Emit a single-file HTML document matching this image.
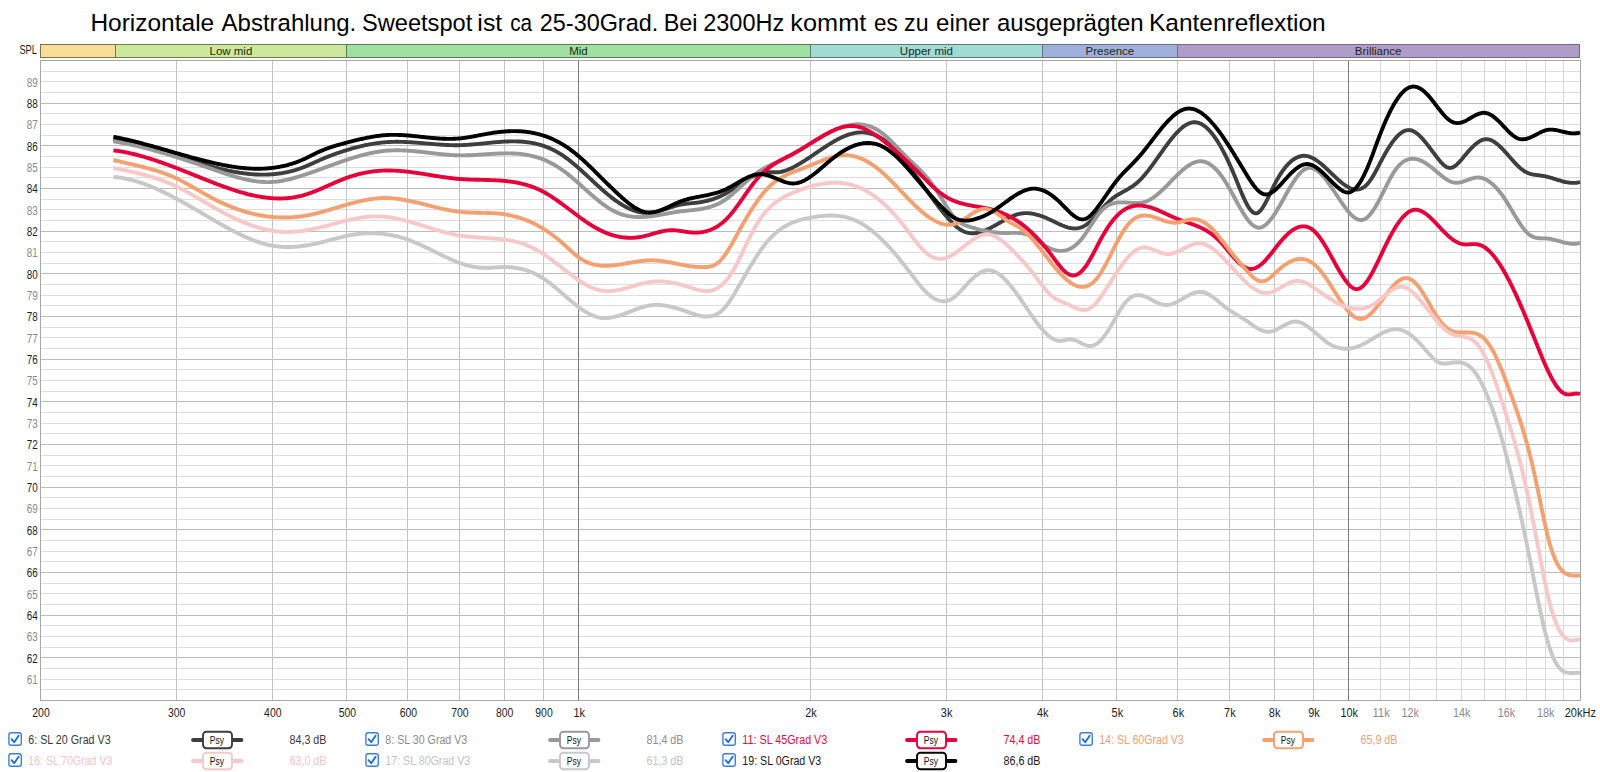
<!DOCTYPE html><html><head><meta charset="utf-8"><style>html,body{margin:0;padding:0;background:#fff;width:1600px;height:772px;overflow:hidden}svg{display:block}text{font-family:"Liberation Sans",sans-serif}</style></head><body>
<svg width="1600" height="772" viewBox="0 0 1600 772">
<rect x="0" y="0" width="1600" height="772" fill="#fff"/>
<text x="90.44" y="30.7" font-size="24.3" fill="#000" textLength="123.74" lengthAdjust="spacingAndGlyphs">Horizontale</text>
<text x="221.6" y="30.7" font-size="24.3" fill="#000" textLength="134.68" lengthAdjust="spacingAndGlyphs">Abstrahlung.</text>
<text x="361.94" y="30.7" font-size="24.3" fill="#000" textLength="110.29" lengthAdjust="spacingAndGlyphs">Sweetspot</text>
<text x="477.38" y="30.7" font-size="24.3" fill="#000" textLength="24.86" lengthAdjust="spacingAndGlyphs">ist</text>
<text x="510.17" y="30.7" font-size="24.3" fill="#000" textLength="21.85" lengthAdjust="spacingAndGlyphs">ca</text>
<text x="539.83" y="30.7" font-size="24.3" fill="#000" textLength="118.36" lengthAdjust="spacingAndGlyphs">25-30Grad.</text>
<text x="663.73" y="30.7" font-size="24.3" fill="#000" textLength="33.8" lengthAdjust="spacingAndGlyphs">Bei</text>
<text x="703.23" y="30.7" font-size="24.3" fill="#000" textLength="80.99" lengthAdjust="spacingAndGlyphs">2300Hz</text>
<text x="790.36" y="30.7" font-size="24.3" fill="#000" textLength="75.9" lengthAdjust="spacingAndGlyphs">kommt</text>
<text x="874.1" y="30.7" font-size="24.3" fill="#000" textLength="23.71" lengthAdjust="spacingAndGlyphs">es</text>
<text x="904.07" y="30.7" font-size="24.3" fill="#000" textLength="24.46" lengthAdjust="spacingAndGlyphs">zu</text>
<text x="936.04" y="30.7" font-size="24.3" fill="#000" textLength="53.41" lengthAdjust="spacingAndGlyphs">einer</text>
<text x="997.04" y="30.7" font-size="24.3" fill="#000" textLength="146.55" lengthAdjust="spacingAndGlyphs">ausgeprägten</text>
<text x="1149.05" y="30.7" font-size="24.3" fill="#000" textLength="176.6" lengthAdjust="spacingAndGlyphs">Kantenreflextion</text>
<text x="19.4" y="53.8" font-size="12.5" fill="#1a1a1a" textLength="17.6" lengthAdjust="spacingAndGlyphs">SPL</text>
<rect x="40" y="44" width="76" height="14" fill="#7f7050" shape-rendering="crispEdges"/>
<rect x="41" y="45" width="74" height="12" fill="#f8dc98" shape-rendering="crispEdges"/>
<rect x="115" y="44" width="232" height="14" fill="#6e7d58" shape-rendering="crispEdges"/>
<rect x="116" y="45" width="230" height="12" fill="#cde89a" shape-rendering="crispEdges"/>
<rect x="346" y="44" width="465" height="14" fill="#5a7a5a" shape-rendering="crispEdges"/>
<rect x="347" y="45" width="463" height="12" fill="#a0e0a0" shape-rendering="crispEdges"/>
<rect x="810" y="44" width="233" height="14" fill="#5e7a78" shape-rendering="crispEdges"/>
<rect x="811" y="45" width="231" height="12" fill="#a0dcd4" shape-rendering="crispEdges"/>
<rect x="1042" y="44" width="136" height="14" fill="#647088" shape-rendering="crispEdges"/>
<rect x="1043" y="45" width="134" height="12" fill="#a0b0dc" shape-rendering="crispEdges"/>
<rect x="1177" y="44" width="403" height="14" fill="#786a80" shape-rendering="crispEdges"/>
<rect x="1178" y="45" width="401" height="12" fill="#b09cc8" shape-rendering="crispEdges"/>
<text x="230.9" y="54.6" font-size="11.5" fill="#1c2a14" text-anchor="middle">Low mid</text>
<text x="578.4" y="54.6" font-size="11.5" fill="#1c2a14" text-anchor="middle">Mid</text>
<text x="926.4" y="54.6" font-size="11.5" fill="#1c2a14" text-anchor="middle">Upper mid</text>
<text x="1109.9" y="54.6" font-size="11.5" fill="#1c2a14" text-anchor="middle">Presence</text>
<text x="1378.2" y="54.6" font-size="11.5" fill="#1c2a14" text-anchor="middle">Brilliance</text>
<line x1="40" y1="689.5" x2="1580" y2="689.5" stroke="#dedede" stroke-width="1"/>
<line x1="40" y1="679.5" x2="1580" y2="679.5" stroke="#dedede" stroke-width="1"/>
<line x1="40" y1="668.5" x2="1580" y2="668.5" stroke="#dedede" stroke-width="1"/>
<line x1="40" y1="657.5" x2="1580" y2="657.5" stroke="#bdbdbd" stroke-width="1"/>
<line x1="40" y1="647.5" x2="1580" y2="647.5" stroke="#dedede" stroke-width="1"/>
<line x1="40" y1="636.5" x2="1580" y2="636.5" stroke="#dedede" stroke-width="1"/>
<line x1="40" y1="625.5" x2="1580" y2="625.5" stroke="#dedede" stroke-width="1"/>
<line x1="40" y1="615.5" x2="1580" y2="615.5" stroke="#bdbdbd" stroke-width="1"/>
<line x1="40" y1="604.5" x2="1580" y2="604.5" stroke="#dedede" stroke-width="1"/>
<line x1="40" y1="593.5" x2="1580" y2="593.5" stroke="#dedede" stroke-width="1"/>
<line x1="40" y1="583.5" x2="1580" y2="583.5" stroke="#dedede" stroke-width="1"/>
<line x1="40" y1="572.5" x2="1580" y2="572.5" stroke="#bdbdbd" stroke-width="1"/>
<line x1="40" y1="561.5" x2="1580" y2="561.5" stroke="#dedede" stroke-width="1"/>
<line x1="40" y1="551.5" x2="1580" y2="551.5" stroke="#dedede" stroke-width="1"/>
<line x1="40" y1="540.5" x2="1580" y2="540.5" stroke="#dedede" stroke-width="1"/>
<line x1="40" y1="529.5" x2="1580" y2="529.5" stroke="#bdbdbd" stroke-width="1"/>
<line x1="40" y1="519.5" x2="1580" y2="519.5" stroke="#dedede" stroke-width="1"/>
<line x1="40" y1="508.5" x2="1580" y2="508.5" stroke="#dedede" stroke-width="1"/>
<line x1="40" y1="497.5" x2="1580" y2="497.5" stroke="#dedede" stroke-width="1"/>
<line x1="40" y1="487.5" x2="1580" y2="487.5" stroke="#bdbdbd" stroke-width="1"/>
<line x1="40" y1="476.5" x2="1580" y2="476.5" stroke="#dedede" stroke-width="1"/>
<line x1="40" y1="465.5" x2="1580" y2="465.5" stroke="#dedede" stroke-width="1"/>
<line x1="40" y1="455.5" x2="1580" y2="455.5" stroke="#dedede" stroke-width="1"/>
<line x1="40" y1="444.5" x2="1580" y2="444.5" stroke="#bdbdbd" stroke-width="1"/>
<line x1="40" y1="433.5" x2="1580" y2="433.5" stroke="#dedede" stroke-width="1"/>
<line x1="40" y1="423.5" x2="1580" y2="423.5" stroke="#dedede" stroke-width="1"/>
<line x1="40" y1="412.5" x2="1580" y2="412.5" stroke="#dedede" stroke-width="1"/>
<line x1="40" y1="401.5" x2="1580" y2="401.5" stroke="#bdbdbd" stroke-width="1"/>
<line x1="40" y1="391.5" x2="1580" y2="391.5" stroke="#dedede" stroke-width="1"/>
<line x1="40" y1="380.5" x2="1580" y2="380.5" stroke="#dedede" stroke-width="1"/>
<line x1="40" y1="369.5" x2="1580" y2="369.5" stroke="#dedede" stroke-width="1"/>
<line x1="40" y1="359.5" x2="1580" y2="359.5" stroke="#bdbdbd" stroke-width="1"/>
<line x1="40" y1="348.5" x2="1580" y2="348.5" stroke="#dedede" stroke-width="1"/>
<line x1="40" y1="337.5" x2="1580" y2="337.5" stroke="#dedede" stroke-width="1"/>
<line x1="40" y1="327.5" x2="1580" y2="327.5" stroke="#dedede" stroke-width="1"/>
<line x1="40" y1="316.5" x2="1580" y2="316.5" stroke="#bdbdbd" stroke-width="1"/>
<line x1="40" y1="305.5" x2="1580" y2="305.5" stroke="#dedede" stroke-width="1"/>
<line x1="40" y1="295.5" x2="1580" y2="295.5" stroke="#dedede" stroke-width="1"/>
<line x1="40" y1="284.5" x2="1580" y2="284.5" stroke="#dedede" stroke-width="1"/>
<line x1="40" y1="273.5" x2="1580" y2="273.5" stroke="#bdbdbd" stroke-width="1"/>
<line x1="40" y1="263.5" x2="1580" y2="263.5" stroke="#dedede" stroke-width="1"/>
<line x1="40" y1="252.5" x2="1580" y2="252.5" stroke="#dedede" stroke-width="1"/>
<line x1="40" y1="241.5" x2="1580" y2="241.5" stroke="#dedede" stroke-width="1"/>
<line x1="40" y1="231.5" x2="1580" y2="231.5" stroke="#bdbdbd" stroke-width="1"/>
<line x1="40" y1="220.5" x2="1580" y2="220.5" stroke="#dedede" stroke-width="1"/>
<line x1="40" y1="209.5" x2="1580" y2="209.5" stroke="#dedede" stroke-width="1"/>
<line x1="40" y1="199.5" x2="1580" y2="199.5" stroke="#dedede" stroke-width="1"/>
<line x1="40" y1="188.5" x2="1580" y2="188.5" stroke="#bdbdbd" stroke-width="1"/>
<line x1="40" y1="177.5" x2="1580" y2="177.5" stroke="#dedede" stroke-width="1"/>
<line x1="40" y1="167.5" x2="1580" y2="167.5" stroke="#dedede" stroke-width="1"/>
<line x1="40" y1="156.5" x2="1580" y2="156.5" stroke="#dedede" stroke-width="1"/>
<line x1="40" y1="145.5" x2="1580" y2="145.5" stroke="#bdbdbd" stroke-width="1"/>
<line x1="40" y1="135.5" x2="1580" y2="135.5" stroke="#dedede" stroke-width="1"/>
<line x1="40" y1="124.5" x2="1580" y2="124.5" stroke="#dedede" stroke-width="1"/>
<line x1="40" y1="113.5" x2="1580" y2="113.5" stroke="#dedede" stroke-width="1"/>
<line x1="40" y1="103.5" x2="1580" y2="103.5" stroke="#bdbdbd" stroke-width="1"/>
<line x1="40" y1="92.5" x2="1580" y2="92.5" stroke="#dedede" stroke-width="1"/>
<line x1="40" y1="81.5" x2="1580" y2="81.5" stroke="#dedede" stroke-width="1"/>
<line x1="40" y1="71.5" x2="1580" y2="71.5" stroke="#dedede" stroke-width="1"/>
<line x1="176.5" y1="60" x2="176.5" y2="700" stroke="#c4c4c4" stroke-width="1"/>
<line x1="272.5" y1="60" x2="272.5" y2="700" stroke="#c4c4c4" stroke-width="1"/>
<line x1="346.5" y1="60" x2="346.5" y2="700" stroke="#c4c4c4" stroke-width="1"/>
<line x1="407.5" y1="60" x2="407.5" y2="700" stroke="#c4c4c4" stroke-width="1"/>
<line x1="459.5" y1="60" x2="459.5" y2="700" stroke="#c4c4c4" stroke-width="1"/>
<line x1="504.5" y1="60" x2="504.5" y2="700" stroke="#c4c4c4" stroke-width="1"/>
<line x1="543.5" y1="60" x2="543.5" y2="700" stroke="#c4c4c4" stroke-width="1"/>
<line x1="578.5" y1="60" x2="578.5" y2="700" stroke="#7a7a7a" stroke-width="1"/>
<line x1="810.5" y1="60" x2="810.5" y2="700" stroke="#c4c4c4" stroke-width="1"/>
<line x1="946.5" y1="60" x2="946.5" y2="700" stroke="#c4c4c4" stroke-width="1"/>
<line x1="1042.5" y1="60" x2="1042.5" y2="700" stroke="#c4c4c4" stroke-width="1"/>
<line x1="1116.5" y1="60" x2="1116.5" y2="700" stroke="#c4c4c4" stroke-width="1"/>
<line x1="1177.5" y1="60" x2="1177.5" y2="700" stroke="#c4c4c4" stroke-width="1"/>
<line x1="1229.5" y1="60" x2="1229.5" y2="700" stroke="#c4c4c4" stroke-width="1"/>
<line x1="1274.5" y1="60" x2="1274.5" y2="700" stroke="#c4c4c4" stroke-width="1"/>
<line x1="1313.5" y1="60" x2="1313.5" y2="700" stroke="#c4c4c4" stroke-width="1"/>
<line x1="1348.5" y1="60" x2="1348.5" y2="700" stroke="#7a7a7a" stroke-width="1"/>
<line x1="1380.5" y1="60" x2="1380.5" y2="700" stroke="#dadada" stroke-width="1"/>
<line x1="1409.5" y1="60" x2="1409.5" y2="700" stroke="#dadada" stroke-width="1"/>
<line x1="1436.5" y1="60" x2="1436.5" y2="700" stroke="#dadada" stroke-width="1"/>
<line x1="1461.5" y1="60" x2="1461.5" y2="700" stroke="#dadada" stroke-width="1"/>
<line x1="1484.5" y1="60" x2="1484.5" y2="700" stroke="#dadada" stroke-width="1"/>
<line x1="1505.5" y1="60" x2="1505.5" y2="700" stroke="#dadada" stroke-width="1"/>
<line x1="1526.5" y1="60" x2="1526.5" y2="700" stroke="#dadada" stroke-width="1"/>
<line x1="1545.5" y1="60" x2="1545.5" y2="700" stroke="#dadada" stroke-width="1"/>
<line x1="1563.5" y1="60" x2="1563.5" y2="700" stroke="#dadada" stroke-width="1"/>
<rect x="40.5" y="60.5" width="1540" height="640" fill="none" stroke="#a8a8a8" stroke-width="1"/>
<text x="37.8" y="684.1" font-size="12" fill="#8a8a8a" text-anchor="end" textLength="11" lengthAdjust="spacingAndGlyphs">61</text>
<text x="37.8" y="662.7" font-size="12" fill="#1e1e1e" text-anchor="end" textLength="11" lengthAdjust="spacingAndGlyphs">62</text>
<text x="37.8" y="641.4" font-size="12" fill="#8a8a8a" text-anchor="end" textLength="11" lengthAdjust="spacingAndGlyphs">63</text>
<text x="37.8" y="620.1" font-size="12" fill="#1e1e1e" text-anchor="end" textLength="11" lengthAdjust="spacingAndGlyphs">64</text>
<text x="37.8" y="598.7" font-size="12" fill="#8a8a8a" text-anchor="end" textLength="11" lengthAdjust="spacingAndGlyphs">65</text>
<text x="37.8" y="577.4" font-size="12" fill="#1e1e1e" text-anchor="end" textLength="11" lengthAdjust="spacingAndGlyphs">66</text>
<text x="37.8" y="556.1" font-size="12" fill="#8a8a8a" text-anchor="end" textLength="11" lengthAdjust="spacingAndGlyphs">67</text>
<text x="37.8" y="534.7" font-size="12" fill="#1e1e1e" text-anchor="end" textLength="11" lengthAdjust="spacingAndGlyphs">68</text>
<text x="37.8" y="513.4" font-size="12" fill="#8a8a8a" text-anchor="end" textLength="11" lengthAdjust="spacingAndGlyphs">69</text>
<text x="37.8" y="492.1" font-size="12" fill="#1e1e1e" text-anchor="end" textLength="11" lengthAdjust="spacingAndGlyphs">70</text>
<text x="37.8" y="470.7" font-size="12" fill="#8a8a8a" text-anchor="end" textLength="11" lengthAdjust="spacingAndGlyphs">71</text>
<text x="37.8" y="449.4" font-size="12" fill="#1e1e1e" text-anchor="end" textLength="11" lengthAdjust="spacingAndGlyphs">72</text>
<text x="37.8" y="428.1" font-size="12" fill="#8a8a8a" text-anchor="end" textLength="11" lengthAdjust="spacingAndGlyphs">73</text>
<text x="37.8" y="406.7" font-size="12" fill="#1e1e1e" text-anchor="end" textLength="11" lengthAdjust="spacingAndGlyphs">74</text>
<text x="37.8" y="385.4" font-size="12" fill="#8a8a8a" text-anchor="end" textLength="11" lengthAdjust="spacingAndGlyphs">75</text>
<text x="37.8" y="364.1" font-size="12" fill="#1e1e1e" text-anchor="end" textLength="11" lengthAdjust="spacingAndGlyphs">76</text>
<text x="37.8" y="342.7" font-size="12" fill="#8a8a8a" text-anchor="end" textLength="11" lengthAdjust="spacingAndGlyphs">77</text>
<text x="37.8" y="321.4" font-size="12" fill="#1e1e1e" text-anchor="end" textLength="11" lengthAdjust="spacingAndGlyphs">78</text>
<text x="37.8" y="300.1" font-size="12" fill="#8a8a8a" text-anchor="end" textLength="11" lengthAdjust="spacingAndGlyphs">79</text>
<text x="37.8" y="278.7" font-size="12" fill="#1e1e1e" text-anchor="end" textLength="11" lengthAdjust="spacingAndGlyphs">80</text>
<text x="37.8" y="257.4" font-size="12" fill="#8a8a8a" text-anchor="end" textLength="11" lengthAdjust="spacingAndGlyphs">81</text>
<text x="37.8" y="236.1" font-size="12" fill="#1e1e1e" text-anchor="end" textLength="11" lengthAdjust="spacingAndGlyphs">82</text>
<text x="37.8" y="214.7" font-size="12" fill="#8a8a8a" text-anchor="end" textLength="11" lengthAdjust="spacingAndGlyphs">83</text>
<text x="37.8" y="193.4" font-size="12" fill="#1e1e1e" text-anchor="end" textLength="11" lengthAdjust="spacingAndGlyphs">84</text>
<text x="37.8" y="172.1" font-size="12" fill="#8a8a8a" text-anchor="end" textLength="11" lengthAdjust="spacingAndGlyphs">85</text>
<text x="37.8" y="150.7" font-size="12" fill="#1e1e1e" text-anchor="end" textLength="11" lengthAdjust="spacingAndGlyphs">86</text>
<text x="37.8" y="129.4" font-size="12" fill="#8a8a8a" text-anchor="end" textLength="11" lengthAdjust="spacingAndGlyphs">87</text>
<text x="37.8" y="108.1" font-size="12" fill="#1e1e1e" text-anchor="end" textLength="11" lengthAdjust="spacingAndGlyphs">88</text>
<text x="37.8" y="86.7" font-size="12" fill="#8a8a8a" text-anchor="end" textLength="11" lengthAdjust="spacingAndGlyphs">89</text>
<text x="41.0" y="716.8" font-size="12.3" fill="#1e1e1e" text-anchor="middle" textLength="17.4" lengthAdjust="spacingAndGlyphs">200</text>
<text x="176.6" y="716.8" font-size="12.3" fill="#1e1e1e" text-anchor="middle" textLength="17.4" lengthAdjust="spacingAndGlyphs">300</text>
<text x="272.8" y="716.8" font-size="12.3" fill="#1e1e1e" text-anchor="middle" textLength="17.4" lengthAdjust="spacingAndGlyphs">400</text>
<text x="347.4" y="716.8" font-size="12.3" fill="#1e1e1e" text-anchor="middle" textLength="17.4" lengthAdjust="spacingAndGlyphs">500</text>
<text x="408.4" y="716.8" font-size="12.3" fill="#1e1e1e" text-anchor="middle" textLength="17.4" lengthAdjust="spacingAndGlyphs">600</text>
<text x="459.9" y="716.8" font-size="12.3" fill="#1e1e1e" text-anchor="middle" textLength="17.4" lengthAdjust="spacingAndGlyphs">700</text>
<text x="504.6" y="716.8" font-size="12.3" fill="#1e1e1e" text-anchor="middle" textLength="17.4" lengthAdjust="spacingAndGlyphs">800</text>
<text x="544.0" y="716.8" font-size="12.3" fill="#1e1e1e" text-anchor="middle" textLength="17.4" lengthAdjust="spacingAndGlyphs">900</text>
<text x="579.2" y="716.8" font-size="12.3" fill="#1e1e1e" text-anchor="middle" textLength="11.6" lengthAdjust="spacingAndGlyphs">1k</text>
<text x="811.0" y="716.8" font-size="12.3" fill="#1e1e1e" text-anchor="middle" textLength="11.6" lengthAdjust="spacingAndGlyphs">2k</text>
<text x="946.6" y="716.8" font-size="12.3" fill="#1e1e1e" text-anchor="middle" textLength="11.6" lengthAdjust="spacingAndGlyphs">3k</text>
<text x="1042.8" y="716.8" font-size="12.3" fill="#1e1e1e" text-anchor="middle" textLength="11.6" lengthAdjust="spacingAndGlyphs">4k</text>
<text x="1117.4" y="716.8" font-size="12.3" fill="#1e1e1e" text-anchor="middle" textLength="11.6" lengthAdjust="spacingAndGlyphs">5k</text>
<text x="1178.4" y="716.8" font-size="12.3" fill="#1e1e1e" text-anchor="middle" textLength="11.6" lengthAdjust="spacingAndGlyphs">6k</text>
<text x="1229.9" y="716.8" font-size="12.3" fill="#1e1e1e" text-anchor="middle" textLength="11.6" lengthAdjust="spacingAndGlyphs">7k</text>
<text x="1274.6" y="716.8" font-size="12.3" fill="#1e1e1e" text-anchor="middle" textLength="11.6" lengthAdjust="spacingAndGlyphs">8k</text>
<text x="1314.0" y="716.8" font-size="12.3" fill="#1e1e1e" text-anchor="middle" textLength="11.6" lengthAdjust="spacingAndGlyphs">9k</text>
<text x="1349.2" y="716.8" font-size="12.3" fill="#1e1e1e" text-anchor="middle" textLength="17.4" lengthAdjust="spacingAndGlyphs">10k</text>
<text x="1381.1" y="716.8" font-size="12.3" fill="#8a8a8a" text-anchor="middle" textLength="17.4" lengthAdjust="spacingAndGlyphs">11k</text>
<text x="1410.2" y="716.8" font-size="12.3" fill="#8a8a8a" text-anchor="middle" textLength="17.4" lengthAdjust="spacingAndGlyphs">12k</text>
<text x="1461.7" y="716.8" font-size="12.3" fill="#8a8a8a" text-anchor="middle" textLength="17.4" lengthAdjust="spacingAndGlyphs">14k</text>
<text x="1506.4" y="716.8" font-size="12.3" fill="#8a8a8a" text-anchor="middle" textLength="17.4" lengthAdjust="spacingAndGlyphs">16k</text>
<text x="1545.8" y="716.8" font-size="12.3" fill="#8a8a8a" text-anchor="middle" textLength="17.4" lengthAdjust="spacingAndGlyphs">18k</text>
<text x="1564.7" y="716.8" font-size="12.3" fill="#1e1e1e" textLength="31.2" lengthAdjust="spacingAndGlyphs">20kHz</text>
<g fill="none" stroke-width="3.9" stroke-linejoin="round" stroke-linecap="butt">
<path d="M113.4,139.34 L114.4,139.47 L115.4,139.61 L116.4,139.76 L117.4,139.91 L118.4,140.06 L119.4,140.22 L120.4,140.39 L121.4,140.56 L122.4,140.74 L123.4,140.92 L124.4,141.11 L125.4,141.30 L126.4,141.50 L127.4,141.70 L128.4,141.91 L129.4,142.12 L130.4,142.34 L131.4,142.56 L132.4,142.78 L133.4,143.01 L134.4,143.24 L135.4,143.48 L136.4,143.72 L137.4,143.97 L138.4,144.22 L139.4,144.47 L140.4,144.73 L141.4,144.99 L142.4,145.25 L143.4,145.52 L144.4,145.79 L145.4,146.06 L146.4,146.34 L147.4,146.62 L148.4,146.90 L149.4,147.18 L150.4,147.47 L151.4,147.76 L152.4,148.05 L153.4,148.35 L154.4,148.65 L155.4,148.95 L156.4,149.25 L157.4,149.55 L158.4,149.86 L159.4,150.17 L160.4,150.48 L161.4,150.79 L162.4,151.10 L163.4,151.41 L164.4,151.73 L165.4,152.05 L166.4,152.36 L167.4,152.68 L168.4,153.00 L169.4,153.33 L170.4,153.65 L171.4,153.97 L172.4,154.30 L173.4,154.62 L174.4,154.94 L175.4,155.27 L176.4,155.60 L177.4,155.92 L178.4,156.25 L179.4,156.57 L180.4,156.90 L181.4,157.22 L182.4,157.55 L183.4,157.87 L184.4,158.20 L185.4,158.52 L186.4,158.85 L187.4,159.17 L188.4,159.49 L189.4,159.81 L190.4,160.13 L191.4,160.45 L192.4,160.77 L193.4,161.09 L194.4,161.40 L195.4,161.72 L196.4,162.03 L197.4,162.34 L198.4,162.65 L199.4,162.96 L200.4,163.26 L201.4,163.56 L202.4,163.86 L203.4,164.16 L204.4,164.46 L205.4,164.75 L206.4,165.05 L207.4,165.34 L208.4,165.62 L209.4,165.91 L210.4,166.19 L211.4,166.47 L212.4,166.74 L213.4,167.01 L214.4,167.28 L215.4,167.55 L216.4,167.81 L217.4,168.07 L218.4,168.33 L219.4,168.58 L220.4,168.82 L221.4,169.07 L222.4,169.31 L223.4,169.55 L224.4,169.78 L225.4,170.01 L226.4,170.23 L227.4,170.45 L228.4,170.66 L229.4,170.87 L230.4,171.08 L231.4,171.28 L232.4,171.47 L233.4,171.67 L234.4,171.85 L235.4,172.03 L236.4,172.21 L237.4,172.38 L238.4,172.54 L239.4,172.70 L240.4,172.86 L241.4,173.00 L242.4,173.15 L243.4,173.28 L244.4,173.41 L245.4,173.54 L246.4,173.66 L247.4,173.77 L248.4,173.87 L249.4,173.97 L250.4,174.07 L251.4,174.15 L252.4,174.23 L253.4,174.31 L254.4,174.37 L255.4,174.43 L256.4,174.48 L257.4,174.53 L258.4,174.57 L259.4,174.60 L260.4,174.62 L261.4,174.63 L262.4,174.64 L263.4,174.64 L264.4,174.63 L265.4,174.62 L266.4,174.59 L267.4,174.56 L268.4,174.52 L269.4,174.47 L270.4,174.42 L271.4,174.35 L272.4,174.28 L273.4,174.20 L274.4,174.11 L275.4,174.01 L276.4,173.90 L277.4,173.78 L278.4,173.66 L279.4,173.52 L280.4,173.37 L281.4,173.22 L282.4,173.06 L283.4,172.88 L284.4,172.70 L285.4,172.51 L286.4,172.31 L287.4,172.09 L288.4,171.87 L289.4,171.64 L290.4,171.40 L291.4,171.14 L292.4,170.88 L293.4,170.61 L294.4,170.32 L295.4,170.03 L296.4,169.72 L297.4,169.41 L298.4,169.08 L299.4,168.74 L300.4,168.39 L301.4,168.03 L302.4,167.66 L303.4,167.27 L304.4,166.88 L305.4,166.47 L306.4,166.06 L307.4,165.63 L308.4,165.20 L309.4,164.77 L310.4,164.32 L311.4,163.87 L312.4,163.42 L313.4,162.97 L314.4,162.52 L315.4,162.06 L316.4,161.61 L317.4,161.15 L318.4,160.71 L319.4,160.26 L320.4,159.82 L321.4,159.39 L322.4,158.96 L323.4,158.53 L324.4,158.12 L325.4,157.71 L326.4,157.30 L327.4,156.90 L328.4,156.50 L329.4,156.11 L330.4,155.73 L331.4,155.35 L332.4,154.97 L333.4,154.60 L334.4,154.24 L335.4,153.88 L336.4,153.52 L337.4,153.17 L338.4,152.82 L339.4,152.48 L340.4,152.15 L341.4,151.81 L342.4,151.49 L343.4,151.16 L344.4,150.84 L345.4,150.53 L346.4,150.22 L347.4,149.91 L348.4,149.61 L349.4,149.32 L350.4,149.02 L351.4,148.73 L352.4,148.45 L353.4,148.17 L354.4,147.90 L355.4,147.63 L356.4,147.36 L357.4,147.11 L358.4,146.85 L359.4,146.60 L360.4,146.36 L361.4,146.12 L362.4,145.89 L363.4,145.66 L364.4,145.44 L365.4,145.22 L366.4,145.01 L367.4,144.81 L368.4,144.61 L369.4,144.42 L370.4,144.24 L371.4,144.06 L372.4,143.88 L373.4,143.72 L374.4,143.56 L375.4,143.40 L376.4,143.26 L377.4,143.11 L378.4,142.98 L379.4,142.85 L380.4,142.74 L381.4,142.62 L382.4,142.52 L383.4,142.42 L384.4,142.33 L385.4,142.25 L386.4,142.17 L387.4,142.10 L388.4,142.04 L389.4,141.99 L390.4,141.94 L391.4,141.90 L392.4,141.87 L393.4,141.85 L394.4,141.83 L395.4,141.82 L396.4,141.81 L397.4,141.81 L398.4,141.82 L399.4,141.83 L400.4,141.84 L401.4,141.86 L402.4,141.89 L403.4,141.92 L404.4,141.96 L405.4,142.00 L406.4,142.04 L407.4,142.09 L408.4,142.14 L409.4,142.20 L410.4,142.26 L411.4,142.32 L412.4,142.38 L413.4,142.45 L414.4,142.52 L415.4,142.59 L416.4,142.67 L417.4,142.75 L418.4,142.83 L419.4,142.91 L420.4,142.99 L421.4,143.07 L422.4,143.15 L423.4,143.24 L424.4,143.32 L425.4,143.41 L426.4,143.50 L427.4,143.58 L428.4,143.67 L429.4,143.75 L430.4,143.84 L431.4,143.92 L432.4,144.01 L433.4,144.09 L434.4,144.17 L435.4,144.25 L436.4,144.33 L437.4,144.40 L438.4,144.47 L439.4,144.55 L440.4,144.61 L441.4,144.68 L442.4,144.74 L443.4,144.80 L444.4,144.86 L445.4,144.91 L446.4,144.96 L447.4,145.01 L448.4,145.05 L449.4,145.09 L450.4,145.12 L451.4,145.15 L452.4,145.17 L453.4,145.19 L454.4,145.20 L455.4,145.21 L456.4,145.21 L457.4,145.21 L458.4,145.20 L459.4,145.18 L460.4,145.16 L461.4,145.13 L462.4,145.09 L463.4,145.05 L464.4,145.00 L465.4,144.95 L466.4,144.90 L467.4,144.84 L468.4,144.77 L469.4,144.70 L470.4,144.63 L471.4,144.55 L472.4,144.47 L473.4,144.38 L474.4,144.30 L475.4,144.21 L476.4,144.12 L477.4,144.02 L478.4,143.93 L479.4,143.83 L480.4,143.73 L481.4,143.63 L482.4,143.53 L483.4,143.43 L484.4,143.33 L485.4,143.22 L486.4,143.12 L487.4,143.02 L488.4,142.92 L489.4,142.82 L490.4,142.72 L491.4,142.62 L492.4,142.53 L493.4,142.43 L494.4,142.34 L495.4,142.25 L496.4,142.17 L497.4,142.08 L498.4,142.00 L499.4,141.93 L500.4,141.85 L501.4,141.78 L502.4,141.72 L503.4,141.66 L504.4,141.60 L505.4,141.55 L506.4,141.51 L507.4,141.47 L508.4,141.43 L509.4,141.41 L510.4,141.38 L511.4,141.37 L512.4,141.36 L513.4,141.36 L514.4,141.37 L515.4,141.38 L516.4,141.40 L517.4,141.43 L518.4,141.47 L519.4,141.51 L520.4,141.57 L521.4,141.63 L522.4,141.71 L523.4,141.79 L524.4,141.88 L525.4,141.99 L526.4,142.10 L527.4,142.22 L528.4,142.36 L529.4,142.50 L530.4,142.66 L531.4,142.83 L532.4,143.01 L533.4,143.21 L534.4,143.41 L535.4,143.63 L536.4,143.86 L537.4,144.10 L538.4,144.36 L539.4,144.63 L540.4,144.92 L541.4,145.22 L542.4,145.53 L543.4,145.86 L544.4,146.20 L545.4,146.56 L546.4,146.94 L547.4,147.33 L548.4,147.73 L549.4,148.16 L550.4,148.59 L551.4,149.05 L552.4,149.52 L553.4,150.01 L554.4,150.52 L555.4,151.04 L556.4,151.59 L557.4,152.15 L558.4,152.73 L559.4,153.33 L560.4,153.94 L561.4,154.58 L562.4,155.24 L563.4,155.91 L564.4,156.61 L565.4,157.32 L566.4,158.05 L567.4,158.79 L568.4,159.55 L569.4,160.33 L570.4,161.12 L571.4,161.92 L572.4,162.74 L573.4,163.57 L574.4,164.41 L575.4,165.26 L576.4,166.12 L577.4,167.00 L578.4,167.88 L579.4,168.76 L580.4,169.66 L581.4,170.56 L582.4,171.47 L583.4,172.38 L584.4,173.30 L585.4,174.22 L586.4,175.15 L587.4,176.08 L588.4,177.01 L589.4,177.94 L590.4,178.87 L591.4,179.80 L592.4,180.74 L593.4,181.66 L594.4,182.59 L595.4,183.52 L596.4,184.44 L597.4,185.35 L598.4,186.26 L599.4,187.17 L600.4,188.07 L601.4,188.96 L602.4,189.85 L603.4,190.72 L604.4,191.59 L605.4,192.45 L606.4,193.29 L607.4,194.13 L608.4,194.95 L609.4,195.77 L610.4,196.56 L611.4,197.35 L612.4,198.12 L613.4,198.88 L614.4,199.62 L615.4,200.35 L616.4,201.06 L617.4,201.76 L618.4,202.43 L619.4,203.10 L620.4,203.74 L621.4,204.37 L622.4,204.98 L623.4,205.57 L624.4,206.14 L625.4,206.69 L626.4,207.22 L627.4,207.73 L628.4,208.21 L629.4,208.68 L630.4,209.13 L631.4,209.55 L632.4,209.95 L633.4,210.32 L634.4,210.68 L635.4,211.00 L636.4,211.31 L637.4,211.59 L638.4,211.84 L639.4,212.06 L640.4,212.26 L641.4,212.44 L642.4,212.58 L643.4,212.70 L644.4,212.78 L645.4,212.84 L646.4,212.87 L647.4,212.87 L648.4,212.84 L649.4,212.79 L650.4,212.70 L651.4,212.59 L652.4,212.45 L653.4,212.29 L654.4,212.10 L655.4,211.90 L656.4,211.68 L657.4,211.44 L658.4,211.18 L659.4,210.91 L660.4,210.63 L661.4,210.34 L662.4,210.04 L663.4,209.73 L664.4,209.41 L665.4,209.09 L666.4,208.77 L667.4,208.44 L668.4,208.11 L669.4,207.78 L670.4,207.46 L671.4,207.14 L672.4,206.83 L673.4,206.52 L674.4,206.22 L675.4,205.94 L676.4,205.66 L677.4,205.40 L678.4,205.15 L679.4,204.92 L680.4,204.71 L681.4,204.51 L682.4,204.33 L683.4,204.17 L684.4,204.02 L685.4,203.88 L686.4,203.76 L687.4,203.64 L688.4,203.53 L689.4,203.42 L690.4,203.32 L691.4,203.22 L692.4,203.12 L693.4,203.03 L694.4,202.92 L695.4,202.82 L696.4,202.71 L697.4,202.59 L698.4,202.46 L699.4,202.32 L700.4,202.17 L701.4,202.01 L702.4,201.83 L703.4,201.64 L704.4,201.44 L705.4,201.22 L706.4,200.99 L707.4,200.75 L708.4,200.49 L709.4,200.22 L710.4,199.93 L711.4,199.63 L712.4,199.31 L713.4,198.98 L714.4,198.63 L715.4,198.26 L716.4,197.88 L717.4,197.48 L718.4,197.07 L719.4,196.64 L720.4,196.19 L721.4,195.72 L722.4,195.23 L723.4,194.73 L724.4,194.21 L725.4,193.67 L726.4,193.11 L727.4,192.53 L728.4,191.94 L729.4,191.33 L730.4,190.71 L731.4,190.08 L732.4,189.44 L733.4,188.79 L734.4,188.13 L735.4,187.47 L736.4,186.80 L737.4,186.13 L738.4,185.46 L739.4,184.79 L740.4,184.13 L741.4,183.46 L742.4,182.80 L743.4,182.15 L744.4,181.50 L745.4,180.87 L746.4,180.24 L747.4,179.63 L748.4,179.03 L749.4,178.44 L750.4,177.88 L751.4,177.33 L752.4,176.80 L753.4,176.29 L754.4,175.80 L755.4,175.34 L756.4,174.90 L757.4,174.49 L758.4,174.11 L759.4,173.76 L760.4,173.44 L761.4,173.15 L762.4,172.90 L763.4,172.69 L764.4,172.51 L765.4,172.37 L766.4,172.27 L767.4,172.21 L768.4,172.18 L769.4,172.17 L770.4,172.18 L771.4,172.21 L772.4,172.24 L773.4,172.27 L774.4,172.29 L775.4,172.30 L776.4,172.29 L777.4,172.26 L778.4,172.19 L779.4,172.08 L780.4,171.93 L781.4,171.74 L782.4,171.52 L783.4,171.26 L784.4,170.96 L785.4,170.63 L786.4,170.28 L787.4,169.90 L788.4,169.49 L789.4,169.06 L790.4,168.61 L791.4,168.14 L792.4,167.65 L793.4,167.15 L794.4,166.63 L795.4,166.10 L796.4,165.55 L797.4,165.00 L798.4,164.43 L799.4,163.84 L800.4,163.25 L801.4,162.64 L802.4,162.03 L803.4,161.41 L804.4,160.78 L805.4,160.14 L806.4,159.49 L807.4,158.84 L808.4,158.18 L809.4,157.52 L810.4,156.85 L811.4,156.18 L812.4,155.50 L813.4,154.83 L814.4,154.15 L815.4,153.47 L816.4,152.79 L817.4,152.11 L818.4,151.43 L819.4,150.75 L820.4,150.07 L821.4,149.40 L822.4,148.73 L823.4,148.06 L824.4,147.40 L825.4,146.75 L826.4,146.10 L827.4,145.46 L828.4,144.82 L829.4,144.20 L830.4,143.58 L831.4,142.97 L832.4,142.37 L833.4,141.78 L834.4,141.21 L835.4,140.64 L836.4,140.09 L837.4,139.56 L838.4,139.03 L839.4,138.52 L840.4,138.03 L841.4,137.55 L842.4,137.09 L843.4,136.65 L844.4,136.22 L845.4,135.81 L846.4,135.43 L847.4,135.06 L848.4,134.71 L849.4,134.39 L850.4,134.08 L851.4,133.80 L852.4,133.55 L853.4,133.31 L854.4,133.10 L855.4,132.92 L856.4,132.76 L857.4,132.63 L858.4,132.53 L859.4,132.45 L860.4,132.40 L861.4,132.38 L862.4,132.39 L863.4,132.42 L864.4,132.49 L865.4,132.58 L866.4,132.71 L867.4,132.86 L868.4,133.04 L869.4,133.26 L870.4,133.50 L871.4,133.78 L872.4,134.09 L873.4,134.43 L874.4,134.80 L875.4,135.20 L876.4,135.64 L877.4,136.11 L878.4,136.61 L879.4,137.15 L880.4,137.72 L881.4,138.32 L882.4,138.96 L883.4,139.64 L884.4,140.35 L885.4,141.09 L886.4,141.87 L887.4,142.68 L888.4,143.52 L889.4,144.39 L890.4,145.29 L891.4,146.22 L892.4,147.18 L893.4,148.17 L894.4,149.18 L895.4,150.22 L896.4,151.28 L897.4,152.36 L898.4,153.47 L899.4,154.60 L900.4,155.75 L901.4,156.93 L902.4,158.12 L903.4,159.33 L904.4,160.55 L905.4,161.80 L906.4,163.05 L907.4,164.33 L908.4,165.62 L909.4,166.92 L910.4,168.23 L911.4,169.56 L912.4,170.89 L913.4,172.24 L914.4,173.59 L915.4,174.95 L916.4,176.32 L917.4,177.70 L918.4,179.08 L919.4,180.46 L920.4,181.85 L921.4,183.24 L922.4,184.63 L923.4,186.03 L924.4,187.42 L925.4,188.81 L926.4,190.20 L927.4,191.59 L928.4,192.98 L929.4,194.36 L930.4,195.73 L931.4,197.10 L932.4,198.46 L933.4,199.82 L934.4,201.16 L935.4,202.50 L936.4,203.82 L937.4,205.14 L938.4,206.44 L939.4,207.73 L940.4,209.00 L941.4,210.26 L942.4,211.50 L943.4,212.73 L944.4,213.94 L945.4,215.13 L946.4,216.30 L947.4,217.46 L948.4,218.59 L949.4,219.70 L950.4,220.78 L951.4,221.84 L952.4,222.88 L953.4,223.88 L954.4,224.84 L955.4,225.76 L956.4,226.64 L957.4,227.48 L958.4,228.26 L959.4,228.98 L960.4,229.65 L961.4,230.26 L962.4,230.80 L963.4,231.29 L964.4,231.72 L965.4,232.09 L966.4,232.41 L967.4,232.67 L968.4,232.89 L969.4,233.05 L970.4,233.17 L971.4,233.24 L972.4,233.27 L973.4,233.25 L974.4,233.19 L975.4,233.10 L976.4,232.96 L977.4,232.79 L978.4,232.58 L979.4,232.34 L980.4,232.07 L981.4,231.76 L982.4,231.43 L983.4,231.07 L984.4,230.69 L985.4,230.28 L986.4,229.85 L987.4,229.40 L988.4,228.93 L989.4,228.45 L990.4,227.95 L991.4,227.43 L992.4,226.90 L993.4,226.36 L994.4,225.81 L995.4,225.25 L996.4,224.69 L997.4,224.12 L998.4,223.55 L999.4,222.98 L1000.4,222.41 L1001.4,221.84 L1002.4,221.27 L1003.4,220.71 L1004.4,220.16 L1005.4,219.61 L1006.4,219.08 L1007.4,218.55 L1008.4,218.04 L1009.4,217.55 L1010.4,217.07 L1011.4,216.61 L1012.4,216.18 L1013.4,215.76 L1014.4,215.37 L1015.4,215.01 L1016.4,214.67 L1017.4,214.36 L1018.4,214.09 L1019.4,213.85 L1020.4,213.64 L1021.4,213.46 L1022.4,213.33 L1023.4,213.22 L1024.4,213.15 L1025.4,213.11 L1026.4,213.10 L1027.4,213.13 L1028.4,213.18 L1029.4,213.26 L1030.4,213.36 L1031.4,213.50 L1032.4,213.66 L1033.4,213.84 L1034.4,214.05 L1035.4,214.28 L1036.4,214.53 L1037.4,214.80 L1038.4,215.10 L1039.4,215.41 L1040.4,215.74 L1041.4,216.09 L1042.4,216.45 L1043.4,216.83 L1044.4,217.23 L1045.4,217.64 L1046.4,218.06 L1047.4,218.50 L1048.4,218.94 L1049.4,219.40 L1050.4,219.86 L1051.4,220.34 L1052.4,220.82 L1053.4,221.30 L1054.4,221.79 L1055.4,222.28 L1056.4,222.76 L1057.4,223.24 L1058.4,223.72 L1059.4,224.18 L1060.4,224.64 L1061.4,225.07 L1062.4,225.50 L1063.4,225.90 L1064.4,226.28 L1065.4,226.64 L1066.4,226.97 L1067.4,227.28 L1068.4,227.55 L1069.4,227.79 L1070.4,228.00 L1071.4,228.17 L1072.4,228.30 L1073.4,228.38 L1074.4,228.43 L1075.4,228.42 L1076.4,228.36 L1077.4,228.26 L1078.4,228.10 L1079.4,227.88 L1080.4,227.60 L1081.4,227.27 L1082.4,226.87 L1083.4,226.40 L1084.4,225.87 L1085.4,225.26 L1086.4,224.59 L1087.4,223.85 L1088.4,223.05 L1089.4,222.20 L1090.4,221.30 L1091.4,220.36 L1092.4,219.37 L1093.4,218.35 L1094.4,217.30 L1095.4,216.22 L1096.4,215.13 L1097.4,214.01 L1098.4,212.89 L1099.4,211.75 L1100.4,210.62 L1101.4,209.49 L1102.4,208.36 L1103.4,207.25 L1104.4,206.16 L1105.4,205.09 L1106.4,204.04 L1107.4,203.03 L1108.4,202.05 L1109.4,201.11 L1110.4,200.22 L1111.4,199.38 L1112.4,198.58 L1113.4,197.82 L1114.4,197.09 L1115.4,196.40 L1116.4,195.74 L1117.4,195.11 L1118.4,194.50 L1119.4,193.90 L1120.4,193.33 L1121.4,192.76 L1122.4,192.20 L1123.4,191.65 L1124.4,191.10 L1125.4,190.55 L1126.4,189.99 L1127.4,189.42 L1128.4,188.84 L1129.4,188.25 L1130.4,187.63 L1131.4,186.99 L1132.4,186.32 L1133.4,185.63 L1134.4,184.90 L1135.4,184.13 L1136.4,183.32 L1137.4,182.47 L1138.4,181.57 L1139.4,180.62 L1140.4,179.63 L1141.4,178.60 L1142.4,177.52 L1143.4,176.41 L1144.4,175.26 L1145.4,174.07 L1146.4,172.86 L1147.4,171.61 L1148.4,170.34 L1149.4,169.05 L1150.4,167.73 L1151.4,166.39 L1152.4,165.04 L1153.4,163.67 L1154.4,162.28 L1155.4,160.89 L1156.4,159.49 L1157.4,158.08 L1158.4,156.66 L1159.4,155.25 L1160.4,153.83 L1161.4,152.42 L1162.4,151.01 L1163.4,149.61 L1164.4,148.22 L1165.4,146.84 L1166.4,145.48 L1167.4,144.13 L1168.4,142.80 L1169.4,141.49 L1170.4,140.21 L1171.4,138.95 L1172.4,137.71 L1173.4,136.51 L1174.4,135.34 L1175.4,134.21 L1176.4,133.11 L1177.4,132.05 L1178.4,131.03 L1179.4,130.06 L1180.4,129.13 L1181.4,128.25 L1182.4,127.42 L1183.4,126.65 L1184.4,125.92 L1185.4,125.26 L1186.4,124.66 L1187.4,124.11 L1188.4,123.64 L1189.4,123.23 L1190.4,122.88 L1191.4,122.61 L1192.4,122.41 L1193.4,122.29 L1194.4,122.24 L1195.4,122.28 L1196.4,122.39 L1197.4,122.58 L1198.4,122.85 L1199.4,123.19 L1200.4,123.60 L1201.4,124.09 L1202.4,124.65 L1203.4,125.29 L1204.4,125.99 L1205.4,126.77 L1206.4,127.61 L1207.4,128.52 L1208.4,129.50 L1209.4,130.54 L1210.4,131.65 L1211.4,132.82 L1212.4,134.06 L1213.4,135.36 L1214.4,136.72 L1215.4,138.14 L1216.4,139.62 L1217.4,141.15 L1218.4,142.75 L1219.4,144.40 L1220.4,146.11 L1221.4,147.87 L1222.4,149.69 L1223.4,151.56 L1224.4,153.48 L1225.4,155.45 L1226.4,157.47 L1227.4,159.54 L1228.4,161.66 L1229.4,163.83 L1230.4,166.04 L1231.4,168.30 L1232.4,170.60 L1233.4,172.95 L1234.4,175.34 L1235.4,177.77 L1236.4,180.23 L1237.4,182.71 L1238.4,185.20 L1239.4,187.67 L1240.4,190.12 L1241.4,192.52 L1242.4,194.87 L1243.4,197.14 L1244.4,199.33 L1245.4,201.42 L1246.4,203.39 L1247.4,205.23 L1248.4,206.91 L1249.4,208.44 L1250.4,209.79 L1251.4,210.95 L1252.4,211.90 L1253.4,212.62 L1254.4,213.11 L1255.4,213.35 L1256.4,213.31 L1257.4,213.01 L1258.4,212.45 L1259.4,211.65 L1260.4,210.63 L1261.4,209.42 L1262.4,208.03 L1263.4,206.48 L1264.4,204.80 L1265.4,202.99 L1266.4,201.09 L1267.4,199.11 L1268.4,197.07 L1269.4,194.99 L1270.4,192.89 L1271.4,190.80 L1272.4,188.72 L1273.4,186.68 L1274.4,184.70 L1275.4,182.79 L1276.4,180.94 L1277.4,179.16 L1278.4,177.44 L1279.4,175.79 L1280.4,174.21 L1281.4,172.69 L1282.4,171.23 L1283.4,169.85 L1284.4,168.52 L1285.4,167.26 L1286.4,166.07 L1287.4,164.95 L1288.4,163.89 L1289.4,162.89 L1290.4,161.96 L1291.4,161.09 L1292.4,160.29 L1293.4,159.56 L1294.4,158.89 L1295.4,158.29 L1296.4,157.75 L1297.4,157.28 L1298.4,156.87 L1299.4,156.53 L1300.4,156.25 L1301.4,156.04 L1302.4,155.89 L1303.4,155.81 L1304.4,155.80 L1305.4,155.85 L1306.4,155.96 L1307.4,156.14 L1308.4,156.38 L1309.4,156.69 L1310.4,157.05 L1311.4,157.47 L1312.4,157.93 L1313.4,158.45 L1314.4,159.02 L1315.4,159.63 L1316.4,160.28 L1317.4,160.98 L1318.4,161.71 L1319.4,162.47 L1320.4,163.26 L1321.4,164.08 L1322.4,164.93 L1323.4,165.80 L1324.4,166.70 L1325.4,167.61 L1326.4,168.53 L1327.4,169.47 L1328.4,170.41 L1329.4,171.37 L1330.4,172.33 L1331.4,173.29 L1332.4,174.25 L1333.4,175.20 L1334.4,176.15 L1335.4,177.09 L1336.4,178.02 L1337.4,178.93 L1338.4,179.83 L1339.4,180.71 L1340.4,181.56 L1341.4,182.39 L1342.4,183.20 L1343.4,183.97 L1344.4,184.70 L1345.4,185.40 L1346.4,186.06 L1347.4,186.67 L1348.4,187.24 L1349.4,187.75 L1350.4,188.20 L1351.4,188.60 L1352.4,188.93 L1353.4,189.20 L1354.4,189.40 L1355.4,189.52 L1356.4,189.57 L1357.4,189.54 L1358.4,189.42 L1359.4,189.22 L1360.4,188.93 L1361.4,188.54 L1362.4,188.05 L1363.4,187.47 L1364.4,186.77 L1365.4,185.97 L1366.4,185.06 L1367.4,184.03 L1368.4,182.89 L1369.4,181.62 L1370.4,180.23 L1371.4,178.74 L1372.4,177.15 L1373.4,175.48 L1374.4,173.74 L1375.4,171.93 L1376.4,170.09 L1377.4,168.20 L1378.4,166.29 L1379.4,164.37 L1380.4,162.45 L1381.4,160.54 L1382.4,158.66 L1383.4,156.81 L1384.4,155.00 L1385.4,153.23 L1386.4,151.50 L1387.4,149.82 L1388.4,148.19 L1389.4,146.61 L1390.4,145.09 L1391.4,143.62 L1392.4,142.22 L1393.4,140.87 L1394.4,139.60 L1395.4,138.39 L1396.4,137.25 L1397.4,136.18 L1398.4,135.19 L1399.4,134.28 L1400.4,133.46 L1401.4,132.71 L1402.4,132.05 L1403.4,131.48 L1404.4,131.01 L1405.4,130.62 L1406.4,130.34 L1407.4,130.15 L1408.4,130.07 L1409.4,130.09 L1410.4,130.22 L1411.4,130.46 L1412.4,130.79 L1413.4,131.23 L1414.4,131.75 L1415.4,132.36 L1416.4,133.05 L1417.4,133.82 L1418.4,134.65 L1419.4,135.56 L1420.4,136.53 L1421.4,137.55 L1422.4,138.63 L1423.4,139.76 L1424.4,140.93 L1425.4,142.14 L1426.4,143.38 L1427.4,144.65 L1428.4,145.95 L1429.4,147.26 L1430.4,148.59 L1431.4,149.93 L1432.4,151.27 L1433.4,152.61 L1434.4,153.95 L1435.4,155.28 L1436.4,156.60 L1437.4,157.89 L1438.4,159.16 L1439.4,160.39 L1440.4,161.57 L1441.4,162.68 L1442.4,163.72 L1443.4,164.68 L1444.4,165.53 L1445.4,166.28 L1446.4,166.90 L1447.4,167.39 L1448.4,167.73 L1449.4,167.92 L1450.4,167.93 L1451.4,167.78 L1452.4,167.47 L1453.4,167.01 L1454.4,166.42 L1455.4,165.71 L1456.4,164.89 L1457.4,163.98 L1458.4,162.98 L1459.4,161.92 L1460.4,160.81 L1461.4,159.65 L1462.4,158.47 L1463.4,157.26 L1464.4,156.06 L1465.4,154.86 L1466.4,153.68 L1467.4,152.51 L1468.4,151.36 L1469.4,150.24 L1470.4,149.15 L1471.4,148.10 L1472.4,147.08 L1473.4,146.10 L1474.4,145.18 L1475.4,144.30 L1476.4,143.47 L1477.4,142.71 L1478.4,142.01 L1479.4,141.38 L1480.4,140.81 L1481.4,140.33 L1482.4,139.92 L1483.4,139.60 L1484.4,139.36 L1485.4,139.22 L1486.4,139.18 L1487.4,139.23 L1488.4,139.38 L1489.4,139.62 L1490.4,139.94 L1491.4,140.35 L1492.4,140.84 L1493.4,141.39 L1494.4,142.02 L1495.4,142.71 L1496.4,143.46 L1497.4,144.26 L1498.4,145.12 L1499.4,146.02 L1500.4,146.97 L1501.4,147.96 L1502.4,148.97 L1503.4,150.02 L1504.4,151.10 L1505.4,152.19 L1506.4,153.30 L1507.4,154.42 L1508.4,155.56 L1509.4,156.69 L1510.4,157.82 L1511.4,158.95 L1512.4,160.07 L1513.4,161.17 L1514.4,162.26 L1515.4,163.32 L1516.4,164.36 L1517.4,165.37 L1518.4,166.34 L1519.4,167.27 L1520.4,168.15 L1521.4,168.99 L1522.4,169.77 L1523.4,170.50 L1524.4,171.16 L1525.4,171.76 L1526.4,172.29 L1527.4,172.77 L1528.4,173.18 L1529.4,173.54 L1530.4,173.86 L1531.4,174.13 L1532.4,174.37 L1533.4,174.57 L1534.4,174.75 L1535.4,174.91 L1536.4,175.05 L1537.4,175.17 L1538.4,175.29 L1539.4,175.41 L1540.4,175.54 L1541.4,175.67 L1542.4,175.81 L1543.4,175.97 L1544.4,176.15 L1545.4,176.36 L1546.4,176.58 L1547.4,176.83 L1548.4,177.09 L1549.4,177.36 L1550.4,177.64 L1551.4,177.94 L1552.4,178.24 L1553.4,178.55 L1554.4,178.86 L1555.4,179.17 L1556.4,179.49 L1557.4,179.80 L1558.4,180.11 L1559.4,180.41 L1560.4,180.71 L1561.4,180.99 L1562.4,181.26 L1563.4,181.52 L1564.4,181.76 L1565.4,181.99 L1566.4,182.19 L1567.4,182.38 L1568.4,182.54 L1569.4,182.67 L1570.4,182.78 L1571.4,182.85 L1572.4,182.90 L1573.4,182.91 L1574.4,182.89 L1575.4,182.83 L1576.4,182.72 L1577.4,182.58 L1578.4,182.39 L1579.4,182.16 L1580.0,182.00" stroke="#3e3e3e"/>
<path d="M113.4,141.30 L114.4,141.47 L115.4,141.64 L116.4,141.81 L117.4,141.98 L118.4,142.16 L119.4,142.34 L120.4,142.53 L121.4,142.72 L122.4,142.91 L123.4,143.10 L124.4,143.30 L125.4,143.50 L126.4,143.71 L127.4,143.91 L128.4,144.12 L129.4,144.34 L130.4,144.55 L131.4,144.77 L132.4,144.99 L133.4,145.22 L134.4,145.44 L135.4,145.67 L136.4,145.90 L137.4,146.14 L138.4,146.38 L139.4,146.62 L140.4,146.86 L141.4,147.11 L142.4,147.36 L143.4,147.61 L144.4,147.86 L145.4,148.11 L146.4,148.37 L147.4,148.63 L148.4,148.90 L149.4,149.16 L150.4,149.43 L151.4,149.70 L152.4,149.97 L153.4,150.24 L154.4,150.52 L155.4,150.80 L156.4,151.08 L157.4,151.36 L158.4,151.65 L159.4,151.93 L160.4,152.22 L161.4,152.51 L162.4,152.80 L163.4,153.10 L164.4,153.39 L165.4,153.69 L166.4,153.99 L167.4,154.29 L168.4,154.60 L169.4,154.90 L170.4,155.21 L171.4,155.52 L172.4,155.82 L173.4,156.14 L174.4,156.45 L175.4,156.76 L176.4,157.08 L177.4,157.40 L178.4,157.72 L179.4,158.04 L180.4,158.36 L181.4,158.68 L182.4,159.00 L183.4,159.33 L184.4,159.66 L185.4,159.98 L186.4,160.31 L187.4,160.64 L188.4,160.97 L189.4,161.31 L190.4,161.64 L191.4,161.97 L192.4,162.31 L193.4,162.65 L194.4,162.98 L195.4,163.32 L196.4,163.66 L197.4,164.00 L198.4,164.34 L199.4,164.68 L200.4,165.02 L201.4,165.37 L202.4,165.71 L203.4,166.05 L204.4,166.40 L205.4,166.74 L206.4,167.09 L207.4,167.44 L208.4,167.78 L209.4,168.13 L210.4,168.48 L211.4,168.83 L212.4,169.18 L213.4,169.52 L214.4,169.87 L215.4,170.22 L216.4,170.57 L217.4,170.91 L218.4,171.26 L219.4,171.60 L220.4,171.95 L221.4,172.29 L222.4,172.63 L223.4,172.96 L224.4,173.30 L225.4,173.63 L226.4,173.96 L227.4,174.28 L228.4,174.60 L229.4,174.92 L230.4,175.24 L231.4,175.55 L232.4,175.85 L233.4,176.16 L234.4,176.45 L235.4,176.75 L236.4,177.03 L237.4,177.31 L238.4,177.59 L239.4,177.86 L240.4,178.12 L241.4,178.38 L242.4,178.63 L243.4,178.88 L244.4,179.11 L245.4,179.34 L246.4,179.57 L247.4,179.78 L248.4,179.99 L249.4,180.19 L250.4,180.38 L251.4,180.56 L252.4,180.73 L253.4,180.90 L254.4,181.05 L255.4,181.19 L256.4,181.33 L257.4,181.45 L258.4,181.57 L259.4,181.67 L260.4,181.77 L261.4,181.85 L262.4,181.92 L263.4,181.98 L264.4,182.03 L265.4,182.07 L266.4,182.09 L267.4,182.10 L268.4,182.10 L269.4,182.09 L270.4,182.06 L271.4,182.03 L272.4,181.97 L273.4,181.91 L274.4,181.83 L275.4,181.73 L276.4,181.63 L277.4,181.51 L278.4,181.38 L279.4,181.24 L280.4,181.09 L281.4,180.92 L282.4,180.75 L283.4,180.56 L284.4,180.36 L285.4,180.16 L286.4,179.94 L287.4,179.72 L288.4,179.49 L289.4,179.24 L290.4,178.99 L291.4,178.74 L292.4,178.47 L293.4,178.20 L294.4,177.92 L295.4,177.64 L296.4,177.34 L297.4,177.05 L298.4,176.74 L299.4,176.44 L300.4,176.12 L301.4,175.81 L302.4,175.49 L303.4,175.16 L304.4,174.83 L305.4,174.50 L306.4,174.16 L307.4,173.83 L308.4,173.49 L309.4,173.14 L310.4,172.80 L311.4,172.45 L312.4,172.10 L313.4,171.75 L314.4,171.39 L315.4,171.03 L316.4,170.68 L317.4,170.32 L318.4,169.96 L319.4,169.60 L320.4,169.23 L321.4,168.87 L322.4,168.50 L323.4,168.14 L324.4,167.77 L325.4,167.41 L326.4,167.04 L327.4,166.68 L328.4,166.31 L329.4,165.95 L330.4,165.58 L331.4,165.22 L332.4,164.86 L333.4,164.50 L334.4,164.14 L335.4,163.78 L336.4,163.42 L337.4,163.06 L338.4,162.71 L339.4,162.36 L340.4,162.00 L341.4,161.66 L342.4,161.31 L343.4,160.97 L344.4,160.63 L345.4,160.29 L346.4,159.95 L347.4,159.62 L348.4,159.29 L349.4,158.97 L350.4,158.64 L351.4,158.33 L352.4,158.01 L353.4,157.70 L354.4,157.40 L355.4,157.09 L356.4,156.80 L357.4,156.51 L358.4,156.22 L359.4,155.93 L360.4,155.66 L361.4,155.38 L362.4,155.12 L363.4,154.86 L364.4,154.60 L365.4,154.35 L366.4,154.11 L367.4,153.87 L368.4,153.64 L369.4,153.41 L370.4,153.19 L371.4,152.98 L372.4,152.78 L373.4,152.58 L374.4,152.39 L375.4,152.20 L376.4,152.03 L377.4,151.86 L378.4,151.70 L379.4,151.55 L380.4,151.40 L381.4,151.27 L382.4,151.14 L383.4,151.02 L384.4,150.91 L385.4,150.81 L386.4,150.72 L387.4,150.64 L388.4,150.56 L389.4,150.50 L390.4,150.44 L391.4,150.40 L392.4,150.36 L393.4,150.33 L394.4,150.30 L395.4,150.29 L396.4,150.28 L397.4,150.28 L398.4,150.29 L399.4,150.31 L400.4,150.33 L401.4,150.35 L402.4,150.39 L403.4,150.43 L404.4,150.47 L405.4,150.52 L406.4,150.58 L407.4,150.64 L408.4,150.71 L409.4,150.78 L410.4,150.85 L411.4,150.93 L412.4,151.02 L413.4,151.11 L414.4,151.20 L415.4,151.29 L416.4,151.39 L417.4,151.49 L418.4,151.59 L419.4,151.70 L420.4,151.80 L421.4,151.91 L422.4,152.03 L423.4,152.14 L424.4,152.25 L425.4,152.37 L426.4,152.48 L427.4,152.60 L428.4,152.72 L429.4,152.84 L430.4,152.95 L431.4,153.07 L432.4,153.19 L433.4,153.30 L434.4,153.42 L435.4,153.53 L436.4,153.65 L437.4,153.76 L438.4,153.87 L439.4,153.97 L440.4,154.08 L441.4,154.18 L442.4,154.28 L443.4,154.38 L444.4,154.47 L445.4,154.56 L446.4,154.65 L447.4,154.73 L448.4,154.81 L449.4,154.89 L450.4,154.96 L451.4,155.02 L452.4,155.08 L453.4,155.14 L454.4,155.19 L455.4,155.24 L456.4,155.27 L457.4,155.31 L458.4,155.33 L459.4,155.35 L460.4,155.37 L461.4,155.38 L462.4,155.38 L463.4,155.37 L464.4,155.36 L465.4,155.34 L466.4,155.32 L467.4,155.30 L468.4,155.27 L469.4,155.23 L470.4,155.19 L471.4,155.15 L472.4,155.10 L473.4,155.05 L474.4,155.00 L475.4,154.95 L476.4,154.89 L477.4,154.83 L478.4,154.77 L479.4,154.70 L480.4,154.64 L481.4,154.57 L482.4,154.50 L483.4,154.44 L484.4,154.37 L485.4,154.30 L486.4,154.23 L487.4,154.17 L488.4,154.10 L489.4,154.04 L490.4,153.97 L491.4,153.91 L492.4,153.85 L493.4,153.79 L494.4,153.73 L495.4,153.68 L496.4,153.63 L497.4,153.58 L498.4,153.54 L499.4,153.50 L500.4,153.46 L501.4,153.43 L502.4,153.40 L503.4,153.38 L504.4,153.37 L505.4,153.35 L506.4,153.35 L507.4,153.35 L508.4,153.35 L509.4,153.36 L510.4,153.38 L511.4,153.41 L512.4,153.44 L513.4,153.48 L514.4,153.53 L515.4,153.59 L516.4,153.65 L517.4,153.72 L518.4,153.81 L519.4,153.90 L520.4,154.00 L521.4,154.11 L522.4,154.23 L523.4,154.36 L524.4,154.50 L525.4,154.65 L526.4,154.81 L527.4,154.98 L528.4,155.17 L529.4,155.36 L530.4,155.57 L531.4,155.79 L532.4,156.03 L533.4,156.27 L534.4,156.53 L535.4,156.81 L536.4,157.09 L537.4,157.39 L538.4,157.71 L539.4,158.04 L540.4,158.38 L541.4,158.74 L542.4,159.12 L543.4,159.51 L544.4,159.91 L545.4,160.33 L546.4,160.77 L547.4,161.22 L548.4,161.69 L549.4,162.18 L550.4,162.68 L551.4,163.20 L552.4,163.74 L553.4,164.29 L554.4,164.86 L555.4,165.45 L556.4,166.05 L557.4,166.67 L558.4,167.31 L559.4,167.97 L560.4,168.64 L561.4,169.33 L562.4,170.04 L563.4,170.76 L564.4,171.50 L565.4,172.26 L566.4,173.03 L567.4,173.82 L568.4,174.62 L569.4,175.43 L570.4,176.25 L571.4,177.08 L572.4,177.92 L573.4,178.77 L574.4,179.63 L575.4,180.50 L576.4,181.38 L577.4,182.25 L578.4,183.14 L579.4,184.03 L580.4,184.92 L581.4,185.81 L582.4,186.71 L583.4,187.60 L584.4,188.50 L585.4,189.40 L586.4,190.29 L587.4,191.18 L588.4,192.07 L589.4,192.96 L590.4,193.83 L591.4,194.71 L592.4,195.58 L593.4,196.44 L594.4,197.29 L595.4,198.13 L596.4,198.96 L597.4,199.79 L598.4,200.60 L599.4,201.40 L600.4,202.18 L601.4,202.95 L602.4,203.71 L603.4,204.45 L604.4,205.18 L605.4,205.89 L606.4,206.58 L607.4,207.25 L608.4,207.90 L609.4,208.54 L610.4,209.15 L611.4,209.74 L612.4,210.30 L613.4,210.84 L614.4,211.36 L615.4,211.86 L616.4,212.32 L617.4,212.76 L618.4,213.18 L619.4,213.57 L620.4,213.94 L621.4,214.28 L622.4,214.60 L623.4,214.90 L624.4,215.18 L625.4,215.43 L626.4,215.67 L627.4,215.88 L628.4,216.07 L629.4,216.25 L630.4,216.40 L631.4,216.54 L632.4,216.65 L633.4,216.76 L634.4,216.84 L635.4,216.91 L636.4,216.96 L637.4,217.00 L638.4,217.02 L639.4,217.02 L640.4,217.02 L641.4,217.00 L642.4,216.97 L643.4,216.92 L644.4,216.86 L645.4,216.80 L646.4,216.72 L647.4,216.63 L648.4,216.53 L649.4,216.43 L650.4,216.31 L651.4,216.19 L652.4,216.06 L653.4,215.92 L654.4,215.77 L655.4,215.62 L656.4,215.46 L657.4,215.30 L658.4,215.14 L659.4,214.97 L660.4,214.79 L661.4,214.62 L662.4,214.44 L663.4,214.26 L664.4,214.08 L665.4,213.89 L666.4,213.71 L667.4,213.53 L668.4,213.35 L669.4,213.17 L670.4,212.99 L671.4,212.81 L672.4,212.64 L673.4,212.46 L674.4,212.30 L675.4,212.14 L676.4,211.98 L677.4,211.82 L678.4,211.68 L679.4,211.54 L680.4,211.41 L681.4,211.28 L682.4,211.16 L683.4,211.04 L684.4,210.93 L685.4,210.83 L686.4,210.72 L687.4,210.62 L688.4,210.52 L689.4,210.42 L690.4,210.32 L691.4,210.21 L692.4,210.11 L693.4,210.00 L694.4,209.88 L695.4,209.77 L696.4,209.64 L697.4,209.51 L698.4,209.37 L699.4,209.22 L700.4,209.07 L701.4,208.90 L702.4,208.72 L703.4,208.53 L704.4,208.33 L705.4,208.12 L706.4,207.89 L707.4,207.64 L708.4,207.38 L709.4,207.10 L710.4,206.80 L711.4,206.49 L712.4,206.15 L713.4,205.79 L714.4,205.42 L715.4,205.02 L716.4,204.59 L717.4,204.15 L718.4,203.68 L719.4,203.18 L720.4,202.66 L721.4,202.10 L722.4,201.52 L723.4,200.92 L724.4,200.28 L725.4,199.61 L726.4,198.91 L727.4,198.18 L728.4,197.42 L729.4,196.64 L730.4,195.83 L731.4,195.00 L732.4,194.15 L733.4,193.29 L734.4,192.41 L735.4,191.51 L736.4,190.61 L737.4,189.69 L738.4,188.77 L739.4,187.84 L740.4,186.91 L741.4,185.98 L742.4,185.05 L743.4,184.12 L744.4,183.20 L745.4,182.28 L746.4,181.38 L747.4,180.48 L748.4,179.60 L749.4,178.73 L750.4,177.88 L751.4,177.05 L752.4,176.24 L753.4,175.45 L754.4,174.69 L755.4,173.95 L756.4,173.24 L757.4,172.54 L758.4,171.87 L759.4,171.21 L760.4,170.57 L761.4,169.96 L762.4,169.35 L763.4,168.77 L764.4,168.20 L765.4,167.64 L766.4,167.10 L767.4,166.56 L768.4,166.04 L769.4,165.53 L770.4,165.03 L771.4,164.54 L772.4,164.06 L773.4,163.58 L774.4,163.11 L775.4,162.64 L776.4,162.18 L777.4,161.72 L778.4,161.26 L779.4,160.80 L780.4,160.34 L781.4,159.89 L782.4,159.43 L783.4,158.96 L784.4,158.50 L785.4,158.03 L786.4,157.55 L787.4,157.07 L788.4,156.59 L789.4,156.09 L790.4,155.58 L791.4,155.07 L792.4,154.54 L793.4,154.01 L794.4,153.46 L795.4,152.90 L796.4,152.34 L797.4,151.76 L798.4,151.18 L799.4,150.59 L800.4,150.00 L801.4,149.40 L802.4,148.79 L803.4,148.18 L804.4,147.56 L805.4,146.94 L806.4,146.32 L807.4,145.70 L808.4,145.07 L809.4,144.45 L810.4,143.82 L811.4,143.19 L812.4,142.57 L813.4,141.94 L814.4,141.32 L815.4,140.70 L816.4,140.09 L817.4,139.47 L818.4,138.87 L819.4,138.26 L820.4,137.67 L821.4,137.08 L822.4,136.49 L823.4,135.92 L824.4,135.35 L825.4,134.79 L826.4,134.23 L827.4,133.69 L828.4,133.16 L829.4,132.63 L830.4,132.12 L831.4,131.62 L832.4,131.13 L833.4,130.66 L834.4,130.19 L835.4,129.74 L836.4,129.31 L837.4,128.89 L838.4,128.48 L839.4,128.09 L840.4,127.71 L841.4,127.35 L842.4,127.01 L843.4,126.69 L844.4,126.38 L845.4,126.10 L846.4,125.83 L847.4,125.58 L848.4,125.35 L849.4,125.15 L850.4,124.96 L851.4,124.79 L852.4,124.65 L853.4,124.53 L854.4,124.44 L855.4,124.37 L856.4,124.32 L857.4,124.30 L858.4,124.30 L859.4,124.33 L860.4,124.38 L861.4,124.47 L862.4,124.57 L863.4,124.71 L864.4,124.88 L865.4,125.07 L866.4,125.30 L867.4,125.55 L868.4,125.84 L869.4,126.16 L870.4,126.50 L871.4,126.89 L872.4,127.30 L873.4,127.75 L874.4,128.23 L875.4,128.74 L876.4,129.29 L877.4,129.87 L878.4,130.50 L879.4,131.15 L880.4,131.85 L881.4,132.58 L882.4,133.34 L883.4,134.14 L884.4,134.96 L885.4,135.82 L886.4,136.70 L887.4,137.61 L888.4,138.54 L889.4,139.49 L890.4,140.46 L891.4,141.44 L892.4,142.44 L893.4,143.46 L894.4,144.48 L895.4,145.51 L896.4,146.55 L897.4,147.59 L898.4,148.64 L899.4,149.69 L900.4,150.73 L901.4,151.77 L902.4,152.81 L903.4,153.84 L904.4,154.86 L905.4,155.87 L906.4,156.87 L907.4,157.85 L908.4,158.83 L909.4,159.79 L910.4,160.75 L911.4,161.70 L912.4,162.66 L913.4,163.61 L914.4,164.56 L915.4,165.52 L916.4,166.48 L917.4,167.45 L918.4,168.44 L919.4,169.43 L920.4,170.44 L921.4,171.47 L922.4,172.52 L923.4,173.59 L924.4,174.68 L925.4,175.80 L926.4,176.94 L927.4,178.12 L928.4,179.33 L929.4,180.57 L930.4,181.85 L931.4,183.17 L932.4,184.52 L933.4,185.92 L934.4,187.35 L935.4,188.82 L936.4,190.32 L937.4,191.84 L938.4,193.39 L939.4,194.95 L940.4,196.54 L941.4,198.13 L942.4,199.74 L943.4,201.35 L944.4,202.97 L945.4,204.59 L946.4,206.20 L947.4,207.79 L948.4,209.36 L949.4,210.89 L950.4,212.38 L951.4,213.81 L952.4,215.18 L953.4,216.47 L954.4,217.68 L955.4,218.79 L956.4,219.80 L957.4,220.71 L958.4,221.53 L959.4,222.26 L960.4,222.92 L961.4,223.50 L962.4,224.03 L963.4,224.50 L964.4,224.93 L965.4,225.33 L966.4,225.69 L967.4,226.04 L968.4,226.37 L969.4,226.70 L970.4,227.02 L971.4,227.33 L972.4,227.63 L973.4,227.93 L974.4,228.22 L975.4,228.50 L976.4,228.78 L977.4,229.05 L978.4,229.31 L979.4,229.56 L980.4,229.80 L981.4,230.04 L982.4,230.26 L983.4,230.48 L984.4,230.69 L985.4,230.89 L986.4,231.09 L987.4,231.27 L988.4,231.45 L989.4,231.61 L990.4,231.77 L991.4,231.92 L992.4,232.06 L993.4,232.19 L994.4,232.31 L995.4,232.42 L996.4,232.52 L997.4,232.62 L998.4,232.70 L999.4,232.77 L1000.4,232.83 L1001.4,232.89 L1002.4,232.93 L1003.4,232.96 L1004.4,232.98 L1005.4,232.99 L1006.4,232.99 L1007.4,232.99 L1008.4,232.97 L1009.4,232.95 L1010.4,232.92 L1011.4,232.90 L1012.4,232.88 L1013.4,232.86 L1014.4,232.85 L1015.4,232.85 L1016.4,232.86 L1017.4,232.89 L1018.4,232.94 L1019.4,233.01 L1020.4,233.09 L1021.4,233.21 L1022.4,233.35 L1023.4,233.52 L1024.4,233.73 L1025.4,233.97 L1026.4,234.25 L1027.4,234.57 L1028.4,234.93 L1029.4,235.34 L1030.4,235.79 L1031.4,236.30 L1032.4,236.86 L1033.4,237.46 L1034.4,238.11 L1035.4,238.78 L1036.4,239.49 L1037.4,240.21 L1038.4,240.94 L1039.4,241.68 L1040.4,242.41 L1041.4,243.13 L1042.4,243.83 L1043.4,244.52 L1044.4,245.17 L1045.4,245.79 L1046.4,246.39 L1047.4,246.95 L1048.4,247.48 L1049.4,247.98 L1050.4,248.44 L1051.4,248.86 L1052.4,249.25 L1053.4,249.60 L1054.4,249.92 L1055.4,250.19 L1056.4,250.42 L1057.4,250.60 L1058.4,250.75 L1059.4,250.84 L1060.4,250.89 L1061.4,250.90 L1062.4,250.85 L1063.4,250.76 L1064.4,250.61 L1065.4,250.41 L1066.4,250.16 L1067.4,249.86 L1068.4,249.50 L1069.4,249.08 L1070.4,248.60 L1071.4,248.06 L1072.4,247.47 L1073.4,246.81 L1074.4,246.09 L1075.4,245.31 L1076.4,244.46 L1077.4,243.54 L1078.4,242.56 L1079.4,241.51 L1080.4,240.39 L1081.4,239.20 L1082.4,237.93 L1083.4,236.61 L1084.4,235.23 L1085.4,233.79 L1086.4,232.32 L1087.4,230.82 L1088.4,229.29 L1089.4,227.75 L1090.4,226.20 L1091.4,224.64 L1092.4,223.10 L1093.4,221.57 L1094.4,220.06 L1095.4,218.59 L1096.4,217.15 L1097.4,215.76 L1098.4,214.43 L1099.4,213.16 L1100.4,211.96 L1101.4,210.84 L1102.4,209.80 L1103.4,208.85 L1104.4,207.99 L1105.4,207.20 L1106.4,206.48 L1107.4,205.84 L1108.4,205.27 L1109.4,204.76 L1110.4,204.31 L1111.4,203.92 L1112.4,203.58 L1113.4,203.29 L1114.4,203.05 L1115.4,202.85 L1116.4,202.69 L1117.4,202.56 L1118.4,202.47 L1119.4,202.41 L1120.4,202.37 L1121.4,202.35 L1122.4,202.36 L1123.4,202.38 L1124.4,202.42 L1125.4,202.47 L1126.4,202.53 L1127.4,202.59 L1128.4,202.66 L1129.4,202.73 L1130.4,202.79 L1131.4,202.86 L1132.4,202.91 L1133.4,202.95 L1134.4,202.98 L1135.4,203.00 L1136.4,202.99 L1137.4,202.97 L1138.4,202.92 L1139.4,202.84 L1140.4,202.73 L1141.4,202.59 L1142.4,202.42 L1143.4,202.20 L1144.4,201.95 L1145.4,201.65 L1146.4,201.30 L1147.4,200.90 L1148.4,200.46 L1149.4,199.96 L1150.4,199.41 L1151.4,198.82 L1152.4,198.19 L1153.4,197.51 L1154.4,196.80 L1155.4,196.05 L1156.4,195.27 L1157.4,194.45 L1158.4,193.60 L1159.4,192.73 L1160.4,191.83 L1161.4,190.91 L1162.4,189.97 L1163.4,189.01 L1164.4,188.03 L1165.4,187.04 L1166.4,186.04 L1167.4,185.03 L1168.4,184.01 L1169.4,182.98 L1170.4,181.96 L1171.4,180.93 L1172.4,179.91 L1173.4,178.89 L1174.4,177.88 L1175.4,176.87 L1176.4,175.88 L1177.4,174.90 L1178.4,173.93 L1179.4,172.99 L1180.4,172.06 L1181.4,171.16 L1182.4,170.28 L1183.4,169.43 L1184.4,168.60 L1185.4,167.81 L1186.4,167.05 L1187.4,166.33 L1188.4,165.65 L1189.4,165.01 L1190.4,164.41 L1191.4,163.85 L1192.4,163.34 L1193.4,162.88 L1194.4,162.48 L1195.4,162.13 L1196.4,161.83 L1197.4,161.59 L1198.4,161.42 L1199.4,161.30 L1200.4,161.26 L1201.4,161.28 L1202.4,161.37 L1203.4,161.53 L1204.4,161.76 L1205.4,162.06 L1206.4,162.43 L1207.4,162.86 L1208.4,163.37 L1209.4,163.94 L1210.4,164.58 L1211.4,165.28 L1212.4,166.05 L1213.4,166.88 L1214.4,167.78 L1215.4,168.74 L1216.4,169.77 L1217.4,170.85 L1218.4,172.00 L1219.4,173.21 L1220.4,174.48 L1221.4,175.81 L1222.4,177.20 L1223.4,178.65 L1224.4,180.15 L1225.4,181.72 L1226.4,183.33 L1227.4,185.00 L1228.4,186.71 L1229.4,188.46 L1230.4,190.24 L1231.4,192.04 L1232.4,193.87 L1233.4,195.70 L1234.4,197.54 L1235.4,199.38 L1236.4,201.22 L1237.4,203.04 L1238.4,204.84 L1239.4,206.62 L1240.4,208.37 L1241.4,210.09 L1242.4,211.76 L1243.4,213.38 L1244.4,214.95 L1245.4,216.45 L1246.4,217.89 L1247.4,219.26 L1248.4,220.54 L1249.4,221.74 L1250.4,222.85 L1251.4,223.86 L1252.4,224.77 L1253.4,225.56 L1254.4,226.24 L1255.4,226.80 L1256.4,227.23 L1257.4,227.53 L1258.4,227.68 L1259.4,227.69 L1260.4,227.56 L1261.4,227.30 L1262.4,226.91 L1263.4,226.40 L1264.4,225.77 L1265.4,225.03 L1266.4,224.18 L1267.4,223.24 L1268.4,222.20 L1269.4,221.07 L1270.4,219.86 L1271.4,218.57 L1272.4,217.22 L1273.4,215.79 L1274.4,214.31 L1275.4,212.77 L1276.4,211.18 L1277.4,209.54 L1278.4,207.87 L1279.4,206.17 L1280.4,204.44 L1281.4,202.69 L1282.4,200.92 L1283.4,199.14 L1284.4,197.36 L1285.4,195.58 L1286.4,193.81 L1287.4,192.05 L1288.4,190.31 L1289.4,188.59 L1290.4,186.90 L1291.4,185.24 L1292.4,183.63 L1293.4,182.06 L1294.4,180.55 L1295.4,179.09 L1296.4,177.69 L1297.4,176.37 L1298.4,175.11 L1299.4,173.94 L1300.4,172.85 L1301.4,171.86 L1302.4,170.96 L1303.4,170.16 L1304.4,169.47 L1305.4,168.89 L1306.4,168.44 L1307.4,168.10 L1308.4,167.89 L1309.4,167.80 L1310.4,167.83 L1311.4,167.96 L1312.4,168.20 L1313.4,168.55 L1314.4,168.99 L1315.4,169.52 L1316.4,170.15 L1317.4,170.85 L1318.4,171.64 L1319.4,172.51 L1320.4,173.45 L1321.4,174.45 L1322.4,175.52 L1323.4,176.65 L1324.4,177.83 L1325.4,179.07 L1326.4,180.35 L1327.4,181.67 L1328.4,183.03 L1329.4,184.43 L1330.4,185.85 L1331.4,187.30 L1332.4,188.77 L1333.4,190.26 L1334.4,191.76 L1335.4,193.26 L1336.4,194.77 L1337.4,196.28 L1338.4,197.79 L1339.4,199.28 L1340.4,200.77 L1341.4,202.23 L1342.4,203.67 L1343.4,205.09 L1344.4,206.48 L1345.4,207.83 L1346.4,209.14 L1347.4,210.41 L1348.4,211.63 L1349.4,212.79 L1350.4,213.88 L1351.4,214.91 L1352.4,215.87 L1353.4,216.74 L1354.4,217.52 L1355.4,218.21 L1356.4,218.81 L1357.4,219.30 L1358.4,219.67 L1359.4,219.93 L1360.4,220.07 L1361.4,220.07 L1362.4,219.95 L1363.4,219.68 L1364.4,219.26 L1365.4,218.71 L1366.4,218.03 L1367.4,217.23 L1368.4,216.30 L1369.4,215.26 L1370.4,214.11 L1371.4,212.85 L1372.4,211.50 L1373.4,210.06 L1374.4,208.52 L1375.4,206.91 L1376.4,205.22 L1377.4,203.46 L1378.4,201.64 L1379.4,199.76 L1380.4,197.83 L1381.4,195.86 L1382.4,193.86 L1383.4,191.84 L1384.4,189.81 L1385.4,187.79 L1386.4,185.77 L1387.4,183.78 L1388.4,181.83 L1389.4,179.91 L1390.4,178.05 L1391.4,176.26 L1392.4,174.53 L1393.4,172.90 L1394.4,171.35 L1395.4,169.91 L1396.4,168.56 L1397.4,167.32 L1398.4,166.16 L1399.4,165.10 L1400.4,164.13 L1401.4,163.25 L1402.4,162.46 L1403.4,161.75 L1404.4,161.12 L1405.4,160.57 L1406.4,160.09 L1407.4,159.70 L1408.4,159.38 L1409.4,159.12 L1410.4,158.94 L1411.4,158.82 L1412.4,158.77 L1413.4,158.78 L1414.4,158.86 L1415.4,158.99 L1416.4,159.17 L1417.4,159.41 L1418.4,159.71 L1419.4,160.05 L1420.4,160.44 L1421.4,160.87 L1422.4,161.35 L1423.4,161.87 L1424.4,162.43 L1425.4,163.03 L1426.4,163.66 L1427.4,164.32 L1428.4,165.02 L1429.4,165.74 L1430.4,166.49 L1431.4,167.26 L1432.4,168.05 L1433.4,168.87 L1434.4,169.70 L1435.4,170.54 L1436.4,171.39 L1437.4,172.24 L1438.4,173.10 L1439.4,173.94 L1440.4,174.77 L1441.4,175.59 L1442.4,176.39 L1443.4,177.16 L1444.4,177.90 L1445.4,178.60 L1446.4,179.27 L1447.4,179.89 L1448.4,180.47 L1449.4,180.99 L1450.4,181.45 L1451.4,181.85 L1452.4,182.18 L1453.4,182.44 L1454.4,182.62 L1455.4,182.73 L1456.4,182.76 L1457.4,182.73 L1458.4,182.63 L1459.4,182.48 L1460.4,182.28 L1461.4,182.04 L1462.4,181.77 L1463.4,181.46 L1464.4,181.13 L1465.4,180.79 L1466.4,180.43 L1467.4,180.07 L1468.4,179.71 L1469.4,179.36 L1470.4,179.02 L1471.4,178.70 L1472.4,178.41 L1473.4,178.15 L1474.4,177.93 L1475.4,177.75 L1476.4,177.62 L1477.4,177.56 L1478.4,177.55 L1479.4,177.61 L1480.4,177.74 L1481.4,177.93 L1482.4,178.18 L1483.4,178.50 L1484.4,178.88 L1485.4,179.31 L1486.4,179.81 L1487.4,180.37 L1488.4,180.99 L1489.4,181.67 L1490.4,182.40 L1491.4,183.20 L1492.4,184.04 L1493.4,184.95 L1494.4,185.90 L1495.4,186.92 L1496.4,187.98 L1497.4,189.10 L1498.4,190.27 L1499.4,191.49 L1500.4,192.76 L1501.4,194.08 L1502.4,195.45 L1503.4,196.87 L1504.4,198.33 L1505.4,199.84 L1506.4,201.40 L1507.4,202.99 L1508.4,204.61 L1509.4,206.26 L1510.4,207.92 L1511.4,209.60 L1512.4,211.28 L1513.4,212.96 L1514.4,214.63 L1515.4,216.30 L1516.4,217.94 L1517.4,219.55 L1518.4,221.14 L1519.4,222.69 L1520.4,224.19 L1521.4,225.65 L1522.4,227.04 L1523.4,228.38 L1524.4,229.65 L1525.4,230.84 L1526.4,231.95 L1527.4,232.97 L1528.4,233.90 L1529.4,234.74 L1530.4,235.46 L1531.4,236.08 L1532.4,236.60 L1533.4,237.04 L1534.4,237.39 L1535.4,237.67 L1536.4,237.89 L1537.4,238.05 L1538.4,238.17 L1539.4,238.25 L1540.4,238.29 L1541.4,238.32 L1542.4,238.33 L1543.4,238.34 L1544.4,238.36 L1545.4,238.39 L1546.4,238.43 L1547.4,238.51 L1548.4,238.62 L1549.4,238.76 L1550.4,238.93 L1551.4,239.12 L1552.4,239.33 L1553.4,239.56 L1554.4,239.81 L1555.4,240.07 L1556.4,240.34 L1557.4,240.61 L1558.4,240.90 L1559.4,241.18 L1560.4,241.46 L1561.4,241.74 L1562.4,242.02 L1563.4,242.28 L1564.4,242.53 L1565.4,242.77 L1566.4,242.99 L1567.4,243.19 L1568.4,243.37 L1569.4,243.52 L1570.4,243.64 L1571.4,243.73 L1572.4,243.78 L1573.4,243.80 L1574.4,243.78 L1575.4,243.72 L1576.4,243.61 L1577.4,243.45 L1578.4,243.25 L1579.4,242.99 L1580.0,242.80" stroke="#999999"/>
<path d="M113.4,150.32 L114.4,150.44 L115.4,150.57 L116.4,150.71 L117.4,150.86 L118.4,151.01 L119.4,151.17 L120.4,151.33 L121.4,151.50 L122.4,151.68 L123.4,151.86 L124.4,152.05 L125.4,152.25 L126.4,152.45 L127.4,152.65 L128.4,152.86 L129.4,153.08 L130.4,153.31 L131.4,153.53 L132.4,153.77 L133.4,154.01 L134.4,154.25 L135.4,154.50 L136.4,154.75 L137.4,155.01 L138.4,155.28 L139.4,155.55 L140.4,155.82 L141.4,156.10 L142.4,156.38 L143.4,156.67 L144.4,156.96 L145.4,157.25 L146.4,157.55 L147.4,157.86 L148.4,158.16 L149.4,158.47 L150.4,158.79 L151.4,159.11 L152.4,159.43 L153.4,159.76 L154.4,160.09 L155.4,160.42 L156.4,160.76 L157.4,161.10 L158.4,161.44 L159.4,161.78 L160.4,162.13 L161.4,162.48 L162.4,162.84 L163.4,163.20 L164.4,163.56 L165.4,163.92 L166.4,164.28 L167.4,164.65 L168.4,165.02 L169.4,165.39 L170.4,165.77 L171.4,166.14 L172.4,166.52 L173.4,166.90 L174.4,167.28 L175.4,167.66 L176.4,168.05 L177.4,168.44 L178.4,168.82 L179.4,169.21 L180.4,169.60 L181.4,170.00 L182.4,170.39 L183.4,170.78 L184.4,171.18 L185.4,171.58 L186.4,171.97 L187.4,172.37 L188.4,172.77 L189.4,173.17 L190.4,173.57 L191.4,173.97 L192.4,174.36 L193.4,174.77 L194.4,175.17 L195.4,175.57 L196.4,175.97 L197.4,176.37 L198.4,176.77 L199.4,177.17 L200.4,177.56 L201.4,177.96 L202.4,178.36 L203.4,178.76 L204.4,179.16 L205.4,179.55 L206.4,179.95 L207.4,180.34 L208.4,180.74 L209.4,181.13 L210.4,181.52 L211.4,181.91 L212.4,182.30 L213.4,182.68 L214.4,183.07 L215.4,183.45 L216.4,183.83 L217.4,184.21 L218.4,184.59 L219.4,184.97 L220.4,185.34 L221.4,185.71 L222.4,186.08 L223.4,186.44 L224.4,186.80 L225.4,187.16 L226.4,187.52 L227.4,187.87 L228.4,188.22 L229.4,188.56 L230.4,188.90 L231.4,189.24 L232.4,189.57 L233.4,189.90 L234.4,190.23 L235.4,190.55 L236.4,190.87 L237.4,191.18 L238.4,191.49 L239.4,191.79 L240.4,192.09 L241.4,192.38 L242.4,192.67 L243.4,192.95 L244.4,193.23 L245.4,193.50 L246.4,193.76 L247.4,194.02 L248.4,194.27 L249.4,194.52 L250.4,194.76 L251.4,195.00 L252.4,195.23 L253.4,195.45 L254.4,195.66 L255.4,195.87 L256.4,196.07 L257.4,196.26 L258.4,196.45 L259.4,196.63 L260.4,196.80 L261.4,196.97 L262.4,197.12 L263.4,197.27 L264.4,197.41 L265.4,197.54 L266.4,197.67 L267.4,197.78 L268.4,197.89 L269.4,197.99 L270.4,198.08 L271.4,198.16 L272.4,198.23 L273.4,198.29 L274.4,198.34 L275.4,198.39 L276.4,198.42 L277.4,198.45 L278.4,198.46 L279.4,198.47 L280.4,198.46 L281.4,198.44 L282.4,198.42 L283.4,198.38 L284.4,198.33 L285.4,198.28 L286.4,198.21 L287.4,198.13 L288.4,198.04 L289.4,197.94 L290.4,197.82 L291.4,197.70 L292.4,197.56 L293.4,197.41 L294.4,197.25 L295.4,197.08 L296.4,196.90 L297.4,196.70 L298.4,196.49 L299.4,196.27 L300.4,196.04 L301.4,195.79 L302.4,195.53 L303.4,195.26 L304.4,194.98 L305.4,194.68 L306.4,194.37 L307.4,194.05 L308.4,193.71 L309.4,193.37 L310.4,193.01 L311.4,192.65 L312.4,192.28 L313.4,191.89 L314.4,191.51 L315.4,191.11 L316.4,190.70 L317.4,190.29 L318.4,189.88 L319.4,189.45 L320.4,189.03 L321.4,188.60 L322.4,188.16 L323.4,187.72 L324.4,187.28 L325.4,186.84 L326.4,186.39 L327.4,185.95 L328.4,185.50 L329.4,185.05 L330.4,184.61 L331.4,184.16 L332.4,183.72 L333.4,183.27 L334.4,182.83 L335.4,182.40 L336.4,181.96 L337.4,181.53 L338.4,181.11 L339.4,180.69 L340.4,180.28 L341.4,179.87 L342.4,179.47 L343.4,179.07 L344.4,178.69 L345.4,178.31 L346.4,177.94 L347.4,177.58 L348.4,177.23 L349.4,176.89 L350.4,176.56 L351.4,176.24 L352.4,175.92 L353.4,175.62 L354.4,175.32 L355.4,175.04 L356.4,174.76 L357.4,174.49 L358.4,174.23 L359.4,173.98 L360.4,173.74 L361.4,173.51 L362.4,173.29 L363.4,173.07 L364.4,172.87 L365.4,172.67 L366.4,172.48 L367.4,172.30 L368.4,172.13 L369.4,171.97 L370.4,171.82 L371.4,171.67 L372.4,171.54 L373.4,171.41 L374.4,171.29 L375.4,171.18 L376.4,171.08 L377.4,170.98 L378.4,170.90 L379.4,170.82 L380.4,170.75 L381.4,170.69 L382.4,170.64 L383.4,170.59 L384.4,170.55 L385.4,170.53 L386.4,170.51 L387.4,170.49 L388.4,170.49 L389.4,170.49 L390.4,170.51 L391.4,170.52 L392.4,170.55 L393.4,170.58 L394.4,170.62 L395.4,170.67 L396.4,170.72 L397.4,170.78 L398.4,170.85 L399.4,170.92 L400.4,171.00 L401.4,171.08 L402.4,171.17 L403.4,171.26 L404.4,171.36 L405.4,171.47 L406.4,171.58 L407.4,171.69 L408.4,171.80 L409.4,171.93 L410.4,172.05 L411.4,172.18 L412.4,172.31 L413.4,172.45 L414.4,172.58 L415.4,172.73 L416.4,172.87 L417.4,173.02 L418.4,173.17 L419.4,173.32 L420.4,173.47 L421.4,173.62 L422.4,173.78 L423.4,173.94 L424.4,174.10 L425.4,174.26 L426.4,174.42 L427.4,174.58 L428.4,174.74 L429.4,174.91 L430.4,175.07 L431.4,175.23 L432.4,175.39 L433.4,175.55 L434.4,175.72 L435.4,175.88 L436.4,176.04 L437.4,176.19 L438.4,176.35 L439.4,176.50 L440.4,176.66 L441.4,176.81 L442.4,176.96 L443.4,177.11 L444.4,177.25 L445.4,177.39 L446.4,177.53 L447.4,177.66 L448.4,177.80 L449.4,177.93 L450.4,178.05 L451.4,178.17 L452.4,178.29 L453.4,178.40 L454.4,178.51 L455.4,178.61 L456.4,178.71 L457.4,178.81 L458.4,178.89 L459.4,178.98 L460.4,179.06 L461.4,179.13 L462.4,179.19 L463.4,179.26 L464.4,179.32 L465.4,179.37 L466.4,179.42 L467.4,179.46 L468.4,179.51 L469.4,179.55 L470.4,179.58 L471.4,179.62 L472.4,179.65 L473.4,179.67 L474.4,179.70 L475.4,179.73 L476.4,179.75 L477.4,179.77 L478.4,179.79 L479.4,179.82 L480.4,179.84 L481.4,179.86 L482.4,179.88 L483.4,179.90 L484.4,179.92 L485.4,179.94 L486.4,179.97 L487.4,179.99 L488.4,180.02 L489.4,180.05 L490.4,180.08 L491.4,180.11 L492.4,180.15 L493.4,180.19 L494.4,180.23 L495.4,180.28 L496.4,180.33 L497.4,180.38 L498.4,180.44 L499.4,180.51 L500.4,180.57 L501.4,180.65 L502.4,180.73 L503.4,180.81 L504.4,180.90 L505.4,181.00 L506.4,181.10 L507.4,181.21 L508.4,181.33 L509.4,181.45 L510.4,181.58 L511.4,181.72 L512.4,181.87 L513.4,182.02 L514.4,182.19 L515.4,182.36 L516.4,182.54 L517.4,182.73 L518.4,182.93 L519.4,183.14 L520.4,183.37 L521.4,183.60 L522.4,183.84 L523.4,184.09 L524.4,184.35 L525.4,184.63 L526.4,184.92 L527.4,185.22 L528.4,185.53 L529.4,185.85 L530.4,186.19 L531.4,186.54 L532.4,186.90 L533.4,187.27 L534.4,187.66 L535.4,188.07 L536.4,188.49 L537.4,188.92 L538.4,189.37 L539.4,189.83 L540.4,190.31 L541.4,190.80 L542.4,191.31 L543.4,191.84 L544.4,192.38 L545.4,192.94 L546.4,193.51 L547.4,194.10 L548.4,194.70 L549.4,195.31 L550.4,195.94 L551.4,196.58 L552.4,197.23 L553.4,197.90 L554.4,198.57 L555.4,199.25 L556.4,199.95 L557.4,200.65 L558.4,201.36 L559.4,202.07 L560.4,202.80 L561.4,203.53 L562.4,204.26 L563.4,205.00 L564.4,205.75 L565.4,206.49 L566.4,207.25 L567.4,208.00 L568.4,208.75 L569.4,209.51 L570.4,210.27 L571.4,211.03 L572.4,211.78 L573.4,212.54 L574.4,213.30 L575.4,214.05 L576.4,214.80 L577.4,215.54 L578.4,216.28 L579.4,217.02 L580.4,217.75 L581.4,218.48 L582.4,219.20 L583.4,219.91 L584.4,220.61 L585.4,221.31 L586.4,221.99 L587.4,222.67 L588.4,223.34 L589.4,223.99 L590.4,224.64 L591.4,225.27 L592.4,225.89 L593.4,226.50 L594.4,227.09 L595.4,227.67 L596.4,228.23 L597.4,228.78 L598.4,229.31 L599.4,229.83 L600.4,230.33 L601.4,230.82 L602.4,231.29 L603.4,231.74 L604.4,232.18 L605.4,232.60 L606.4,233.01 L607.4,233.40 L608.4,233.77 L609.4,234.13 L610.4,234.48 L611.4,234.80 L612.4,235.11 L613.4,235.41 L614.4,235.68 L615.4,235.95 L616.4,236.19 L617.4,236.42 L618.4,236.63 L619.4,236.83 L620.4,237.00 L621.4,237.17 L622.4,237.31 L623.4,237.44 L624.4,237.55 L625.4,237.64 L626.4,237.72 L627.4,237.78 L628.4,237.82 L629.4,237.85 L630.4,237.86 L631.4,237.85 L632.4,237.82 L633.4,237.78 L634.4,237.72 L635.4,237.64 L636.4,237.54 L637.4,237.43 L638.4,237.30 L639.4,237.15 L640.4,236.98 L641.4,236.80 L642.4,236.59 L643.4,236.37 L644.4,236.14 L645.4,235.90 L646.4,235.64 L647.4,235.37 L648.4,235.10 L649.4,234.82 L650.4,234.53 L651.4,234.24 L652.4,233.95 L653.4,233.66 L654.4,233.37 L655.4,233.08 L656.4,232.80 L657.4,232.52 L658.4,232.25 L659.4,232.00 L660.4,231.75 L661.4,231.51 L662.4,231.29 L663.4,231.08 L664.4,230.89 L665.4,230.72 L666.4,230.58 L667.4,230.45 L668.4,230.34 L669.4,230.26 L670.4,230.21 L671.4,230.19 L672.4,230.19 L673.4,230.22 L674.4,230.28 L675.4,230.35 L676.4,230.44 L677.4,230.55 L678.4,230.68 L679.4,230.81 L680.4,230.96 L681.4,231.11 L682.4,231.26 L683.4,231.42 L684.4,231.57 L685.4,231.73 L686.4,231.87 L687.4,232.01 L688.4,232.14 L689.4,232.26 L690.4,232.36 L691.4,232.45 L692.4,232.51 L693.4,232.56 L694.4,232.59 L695.4,232.60 L696.4,232.59 L697.4,232.56 L698.4,232.51 L699.4,232.43 L700.4,232.33 L701.4,232.21 L702.4,232.06 L703.4,231.89 L704.4,231.68 L705.4,231.46 L706.4,231.20 L707.4,230.92 L708.4,230.60 L709.4,230.26 L710.4,229.89 L711.4,229.48 L712.4,229.04 L713.4,228.57 L714.4,228.06 L715.4,227.53 L716.4,226.95 L717.4,226.34 L718.4,225.69 L719.4,225.01 L720.4,224.28 L721.4,223.52 L722.4,222.72 L723.4,221.88 L724.4,221.00 L725.4,220.07 L726.4,219.10 L727.4,218.09 L728.4,217.04 L729.4,215.94 L730.4,214.80 L731.4,213.61 L732.4,212.39 L733.4,211.13 L734.4,209.85 L735.4,208.53 L736.4,207.19 L737.4,205.83 L738.4,204.44 L739.4,203.04 L740.4,201.63 L741.4,200.21 L742.4,198.78 L743.4,197.34 L744.4,195.91 L745.4,194.47 L746.4,193.04 L747.4,191.62 L748.4,190.21 L749.4,188.82 L750.4,187.44 L751.4,186.08 L752.4,184.74 L753.4,183.43 L754.4,182.15 L755.4,180.90 L756.4,179.69 L757.4,178.51 L758.4,177.38 L759.4,176.29 L760.4,175.24 L761.4,174.23 L762.4,173.25 L763.4,172.32 L764.4,171.42 L765.4,170.55 L766.4,169.71 L767.4,168.90 L768.4,168.13 L769.4,167.38 L770.4,166.65 L771.4,165.95 L772.4,165.27 L773.4,164.62 L774.4,163.98 L775.4,163.36 L776.4,162.76 L777.4,162.18 L778.4,161.60 L779.4,161.04 L780.4,160.49 L781.4,159.95 L782.4,159.42 L783.4,158.89 L784.4,158.36 L785.4,157.84 L786.4,157.33 L787.4,156.81 L788.4,156.29 L789.4,155.76 L790.4,155.23 L791.4,154.70 L792.4,154.16 L793.4,153.61 L794.4,153.05 L795.4,152.48 L796.4,151.91 L797.4,151.33 L798.4,150.75 L799.4,150.16 L800.4,149.57 L801.4,148.97 L802.4,148.37 L803.4,147.76 L804.4,147.15 L805.4,146.54 L806.4,145.93 L807.4,145.31 L808.4,144.69 L809.4,144.08 L810.4,143.46 L811.4,142.84 L812.4,142.22 L813.4,141.61 L814.4,140.99 L815.4,140.38 L816.4,139.77 L817.4,139.16 L818.4,138.55 L819.4,137.95 L820.4,137.35 L821.4,136.76 L822.4,136.18 L823.4,135.60 L824.4,135.03 L825.4,134.47 L826.4,133.92 L827.4,133.39 L828.4,132.86 L829.4,132.34 L830.4,131.84 L831.4,131.36 L832.4,130.88 L833.4,130.43 L834.4,129.99 L835.4,129.57 L836.4,129.17 L837.4,128.78 L838.4,128.42 L839.4,128.08 L840.4,127.76 L841.4,127.46 L842.4,127.19 L843.4,126.94 L844.4,126.72 L845.4,126.52 L846.4,126.35 L847.4,126.21 L848.4,126.10 L849.4,126.02 L850.4,125.97 L851.4,125.95 L852.4,125.96 L853.4,126.00 L854.4,126.08 L855.4,126.20 L856.4,126.35 L857.4,126.53 L858.4,126.76 L859.4,127.01 L860.4,127.31 L861.4,127.63 L862.4,127.99 L863.4,128.37 L864.4,128.79 L865.4,129.23 L866.4,129.70 L867.4,130.20 L868.4,130.72 L869.4,131.27 L870.4,131.84 L871.4,132.42 L872.4,133.03 L873.4,133.66 L874.4,134.31 L875.4,134.98 L876.4,135.66 L877.4,136.35 L878.4,137.06 L879.4,137.78 L880.4,138.52 L881.4,139.26 L882.4,140.02 L883.4,140.78 L884.4,141.56 L885.4,142.34 L886.4,143.14 L887.4,143.94 L888.4,144.76 L889.4,145.58 L890.4,146.41 L891.4,147.26 L892.4,148.10 L893.4,148.96 L894.4,149.83 L895.4,150.70 L896.4,151.58 L897.4,152.47 L898.4,153.37 L899.4,154.27 L900.4,155.18 L901.4,156.09 L902.4,157.02 L903.4,157.95 L904.4,158.88 L905.4,159.82 L906.4,160.77 L907.4,161.72 L908.4,162.67 L909.4,163.63 L910.4,164.60 L911.4,165.57 L912.4,166.54 L913.4,167.52 L914.4,168.50 L915.4,169.49 L916.4,170.48 L917.4,171.47 L918.4,172.47 L919.4,173.46 L920.4,174.46 L921.4,175.46 L922.4,176.46 L923.4,177.46 L924.4,178.46 L925.4,179.45 L926.4,180.44 L927.4,181.41 L928.4,182.38 L929.4,183.35 L930.4,184.30 L931.4,185.24 L932.4,186.16 L933.4,187.08 L934.4,187.97 L935.4,188.85 L936.4,189.71 L937.4,190.56 L938.4,191.38 L939.4,192.18 L940.4,192.96 L941.4,193.71 L942.4,194.44 L943.4,195.14 L944.4,195.81 L945.4,196.45 L946.4,197.07 L947.4,197.66 L948.4,198.21 L949.4,198.75 L950.4,199.25 L951.4,199.73 L952.4,200.19 L953.4,200.63 L954.4,201.04 L955.4,201.44 L956.4,201.81 L957.4,202.16 L958.4,202.50 L959.4,202.82 L960.4,203.12 L961.4,203.41 L962.4,203.68 L963.4,203.94 L964.4,204.18 L965.4,204.42 L966.4,204.64 L967.4,204.86 L968.4,205.06 L969.4,205.26 L970.4,205.45 L971.4,205.63 L972.4,205.81 L973.4,205.98 L974.4,206.16 L975.4,206.32 L976.4,206.49 L977.4,206.66 L978.4,206.82 L979.4,206.99 L980.4,207.16 L981.4,207.34 L982.4,207.51 L983.4,207.70 L984.4,207.88 L985.4,208.08 L986.4,208.28 L987.4,208.49 L988.4,208.71 L989.4,208.94 L990.4,209.19 L991.4,209.44 L992.4,209.71 L993.4,209.99 L994.4,210.28 L995.4,210.59 L996.4,210.91 L997.4,211.24 L998.4,211.59 L999.4,211.95 L1000.4,212.32 L1001.4,212.71 L1002.4,213.11 L1003.4,213.53 L1004.4,213.97 L1005.4,214.42 L1006.4,214.88 L1007.4,215.36 L1008.4,215.86 L1009.4,216.37 L1010.4,216.90 L1011.4,217.45 L1012.4,218.01 L1013.4,218.59 L1014.4,219.19 L1015.4,219.81 L1016.4,220.44 L1017.4,221.09 L1018.4,221.76 L1019.4,222.45 L1020.4,223.16 L1021.4,223.89 L1022.4,224.63 L1023.4,225.40 L1024.4,226.19 L1025.4,226.99 L1026.4,227.82 L1027.4,228.67 L1028.4,229.53 L1029.4,230.42 L1030.4,231.33 L1031.4,232.26 L1032.4,233.20 L1033.4,234.17 L1034.4,235.16 L1035.4,236.17 L1036.4,237.20 L1037.4,238.24 L1038.4,239.31 L1039.4,240.40 L1040.4,241.50 L1041.4,242.63 L1042.4,243.78 L1043.4,244.94 L1044.4,246.13 L1045.4,247.33 L1046.4,248.55 L1047.4,249.80 L1048.4,251.06 L1049.4,252.34 L1050.4,253.64 L1051.4,254.96 L1052.4,256.30 L1053.4,257.64 L1054.4,258.99 L1055.4,260.33 L1056.4,261.66 L1057.4,262.98 L1058.4,264.26 L1059.4,265.51 L1060.4,266.72 L1061.4,267.89 L1062.4,268.99 L1063.4,270.04 L1064.4,271.01 L1065.4,271.91 L1066.4,272.72 L1067.4,273.45 L1068.4,274.07 L1069.4,274.59 L1070.4,274.99 L1071.4,275.27 L1072.4,275.43 L1073.4,275.47 L1074.4,275.38 L1075.4,275.17 L1076.4,274.83 L1077.4,274.39 L1078.4,273.82 L1079.4,273.14 L1080.4,272.35 L1081.4,271.45 L1082.4,270.43 L1083.4,269.31 L1084.4,268.09 L1085.4,266.76 L1086.4,265.33 L1087.4,263.82 L1088.4,262.22 L1089.4,260.55 L1090.4,258.82 L1091.4,257.04 L1092.4,255.21 L1093.4,253.34 L1094.4,251.45 L1095.4,249.53 L1096.4,247.61 L1097.4,245.69 L1098.4,243.77 L1099.4,241.87 L1100.4,240.00 L1101.4,238.16 L1102.4,236.36 L1103.4,234.61 L1104.4,232.90 L1105.4,231.24 L1106.4,229.63 L1107.4,228.07 L1108.4,226.55 L1109.4,225.09 L1110.4,223.68 L1111.4,222.32 L1112.4,221.01 L1113.4,219.76 L1114.4,218.56 L1115.4,217.41 L1116.4,216.32 L1117.4,215.29 L1118.4,214.32 L1119.4,213.40 L1120.4,212.54 L1121.4,211.74 L1122.4,210.99 L1123.4,210.30 L1124.4,209.66 L1125.4,209.07 L1126.4,208.53 L1127.4,208.03 L1128.4,207.59 L1129.4,207.19 L1130.4,206.84 L1131.4,206.54 L1132.4,206.27 L1133.4,206.05 L1134.4,205.86 L1135.4,205.72 L1136.4,205.61 L1137.4,205.55 L1138.4,205.51 L1139.4,205.51 L1140.4,205.55 L1141.4,205.61 L1142.4,205.71 L1143.4,205.83 L1144.4,205.99 L1145.4,206.17 L1146.4,206.37 L1147.4,206.61 L1148.4,206.86 L1149.4,207.14 L1150.4,207.43 L1151.4,207.75 L1152.4,208.09 L1153.4,208.44 L1154.4,208.81 L1155.4,209.19 L1156.4,209.59 L1157.4,210.00 L1158.4,210.42 L1159.4,210.85 L1160.4,211.29 L1161.4,211.74 L1162.4,212.19 L1163.4,212.65 L1164.4,213.11 L1165.4,213.58 L1166.4,214.04 L1167.4,214.51 L1168.4,214.97 L1169.4,215.44 L1170.4,215.90 L1171.4,216.35 L1172.4,216.80 L1173.4,217.24 L1174.4,217.67 L1175.4,218.10 L1176.4,218.51 L1177.4,218.91 L1178.4,219.30 L1179.4,219.68 L1180.4,220.05 L1181.4,220.41 L1182.4,220.77 L1183.4,221.12 L1184.4,221.47 L1185.4,221.81 L1186.4,222.15 L1187.4,222.49 L1188.4,222.84 L1189.4,223.18 L1190.4,223.53 L1191.4,223.88 L1192.4,224.24 L1193.4,224.61 L1194.4,224.99 L1195.4,225.37 L1196.4,225.77 L1197.4,226.18 L1198.4,226.60 L1199.4,227.04 L1200.4,227.49 L1201.4,227.97 L1202.4,228.46 L1203.4,228.97 L1204.4,229.50 L1205.4,230.06 L1206.4,230.64 L1207.4,231.24 L1208.4,231.87 L1209.4,232.53 L1210.4,233.22 L1211.4,233.94 L1212.4,234.68 L1213.4,235.47 L1214.4,236.28 L1215.4,237.14 L1216.4,238.03 L1217.4,238.95 L1218.4,239.92 L1219.4,240.92 L1220.4,241.97 L1221.4,243.05 L1222.4,244.16 L1223.4,245.30 L1224.4,246.46 L1225.4,247.63 L1226.4,248.82 L1227.4,250.01 L1228.4,251.20 L1229.4,252.40 L1230.4,253.59 L1231.4,254.76 L1232.4,255.92 L1233.4,257.06 L1234.4,258.17 L1235.4,259.26 L1236.4,260.31 L1237.4,261.32 L1238.4,262.29 L1239.4,263.21 L1240.4,264.08 L1241.4,264.90 L1242.4,265.65 L1243.4,266.34 L1244.4,266.96 L1245.4,267.50 L1246.4,267.97 L1247.4,268.35 L1248.4,268.65 L1249.4,268.85 L1250.4,268.97 L1251.4,268.98 L1252.4,268.89 L1253.4,268.70 L1254.4,268.42 L1255.4,268.05 L1256.4,267.59 L1257.4,267.06 L1258.4,266.44 L1259.4,265.76 L1260.4,265.00 L1261.4,264.17 L1262.4,263.29 L1263.4,262.34 L1264.4,261.34 L1265.4,260.29 L1266.4,259.20 L1267.4,258.06 L1268.4,256.89 L1269.4,255.68 L1270.4,254.46 L1271.4,253.21 L1272.4,251.94 L1273.4,250.67 L1274.4,249.38 L1275.4,248.10 L1276.4,246.82 L1277.4,245.55 L1278.4,244.30 L1279.4,243.06 L1280.4,241.85 L1281.4,240.67 L1282.4,239.52 L1283.4,238.40 L1284.4,237.33 L1285.4,236.29 L1286.4,235.29 L1287.4,234.34 L1288.4,233.43 L1289.4,232.56 L1290.4,231.75 L1291.4,230.98 L1292.4,230.27 L1293.4,229.61 L1294.4,229.00 L1295.4,228.45 L1296.4,227.96 L1297.4,227.53 L1298.4,227.17 L1299.4,226.87 L1300.4,226.63 L1301.4,226.46 L1302.4,226.36 L1303.4,226.34 L1304.4,226.38 L1305.4,226.50 L1306.4,226.70 L1307.4,226.98 L1308.4,227.34 L1309.4,227.78 L1310.4,228.30 L1311.4,228.91 L1312.4,229.61 L1313.4,230.40 L1314.4,231.28 L1315.4,232.25 L1316.4,233.31 L1317.4,234.46 L1318.4,235.69 L1319.4,237.00 L1320.4,238.38 L1321.4,239.82 L1322.4,241.33 L1323.4,242.88 L1324.4,244.49 L1325.4,246.14 L1326.4,247.84 L1327.4,249.56 L1328.4,251.31 L1329.4,253.09 L1330.4,254.88 L1331.4,256.69 L1332.4,258.50 L1333.4,260.31 L1334.4,262.12 L1335.4,263.92 L1336.4,265.71 L1337.4,267.47 L1338.4,269.21 L1339.4,270.92 L1340.4,272.60 L1341.4,274.23 L1342.4,275.82 L1343.4,277.36 L1344.4,278.83 L1345.4,280.25 L1346.4,281.60 L1347.4,282.86 L1348.4,284.05 L1349.4,285.13 L1350.4,286.11 L1351.4,286.97 L1352.4,287.70 L1353.4,288.30 L1354.4,288.75 L1355.4,289.05 L1356.4,289.18 L1357.4,289.14 L1358.4,288.93 L1359.4,288.57 L1360.4,288.05 L1361.4,287.39 L1362.4,286.58 L1363.4,285.65 L1364.4,284.59 L1365.4,283.42 L1366.4,282.13 L1367.4,280.74 L1368.4,279.25 L1369.4,277.67 L1370.4,276.01 L1371.4,274.28 L1372.4,272.47 L1373.4,270.60 L1374.4,268.68 L1375.4,266.71 L1376.4,264.70 L1377.4,262.65 L1378.4,260.57 L1379.4,258.48 L1380.4,256.37 L1381.4,254.26 L1382.4,252.14 L1383.4,250.03 L1384.4,247.94 L1385.4,245.87 L1386.4,243.82 L1387.4,241.81 L1388.4,239.85 L1389.4,237.92 L1390.4,236.03 L1391.4,234.19 L1392.4,232.40 L1393.4,230.66 L1394.4,228.97 L1395.4,227.34 L1396.4,225.77 L1397.4,224.25 L1398.4,222.80 L1399.4,221.41 L1400.4,220.09 L1401.4,218.83 L1402.4,217.65 L1403.4,216.54 L1404.4,215.50 L1405.4,214.54 L1406.4,213.66 L1407.4,212.87 L1408.4,212.16 L1409.4,211.53 L1410.4,210.99 L1411.4,210.55 L1412.4,210.20 L1413.4,209.94 L1414.4,209.78 L1415.4,209.72 L1416.4,209.75 L1417.4,209.87 L1418.4,210.07 L1419.4,210.36 L1420.4,210.72 L1421.4,211.15 L1422.4,211.66 L1423.4,212.23 L1424.4,212.85 L1425.4,213.54 L1426.4,214.28 L1427.4,215.07 L1428.4,215.90 L1429.4,216.78 L1430.4,217.69 L1431.4,218.64 L1432.4,219.61 L1433.4,220.61 L1434.4,221.64 L1435.4,222.68 L1436.4,223.73 L1437.4,224.80 L1438.4,225.87 L1439.4,226.94 L1440.4,228.01 L1441.4,229.08 L1442.4,230.13 L1443.4,231.17 L1444.4,232.20 L1445.4,233.20 L1446.4,234.18 L1447.4,235.12 L1448.4,236.04 L1449.4,236.92 L1450.4,237.76 L1451.4,238.55 L1452.4,239.31 L1453.4,240.01 L1454.4,240.67 L1455.4,241.29 L1456.4,241.85 L1457.4,242.36 L1458.4,242.82 L1459.4,243.22 L1460.4,243.57 L1461.4,243.86 L1462.4,244.09 L1463.4,244.26 L1464.4,244.37 L1465.4,244.43 L1466.4,244.44 L1467.4,244.42 L1468.4,244.38 L1469.4,244.32 L1470.4,244.26 L1471.4,244.19 L1472.4,244.14 L1473.4,244.10 L1474.4,244.10 L1475.4,244.13 L1476.4,244.20 L1477.4,244.33 L1478.4,244.53 L1479.4,244.79 L1480.4,245.13 L1481.4,245.53 L1482.4,246.01 L1483.4,246.56 L1484.4,247.18 L1485.4,247.86 L1486.4,248.61 L1487.4,249.42 L1488.4,250.29 L1489.4,251.23 L1490.4,252.23 L1491.4,253.29 L1492.4,254.41 L1493.4,255.58 L1494.4,256.81 L1495.4,258.09 L1496.4,259.43 L1497.4,260.83 L1498.4,262.27 L1499.4,263.76 L1500.4,265.30 L1501.4,266.89 L1502.4,268.53 L1503.4,270.21 L1504.4,271.94 L1505.4,273.70 L1506.4,275.52 L1507.4,277.37 L1508.4,279.26 L1509.4,281.19 L1510.4,283.15 L1511.4,285.16 L1512.4,287.19 L1513.4,289.26 L1514.4,291.37 L1515.4,293.50 L1516.4,295.66 L1517.4,297.86 L1518.4,300.08 L1519.4,302.32 L1520.4,304.59 L1521.4,306.89 L1522.4,309.21 L1523.4,311.55 L1524.4,313.91 L1525.4,316.29 L1526.4,318.69 L1527.4,321.10 L1528.4,323.53 L1529.4,325.98 L1530.4,328.44 L1531.4,330.91 L1532.4,333.39 L1533.4,335.88 L1534.4,338.38 L1535.4,340.88 L1536.4,343.39 L1537.4,345.88 L1538.4,348.37 L1539.4,350.85 L1540.4,353.30 L1541.4,355.73 L1542.4,358.13 L1543.4,360.49 L1544.4,362.82 L1545.4,365.10 L1546.4,367.33 L1547.4,369.51 L1548.4,371.63 L1549.4,373.68 L1550.4,375.67 L1551.4,377.59 L1552.4,379.42 L1553.4,381.18 L1554.4,382.84 L1555.4,384.42 L1556.4,385.89 L1557.4,387.27 L1558.4,388.53 L1559.4,389.69 L1560.4,390.72 L1561.4,391.64 L1562.4,392.43 L1563.4,393.08 L1564.4,393.61 L1565.4,393.99 L1566.4,394.24 L1567.4,394.39 L1568.4,394.44 L1569.4,394.42 L1570.4,394.34 L1571.4,394.22 L1572.4,394.08 L1573.4,393.93 L1574.4,393.78 L1575.4,393.67 L1576.4,393.60 L1577.4,393.58 L1578.4,393.65 L1579.4,393.81 L1580.0,393.96" stroke="#e8003a"/>
<path d="M113.4,160.00 L114.4,160.25 L115.4,160.49 L116.4,160.73 L117.4,160.97 L118.4,161.21 L119.4,161.45 L120.4,161.68 L121.4,161.91 L122.4,162.14 L123.4,162.37 L124.4,162.60 L125.4,162.83 L126.4,163.06 L127.4,163.28 L128.4,163.51 L129.4,163.74 L130.4,163.97 L131.4,164.19 L132.4,164.42 L133.4,164.65 L134.4,164.88 L135.4,165.12 L136.4,165.35 L137.4,165.59 L138.4,165.82 L139.4,166.06 L140.4,166.31 L141.4,166.55 L142.4,166.80 L143.4,167.05 L144.4,167.30 L145.4,167.56 L146.4,167.82 L147.4,168.09 L148.4,168.36 L149.4,168.63 L150.4,168.91 L151.4,169.19 L152.4,169.48 L153.4,169.77 L154.4,170.07 L155.4,170.37 L156.4,170.68 L157.4,171.00 L158.4,171.32 L159.4,171.64 L160.4,171.98 L161.4,172.32 L162.4,172.67 L163.4,173.02 L164.4,173.38 L165.4,173.75 L166.4,174.13 L167.4,174.52 L168.4,174.91 L169.4,175.31 L170.4,175.72 L171.4,176.14 L172.4,176.57 L173.4,177.01 L174.4,177.46 L175.4,177.91 L176.4,178.38 L177.4,178.86 L178.4,179.34 L179.4,179.84 L180.4,180.34 L181.4,180.85 L182.4,181.37 L183.4,181.90 L184.4,182.44 L185.4,182.98 L186.4,183.52 L187.4,184.07 L188.4,184.63 L189.4,185.19 L190.4,185.76 L191.4,186.32 L192.4,186.89 L193.4,187.47 L194.4,188.04 L195.4,188.62 L196.4,189.20 L197.4,189.77 L198.4,190.35 L199.4,190.93 L200.4,191.51 L201.4,192.08 L202.4,192.65 L203.4,193.23 L204.4,193.79 L205.4,194.36 L206.4,194.92 L207.4,195.47 L208.4,196.03 L209.4,196.57 L210.4,197.11 L211.4,197.65 L212.4,198.17 L213.4,198.70 L214.4,199.21 L215.4,199.72 L216.4,200.22 L217.4,200.71 L218.4,201.20 L219.4,201.68 L220.4,202.16 L221.4,202.62 L222.4,203.08 L223.4,203.54 L224.4,203.98 L225.4,204.42 L226.4,204.86 L227.4,205.28 L228.4,205.70 L229.4,206.12 L230.4,206.52 L231.4,206.92 L232.4,207.31 L233.4,207.70 L234.4,208.07 L235.4,208.44 L236.4,208.81 L237.4,209.16 L238.4,209.51 L239.4,209.85 L240.4,210.19 L241.4,210.52 L242.4,210.84 L243.4,211.15 L244.4,211.46 L245.4,211.76 L246.4,212.05 L247.4,212.33 L248.4,212.61 L249.4,212.88 L250.4,213.14 L251.4,213.40 L252.4,213.64 L253.4,213.88 L254.4,214.12 L255.4,214.34 L256.4,214.56 L257.4,214.77 L258.4,214.97 L259.4,215.17 L260.4,215.36 L261.4,215.54 L262.4,215.71 L263.4,215.88 L264.4,216.03 L265.4,216.18 L266.4,216.33 L267.4,216.46 L268.4,216.59 L269.4,216.71 L270.4,216.82 L271.4,216.92 L272.4,217.02 L273.4,217.11 L274.4,217.19 L275.4,217.26 L276.4,217.32 L277.4,217.38 L278.4,217.43 L279.4,217.47 L280.4,217.50 L281.4,217.53 L282.4,217.55 L283.4,217.56 L284.4,217.56 L285.4,217.55 L286.4,217.54 L287.4,217.51 L288.4,217.48 L289.4,217.44 L290.4,217.40 L291.4,217.34 L292.4,217.28 L293.4,217.21 L294.4,217.13 L295.4,217.04 L296.4,216.94 L297.4,216.84 L298.4,216.73 L299.4,216.60 L300.4,216.48 L301.4,216.34 L302.4,216.19 L303.4,216.04 L304.4,215.87 L305.4,215.70 L306.4,215.52 L307.4,215.34 L308.4,215.14 L309.4,214.94 L310.4,214.74 L311.4,214.52 L312.4,214.30 L313.4,214.07 L314.4,213.84 L315.4,213.60 L316.4,213.36 L317.4,213.11 L318.4,212.85 L319.4,212.59 L320.4,212.33 L321.4,212.06 L322.4,211.79 L323.4,211.51 L324.4,211.24 L325.4,210.96 L326.4,210.67 L327.4,210.38 L328.4,210.09 L329.4,209.80 L330.4,209.51 L331.4,209.22 L332.4,208.92 L333.4,208.62 L334.4,208.32 L335.4,208.03 L336.4,207.73 L337.4,207.43 L338.4,207.13 L339.4,206.83 L340.4,206.53 L341.4,206.24 L342.4,205.94 L343.4,205.65 L344.4,205.36 L345.4,205.07 L346.4,204.78 L347.4,204.49 L348.4,204.21 L349.4,203.93 L350.4,203.66 L351.4,203.38 L352.4,203.12 L353.4,202.85 L354.4,202.59 L355.4,202.34 L356.4,202.08 L357.4,201.84 L358.4,201.60 L359.4,201.36 L360.4,201.13 L361.4,200.91 L362.4,200.69 L363.4,200.48 L364.4,200.28 L365.4,200.09 L366.4,199.90 L367.4,199.72 L368.4,199.54 L369.4,199.38 L370.4,199.22 L371.4,199.07 L372.4,198.93 L373.4,198.80 L374.4,198.68 L375.4,198.57 L376.4,198.47 L377.4,198.38 L378.4,198.30 L379.4,198.23 L380.4,198.17 L381.4,198.12 L382.4,198.09 L383.4,198.06 L384.4,198.05 L385.4,198.05 L386.4,198.06 L387.4,198.09 L388.4,198.12 L389.4,198.17 L390.4,198.22 L391.4,198.29 L392.4,198.36 L393.4,198.45 L394.4,198.54 L395.4,198.65 L396.4,198.76 L397.4,198.88 L398.4,199.01 L399.4,199.15 L400.4,199.30 L401.4,199.45 L402.4,199.62 L403.4,199.78 L404.4,199.96 L405.4,200.14 L406.4,200.33 L407.4,200.52 L408.4,200.72 L409.4,200.92 L410.4,201.13 L411.4,201.35 L412.4,201.57 L413.4,201.79 L414.4,202.02 L415.4,202.25 L416.4,202.48 L417.4,202.72 L418.4,202.96 L419.4,203.20 L420.4,203.45 L421.4,203.69 L422.4,203.94 L423.4,204.19 L424.4,204.44 L425.4,204.69 L426.4,204.94 L427.4,205.20 L428.4,205.45 L429.4,205.70 L430.4,205.95 L431.4,206.21 L432.4,206.45 L433.4,206.70 L434.4,206.95 L435.4,207.20 L436.4,207.44 L437.4,207.68 L438.4,207.92 L439.4,208.15 L440.4,208.38 L441.4,208.61 L442.4,208.83 L443.4,209.05 L444.4,209.27 L445.4,209.48 L446.4,209.68 L447.4,209.88 L448.4,210.08 L449.4,210.27 L450.4,210.45 L451.4,210.63 L452.4,210.80 L453.4,210.96 L454.4,211.12 L455.4,211.26 L456.4,211.40 L457.4,211.54 L458.4,211.66 L459.4,211.78 L460.4,211.88 L461.4,211.98 L462.4,212.07 L463.4,212.15 L464.4,212.23 L465.4,212.29 L466.4,212.36 L467.4,212.41 L468.4,212.46 L469.4,212.51 L470.4,212.55 L471.4,212.59 L472.4,212.62 L473.4,212.65 L474.4,212.67 L475.4,212.70 L476.4,212.72 L477.4,212.74 L478.4,212.76 L479.4,212.78 L480.4,212.80 L481.4,212.82 L482.4,212.84 L483.4,212.86 L484.4,212.88 L485.4,212.90 L486.4,212.93 L487.4,212.96 L488.4,212.99 L489.4,213.02 L490.4,213.06 L491.4,213.11 L492.4,213.16 L493.4,213.21 L494.4,213.27 L495.4,213.34 L496.4,213.41 L497.4,213.49 L498.4,213.58 L499.4,213.67 L500.4,213.78 L501.4,213.89 L502.4,214.01 L503.4,214.14 L504.4,214.28 L505.4,214.44 L506.4,214.60 L507.4,214.77 L508.4,214.96 L509.4,215.16 L510.4,215.36 L511.4,215.58 L512.4,215.81 L513.4,216.05 L514.4,216.30 L515.4,216.57 L516.4,216.84 L517.4,217.13 L518.4,217.43 L519.4,217.74 L520.4,218.06 L521.4,218.39 L522.4,218.74 L523.4,219.09 L524.4,219.46 L525.4,219.84 L526.4,220.24 L527.4,220.64 L528.4,221.06 L529.4,221.49 L530.4,221.93 L531.4,222.39 L532.4,222.85 L533.4,223.33 L534.4,223.83 L535.4,224.33 L536.4,224.85 L537.4,225.38 L538.4,225.92 L539.4,226.48 L540.4,227.05 L541.4,227.63 L542.4,228.23 L543.4,228.84 L544.4,229.46 L545.4,230.10 L546.4,230.75 L547.4,231.41 L548.4,232.09 L549.4,232.78 L550.4,233.49 L551.4,234.20 L552.4,234.94 L553.4,235.68 L554.4,236.44 L555.4,237.22 L556.4,238.01 L557.4,238.81 L558.4,239.63 L559.4,240.46 L560.4,241.30 L561.4,242.16 L562.4,243.04 L563.4,243.93 L564.4,244.83 L565.4,245.75 L566.4,246.67 L567.4,247.60 L568.4,248.53 L569.4,249.46 L570.4,250.39 L571.4,251.30 L572.4,252.21 L573.4,253.10 L574.4,253.96 L575.4,254.81 L576.4,255.63 L577.4,256.42 L578.4,257.17 L579.4,257.89 L580.4,258.57 L581.4,259.22 L582.4,259.83 L583.4,260.40 L584.4,260.94 L585.4,261.44 L586.4,261.91 L587.4,262.35 L588.4,262.76 L589.4,263.13 L590.4,263.48 L591.4,263.80 L592.4,264.09 L593.4,264.36 L594.4,264.59 L595.4,264.81 L596.4,265.00 L597.4,265.16 L598.4,265.31 L599.4,265.43 L600.4,265.53 L601.4,265.61 L602.4,265.68 L603.4,265.72 L604.4,265.75 L605.4,265.76 L606.4,265.76 L607.4,265.74 L608.4,265.70 L609.4,265.66 L610.4,265.59 L611.4,265.52 L612.4,265.43 L613.4,265.34 L614.4,265.23 L615.4,265.11 L616.4,264.99 L617.4,264.85 L618.4,264.71 L619.4,264.56 L620.4,264.41 L621.4,264.25 L622.4,264.08 L623.4,263.91 L624.4,263.74 L625.4,263.57 L626.4,263.39 L627.4,263.21 L628.4,263.03 L629.4,262.85 L630.4,262.67 L631.4,262.49 L632.4,262.32 L633.4,262.14 L634.4,261.98 L635.4,261.81 L636.4,261.65 L637.4,261.50 L638.4,261.35 L639.4,261.21 L640.4,261.07 L641.4,260.95 L642.4,260.83 L643.4,260.72 L644.4,260.63 L645.4,260.54 L646.4,260.47 L647.4,260.41 L648.4,260.36 L649.4,260.33 L650.4,260.31 L651.4,260.30 L652.4,260.31 L653.4,260.34 L654.4,260.38 L655.4,260.44 L656.4,260.51 L657.4,260.59 L658.4,260.68 L659.4,260.79 L660.4,260.90 L661.4,261.03 L662.4,261.16 L663.4,261.31 L664.4,261.46 L665.4,261.62 L666.4,261.79 L667.4,261.96 L668.4,262.14 L669.4,262.32 L670.4,262.51 L671.4,262.70 L672.4,262.90 L673.4,263.10 L674.4,263.30 L675.4,263.50 L676.4,263.70 L677.4,263.90 L678.4,264.11 L679.4,264.31 L680.4,264.51 L681.4,264.70 L682.4,264.90 L683.4,265.08 L684.4,265.27 L685.4,265.45 L686.4,265.62 L687.4,265.79 L688.4,265.95 L689.4,266.11 L690.4,266.25 L691.4,266.39 L692.4,266.52 L693.4,266.64 L694.4,266.74 L695.4,266.84 L696.4,266.92 L697.4,266.99 L698.4,267.05 L699.4,267.10 L700.4,267.13 L701.4,267.14 L702.4,267.14 L703.4,267.12 L704.4,267.09 L705.4,267.04 L706.4,266.97 L707.4,266.87 L708.4,266.75 L709.4,266.58 L710.4,266.38 L711.4,266.12 L712.4,265.81 L713.4,265.44 L714.4,265.00 L715.4,264.48 L716.4,263.89 L717.4,263.20 L718.4,262.42 L719.4,261.54 L720.4,260.56 L721.4,259.48 L722.4,258.31 L723.4,257.06 L724.4,255.72 L725.4,254.31 L726.4,252.84 L727.4,251.30 L728.4,249.71 L729.4,248.07 L730.4,246.38 L731.4,244.66 L732.4,242.91 L733.4,241.13 L734.4,239.33 L735.4,237.52 L736.4,235.70 L737.4,233.88 L738.4,232.06 L739.4,230.26 L740.4,228.46 L741.4,226.68 L742.4,224.92 L743.4,223.17 L744.4,221.43 L745.4,219.72 L746.4,218.02 L747.4,216.34 L748.4,214.69 L749.4,213.05 L750.4,211.44 L751.4,209.86 L752.4,208.29 L753.4,206.76 L754.4,205.25 L755.4,203.77 L756.4,202.31 L757.4,200.89 L758.4,199.50 L759.4,198.14 L760.4,196.82 L761.4,195.53 L762.4,194.27 L763.4,193.05 L764.4,191.87 L765.4,190.73 L766.4,189.63 L767.4,188.57 L768.4,187.55 L769.4,186.57 L770.4,185.63 L771.4,184.73 L772.4,183.86 L773.4,183.03 L774.4,182.24 L775.4,181.48 L776.4,180.75 L777.4,180.05 L778.4,179.38 L779.4,178.74 L780.4,178.12 L781.4,177.53 L782.4,176.96 L783.4,176.42 L784.4,175.90 L785.4,175.39 L786.4,174.91 L787.4,174.44 L788.4,173.99 L789.4,173.55 L790.4,173.12 L791.4,172.71 L792.4,172.31 L793.4,171.92 L794.4,171.53 L795.4,171.15 L796.4,170.77 L797.4,170.40 L798.4,170.04 L799.4,169.67 L800.4,169.30 L801.4,168.93 L802.4,168.56 L803.4,168.18 L804.4,167.80 L805.4,167.41 L806.4,167.02 L807.4,166.61 L808.4,166.21 L809.4,165.79 L810.4,165.38 L811.4,164.96 L812.4,164.54 L813.4,164.12 L814.4,163.70 L815.4,163.28 L816.4,162.86 L817.4,162.44 L818.4,162.03 L819.4,161.62 L820.4,161.22 L821.4,160.82 L822.4,160.42 L823.4,160.04 L824.4,159.66 L825.4,159.30 L826.4,158.94 L827.4,158.59 L828.4,158.26 L829.4,157.94 L830.4,157.63 L831.4,157.33 L832.4,157.05 L833.4,156.79 L834.4,156.54 L835.4,156.31 L836.4,156.10 L837.4,155.91 L838.4,155.74 L839.4,155.59 L840.4,155.46 L841.4,155.36 L842.4,155.28 L843.4,155.22 L844.4,155.19 L845.4,155.18 L846.4,155.20 L847.4,155.25 L848.4,155.32 L849.4,155.43 L850.4,155.56 L851.4,155.71 L852.4,155.90 L853.4,156.11 L854.4,156.34 L855.4,156.60 L856.4,156.89 L857.4,157.20 L858.4,157.54 L859.4,157.90 L860.4,158.29 L861.4,158.70 L862.4,159.14 L863.4,159.60 L864.4,160.08 L865.4,160.59 L866.4,161.12 L867.4,161.67 L868.4,162.25 L869.4,162.85 L870.4,163.47 L871.4,164.11 L872.4,164.78 L873.4,165.47 L874.4,166.17 L875.4,166.91 L876.4,167.66 L877.4,168.43 L878.4,169.22 L879.4,170.04 L880.4,170.87 L881.4,171.72 L882.4,172.60 L883.4,173.49 L884.4,174.40 L885.4,175.32 L886.4,176.26 L887.4,177.21 L888.4,178.18 L889.4,179.15 L890.4,180.14 L891.4,181.14 L892.4,182.15 L893.4,183.17 L894.4,184.19 L895.4,185.22 L896.4,186.26 L897.4,187.30 L898.4,188.35 L899.4,189.40 L900.4,190.45 L901.4,191.50 L902.4,192.55 L903.4,193.60 L904.4,194.65 L905.4,195.70 L906.4,196.74 L907.4,197.78 L908.4,198.81 L909.4,199.83 L910.4,200.85 L911.4,201.86 L912.4,202.86 L913.4,203.85 L914.4,204.83 L915.4,205.80 L916.4,206.75 L917.4,207.69 L918.4,208.62 L919.4,209.52 L920.4,210.42 L921.4,211.29 L922.4,212.15 L923.4,212.98 L924.4,213.80 L925.4,214.59 L926.4,215.36 L927.4,216.11 L928.4,216.83 L929.4,217.53 L930.4,218.20 L931.4,218.85 L932.4,219.46 L933.4,220.05 L934.4,220.61 L935.4,221.13 L936.4,221.63 L937.4,222.09 L938.4,222.52 L939.4,222.91 L940.4,223.27 L941.4,223.59 L942.4,223.88 L943.4,224.12 L944.4,224.33 L945.4,224.49 L946.4,224.62 L947.4,224.70 L948.4,224.74 L949.4,224.74 L950.4,224.69 L951.4,224.59 L952.4,224.45 L953.4,224.26 L954.4,224.02 L955.4,223.73 L956.4,223.39 L957.4,223.00 L958.4,222.56 L959.4,222.07 L960.4,221.53 L961.4,220.95 L962.4,220.35 L963.4,219.71 L964.4,219.05 L965.4,218.37 L966.4,217.68 L967.4,216.98 L968.4,216.28 L969.4,215.58 L970.4,214.88 L971.4,214.20 L972.4,213.54 L973.4,212.90 L974.4,212.29 L975.4,211.72 L976.4,211.18 L977.4,210.68 L978.4,210.24 L979.4,209.85 L980.4,209.51 L981.4,209.25 L982.4,209.05 L983.4,208.92 L984.4,208.88 L985.4,208.91 L986.4,209.02 L987.4,209.19 L988.4,209.43 L989.4,209.73 L990.4,210.09 L991.4,210.50 L992.4,210.96 L993.4,211.46 L994.4,212.01 L995.4,212.59 L996.4,213.20 L997.4,213.84 L998.4,214.51 L999.4,215.19 L1000.4,215.89 L1001.4,216.60 L1002.4,217.31 L1003.4,218.02 L1004.4,218.72 L1005.4,219.42 L1006.4,220.10 L1007.4,220.76 L1008.4,221.39 L1009.4,222.00 L1010.4,222.58 L1011.4,223.12 L1012.4,223.65 L1013.4,224.17 L1014.4,224.68 L1015.4,225.20 L1016.4,225.73 L1017.4,226.28 L1018.4,226.86 L1019.4,227.48 L1020.4,228.14 L1021.4,228.84 L1022.4,229.60 L1023.4,230.40 L1024.4,231.24 L1025.4,232.12 L1026.4,233.04 L1027.4,234.00 L1028.4,234.99 L1029.4,236.01 L1030.4,237.07 L1031.4,238.16 L1032.4,239.27 L1033.4,240.41 L1034.4,241.57 L1035.4,242.75 L1036.4,243.95 L1037.4,245.17 L1038.4,246.40 L1039.4,247.65 L1040.4,248.91 L1041.4,250.18 L1042.4,251.46 L1043.4,252.74 L1044.4,254.03 L1045.4,255.32 L1046.4,256.61 L1047.4,257.89 L1048.4,259.18 L1049.4,260.45 L1050.4,261.72 L1051.4,262.98 L1052.4,264.23 L1053.4,265.47 L1054.4,266.69 L1055.4,267.89 L1056.4,269.08 L1057.4,270.24 L1058.4,271.38 L1059.4,272.50 L1060.4,273.58 L1061.4,274.64 L1062.4,275.67 L1063.4,276.67 L1064.4,277.63 L1065.4,278.55 L1066.4,279.44 L1067.4,280.29 L1068.4,281.09 L1069.4,281.86 L1070.4,282.57 L1071.4,283.24 L1072.4,283.86 L1073.4,284.43 L1074.4,284.94 L1075.4,285.40 L1076.4,285.80 L1077.4,286.15 L1078.4,286.43 L1079.4,286.65 L1080.4,286.81 L1081.4,286.90 L1082.4,286.92 L1083.4,286.87 L1084.4,286.76 L1085.4,286.56 L1086.4,286.29 L1087.4,285.95 L1088.4,285.52 L1089.4,285.01 L1090.4,284.42 L1091.4,283.75 L1092.4,282.99 L1093.4,282.14 L1094.4,281.20 L1095.4,280.16 L1096.4,279.03 L1097.4,277.81 L1098.4,276.49 L1099.4,275.07 L1100.4,273.57 L1101.4,271.98 L1102.4,270.33 L1103.4,268.60 L1104.4,266.82 L1105.4,264.98 L1106.4,263.10 L1107.4,261.18 L1108.4,259.23 L1109.4,257.25 L1110.4,255.26 L1111.4,253.25 L1112.4,251.25 L1113.4,249.24 L1114.4,247.25 L1115.4,245.28 L1116.4,243.33 L1117.4,241.41 L1118.4,239.53 L1119.4,237.70 L1120.4,235.92 L1121.4,234.20 L1122.4,232.54 L1123.4,230.96 L1124.4,229.44 L1125.4,228.00 L1126.4,226.63 L1127.4,225.33 L1128.4,224.12 L1129.4,222.98 L1130.4,221.93 L1131.4,220.97 L1132.4,220.09 L1133.4,219.31 L1134.4,218.60 L1135.4,217.98 L1136.4,217.43 L1137.4,216.97 L1138.4,216.57 L1139.4,216.24 L1140.4,215.97 L1141.4,215.77 L1142.4,215.63 L1143.4,215.54 L1144.4,215.51 L1145.4,215.52 L1146.4,215.58 L1147.4,215.68 L1148.4,215.82 L1149.4,216.00 L1150.4,216.21 L1151.4,216.45 L1152.4,216.72 L1153.4,217.01 L1154.4,217.32 L1155.4,217.64 L1156.4,217.98 L1157.4,218.33 L1158.4,218.69 L1159.4,219.05 L1160.4,219.41 L1161.4,219.77 L1162.4,220.12 L1163.4,220.46 L1164.4,220.79 L1165.4,221.11 L1166.4,221.40 L1167.4,221.68 L1168.4,221.93 L1169.4,222.14 L1170.4,222.33 L1171.4,222.48 L1172.4,222.60 L1173.4,222.67 L1174.4,222.70 L1175.4,222.68 L1176.4,222.61 L1177.4,222.49 L1178.4,222.33 L1179.4,222.14 L1180.4,221.92 L1181.4,221.68 L1182.4,221.42 L1183.4,221.15 L1184.4,220.88 L1185.4,220.61 L1186.4,220.35 L1187.4,220.10 L1188.4,219.88 L1189.4,219.67 L1190.4,219.51 L1191.4,219.38 L1192.4,219.29 L1193.4,219.25 L1194.4,219.27 L1195.4,219.35 L1196.4,219.49 L1197.4,219.68 L1198.4,219.93 L1199.4,220.24 L1200.4,220.60 L1201.4,221.02 L1202.4,221.49 L1203.4,222.02 L1204.4,222.60 L1205.4,223.24 L1206.4,223.93 L1207.4,224.67 L1208.4,225.46 L1209.4,226.31 L1210.4,227.21 L1211.4,228.16 L1212.4,229.16 L1213.4,230.20 L1214.4,231.28 L1215.4,232.41 L1216.4,233.56 L1217.4,234.74 L1218.4,235.95 L1219.4,237.19 L1220.4,238.44 L1221.4,239.71 L1222.4,240.99 L1223.4,242.27 L1224.4,243.56 L1225.4,244.85 L1226.4,246.14 L1227.4,247.42 L1228.4,248.70 L1229.4,249.96 L1230.4,251.21 L1231.4,252.46 L1232.4,253.69 L1233.4,254.92 L1234.4,256.14 L1235.4,257.35 L1236.4,258.55 L1237.4,259.75 L1238.4,260.94 L1239.4,262.13 L1240.4,263.31 L1241.4,264.49 L1242.4,265.66 L1243.4,266.83 L1244.4,268.00 L1245.4,269.16 L1246.4,270.31 L1247.4,271.44 L1248.4,272.54 L1249.4,273.61 L1250.4,274.64 L1251.4,275.63 L1252.4,276.56 L1253.4,277.43 L1254.4,278.24 L1255.4,278.96 L1256.4,279.61 L1257.4,280.17 L1258.4,280.63 L1259.4,280.99 L1260.4,281.24 L1261.4,281.37 L1262.4,281.38 L1263.4,281.25 L1264.4,281.00 L1265.4,280.63 L1266.4,280.16 L1267.4,279.59 L1268.4,278.94 L1269.4,278.21 L1270.4,277.42 L1271.4,276.57 L1272.4,275.68 L1273.4,274.77 L1274.4,273.83 L1275.4,272.88 L1276.4,271.93 L1277.4,270.99 L1278.4,270.08 L1279.4,269.19 L1280.4,268.33 L1281.4,267.50 L1282.4,266.70 L1283.4,265.94 L1284.4,265.21 L1285.4,264.51 L1286.4,263.85 L1287.4,263.23 L1288.4,262.64 L1289.4,262.09 L1290.4,261.59 L1291.4,261.12 L1292.4,260.70 L1293.4,260.32 L1294.4,259.99 L1295.4,259.70 L1296.4,259.46 L1297.4,259.27 L1298.4,259.13 L1299.4,259.03 L1300.4,258.99 L1301.4,259.01 L1302.4,259.07 L1303.4,259.20 L1304.4,259.37 L1305.4,259.61 L1306.4,259.91 L1307.4,260.26 L1308.4,260.67 L1309.4,261.15 L1310.4,261.69 L1311.4,262.30 L1312.4,262.97 L1313.4,263.70 L1314.4,264.51 L1315.4,265.38 L1316.4,266.32 L1317.4,267.33 L1318.4,268.40 L1319.4,269.52 L1320.4,270.70 L1321.4,271.94 L1322.4,273.22 L1323.4,274.55 L1324.4,275.92 L1325.4,277.33 L1326.4,278.78 L1327.4,280.25 L1328.4,281.76 L1329.4,283.29 L1330.4,284.85 L1331.4,286.42 L1332.4,288.01 L1333.4,289.60 L1334.4,291.19 L1335.4,292.79 L1336.4,294.38 L1337.4,295.96 L1338.4,297.52 L1339.4,299.07 L1340.4,300.59 L1341.4,302.08 L1342.4,303.54 L1343.4,304.96 L1344.4,306.34 L1345.4,307.67 L1346.4,308.95 L1347.4,310.18 L1348.4,311.34 L1349.4,312.44 L1350.4,313.47 L1351.4,314.43 L1352.4,315.30 L1353.4,316.10 L1354.4,316.80 L1355.4,317.42 L1356.4,317.93 L1357.4,318.35 L1358.4,318.66 L1359.4,318.85 L1360.4,318.94 L1361.4,318.90 L1362.4,318.75 L1363.4,318.49 L1364.4,318.12 L1365.4,317.65 L1366.4,317.09 L1367.4,316.44 L1368.4,315.71 L1369.4,314.90 L1370.4,314.01 L1371.4,313.06 L1372.4,312.04 L1373.4,310.97 L1374.4,309.85 L1375.4,308.67 L1376.4,307.46 L1377.4,306.21 L1378.4,304.93 L1379.4,303.63 L1380.4,302.30 L1381.4,300.96 L1382.4,299.61 L1383.4,298.26 L1384.4,296.90 L1385.4,295.56 L1386.4,294.22 L1387.4,292.90 L1388.4,291.61 L1389.4,290.34 L1390.4,289.10 L1391.4,287.91 L1392.4,286.75 L1393.4,285.65 L1394.4,284.60 L1395.4,283.60 L1396.4,282.68 L1397.4,281.82 L1398.4,281.04 L1399.4,280.33 L1400.4,279.72 L1401.4,279.19 L1402.4,278.76 L1403.4,278.44 L1404.4,278.22 L1405.4,278.11 L1406.4,278.12 L1407.4,278.24 L1408.4,278.47 L1409.4,278.82 L1410.4,279.27 L1411.4,279.83 L1412.4,280.48 L1413.4,281.24 L1414.4,282.09 L1415.4,283.04 L1416.4,284.08 L1417.4,285.20 L1418.4,286.41 L1419.4,287.70 L1420.4,289.07 L1421.4,290.52 L1422.4,292.04 L1423.4,293.62 L1424.4,295.25 L1425.4,296.92 L1426.4,298.63 L1427.4,300.37 L1428.4,302.12 L1429.4,303.88 L1430.4,305.63 L1431.4,307.38 L1432.4,309.12 L1433.4,310.82 L1434.4,312.49 L1435.4,314.12 L1436.4,315.69 L1437.4,317.20 L1438.4,318.65 L1439.4,320.02 L1440.4,321.32 L1441.4,322.55 L1442.4,323.71 L1443.4,324.79 L1444.4,325.80 L1445.4,326.74 L1446.4,327.60 L1447.4,328.38 L1448.4,329.09 L1449.4,329.73 L1450.4,330.28 L1451.4,330.76 L1452.4,331.17 L1453.4,331.52 L1454.4,331.80 L1455.4,332.03 L1456.4,332.21 L1457.4,332.35 L1458.4,332.45 L1459.4,332.51 L1460.4,332.55 L1461.4,332.57 L1462.4,332.56 L1463.4,332.55 L1464.4,332.53 L1465.4,332.50 L1466.4,332.49 L1467.4,332.48 L1468.4,332.48 L1469.4,332.51 L1470.4,332.56 L1471.4,332.64 L1472.4,332.75 L1473.4,332.91 L1474.4,333.11 L1475.4,333.37 L1476.4,333.68 L1477.4,334.05 L1478.4,334.50 L1479.4,335.01 L1480.4,335.60 L1481.4,336.28 L1482.4,337.04 L1483.4,337.90 L1484.4,338.86 L1485.4,339.91 L1486.4,341.06 L1487.4,342.30 L1488.4,343.64 L1489.4,345.08 L1490.4,346.61 L1491.4,348.24 L1492.4,349.96 L1493.4,351.78 L1494.4,353.69 L1495.4,355.70 L1496.4,357.79 L1497.4,359.96 L1498.4,362.20 L1499.4,364.52 L1500.4,366.90 L1501.4,369.33 L1502.4,371.82 L1503.4,374.36 L1504.4,376.94 L1505.4,379.55 L1506.4,382.19 L1507.4,384.85 L1508.4,387.54 L1509.4,390.23 L1510.4,392.94 L1511.4,395.66 L1512.4,398.40 L1513.4,401.17 L1514.4,403.97 L1515.4,406.80 L1516.4,409.67 L1517.4,412.59 L1518.4,415.56 L1519.4,418.58 L1520.4,421.66 L1521.4,424.80 L1522.4,428.02 L1523.4,431.31 L1524.4,434.68 L1525.4,438.14 L1526.4,441.68 L1527.4,445.32 L1528.4,449.06 L1529.4,452.90 L1530.4,456.86 L1531.4,460.93 L1532.4,465.11 L1533.4,469.42 L1534.4,473.87 L1535.4,478.44 L1536.4,483.12 L1537.4,487.88 L1538.4,492.70 L1539.4,497.56 L1540.4,502.43 L1541.4,507.28 L1542.4,512.08 L1543.4,516.82 L1544.4,521.47 L1545.4,526.00 L1546.4,530.39 L1547.4,534.61 L1548.4,538.63 L1549.4,542.43 L1550.4,545.96 L1551.4,549.24 L1552.4,552.26 L1553.4,555.05 L1554.4,557.61 L1555.4,559.94 L1556.4,562.06 L1557.4,563.99 L1558.4,565.72 L1559.4,567.27 L1560.4,568.65 L1561.4,569.87 L1562.4,570.94 L1563.4,571.87 L1564.4,572.66 L1565.4,573.34 L1566.4,573.90 L1567.4,574.36 L1568.4,574.73 L1569.4,575.01 L1570.4,575.23 L1571.4,575.38 L1572.4,575.48 L1573.4,575.54 L1574.4,575.57 L1575.4,575.57 L1576.4,575.56 L1577.4,575.55 L1578.4,575.55 L1579.4,575.56 L1580.0,575.58" stroke="#f4a070"/>
<path d="M113.4,168.00 L114.4,168.19 L115.4,168.39 L116.4,168.59 L117.4,168.78 L118.4,168.98 L119.4,169.18 L120.4,169.38 L121.4,169.58 L122.4,169.78 L123.4,169.99 L124.4,170.20 L125.4,170.40 L126.4,170.61 L127.4,170.83 L128.4,171.04 L129.4,171.26 L130.4,171.48 L131.4,171.70 L132.4,171.93 L133.4,172.15 L134.4,172.38 L135.4,172.62 L136.4,172.86 L137.4,173.10 L138.4,173.34 L139.4,173.59 L140.4,173.84 L141.4,174.10 L142.4,174.35 L143.4,174.62 L144.4,174.89 L145.4,175.16 L146.4,175.44 L147.4,175.72 L148.4,176.00 L149.4,176.30 L150.4,176.59 L151.4,176.89 L152.4,177.20 L153.4,177.51 L154.4,177.83 L155.4,178.15 L156.4,178.48 L157.4,178.82 L158.4,179.16 L159.4,179.51 L160.4,179.86 L161.4,180.22 L162.4,180.59 L163.4,180.96 L164.4,181.34 L165.4,181.73 L166.4,182.12 L167.4,182.52 L168.4,182.93 L169.4,183.35 L170.4,183.77 L171.4,184.20 L172.4,184.64 L173.4,185.09 L174.4,185.54 L175.4,186.00 L176.4,186.47 L177.4,186.95 L178.4,187.44 L179.4,187.94 L180.4,188.44 L181.4,188.95 L182.4,189.47 L183.4,189.99 L184.4,190.52 L185.4,191.06 L186.4,191.60 L187.4,192.15 L188.4,192.70 L189.4,193.26 L190.4,193.82 L191.4,194.38 L192.4,194.95 L193.4,195.52 L194.4,196.10 L195.4,196.67 L196.4,197.25 L197.4,197.83 L198.4,198.42 L199.4,199.00 L200.4,199.59 L201.4,200.18 L202.4,200.76 L203.4,201.35 L204.4,201.94 L205.4,202.52 L206.4,203.11 L207.4,203.69 L208.4,204.27 L209.4,204.86 L210.4,205.43 L211.4,206.01 L212.4,206.58 L213.4,207.15 L214.4,207.72 L215.4,208.29 L216.4,208.85 L217.4,209.40 L218.4,209.96 L219.4,210.51 L220.4,211.06 L221.4,211.60 L222.4,212.14 L223.4,212.67 L224.4,213.20 L225.4,213.73 L226.4,214.25 L227.4,214.76 L228.4,215.27 L229.4,215.78 L230.4,216.28 L231.4,216.77 L232.4,217.26 L233.4,217.75 L234.4,218.23 L235.4,218.70 L236.4,219.17 L237.4,219.63 L238.4,220.08 L239.4,220.53 L240.4,220.97 L241.4,221.40 L242.4,221.83 L243.4,222.25 L244.4,222.67 L245.4,223.07 L246.4,223.47 L247.4,223.86 L248.4,224.25 L249.4,224.62 L250.4,224.99 L251.4,225.35 L252.4,225.71 L253.4,226.05 L254.4,226.38 L255.4,226.71 L256.4,227.03 L257.4,227.34 L258.4,227.64 L259.4,227.93 L260.4,228.21 L261.4,228.48 L262.4,228.75 L263.4,229.00 L264.4,229.24 L265.4,229.48 L266.4,229.70 L267.4,229.91 L268.4,230.12 L269.4,230.31 L270.4,230.49 L271.4,230.66 L272.4,230.82 L273.4,230.97 L274.4,231.11 L275.4,231.24 L276.4,231.35 L277.4,231.46 L278.4,231.56 L279.4,231.64 L280.4,231.71 L281.4,231.78 L282.4,231.83 L283.4,231.88 L284.4,231.91 L285.4,231.93 L286.4,231.95 L287.4,231.95 L288.4,231.95 L289.4,231.93 L290.4,231.90 L291.4,231.87 L292.4,231.83 L293.4,231.77 L294.4,231.71 L295.4,231.64 L296.4,231.56 L297.4,231.47 L298.4,231.37 L299.4,231.27 L300.4,231.15 L301.4,231.03 L302.4,230.90 L303.4,230.76 L304.4,230.61 L305.4,230.45 L306.4,230.29 L307.4,230.12 L308.4,229.94 L309.4,229.75 L310.4,229.56 L311.4,229.36 L312.4,229.16 L313.4,228.95 L314.4,228.73 L315.4,228.51 L316.4,228.28 L317.4,228.05 L318.4,227.82 L319.4,227.58 L320.4,227.34 L321.4,227.09 L322.4,226.84 L323.4,226.59 L324.4,226.33 L325.4,226.07 L326.4,225.82 L327.4,225.55 L328.4,225.29 L329.4,225.03 L330.4,224.76 L331.4,224.49 L332.4,224.23 L333.4,223.96 L334.4,223.69 L335.4,223.43 L336.4,223.16 L337.4,222.90 L338.4,222.64 L339.4,222.37 L340.4,222.11 L341.4,221.86 L342.4,221.60 L343.4,221.35 L344.4,221.10 L345.4,220.85 L346.4,220.61 L347.4,220.37 L348.4,220.14 L349.4,219.91 L350.4,219.68 L351.4,219.46 L352.4,219.24 L353.4,219.03 L354.4,218.83 L355.4,218.63 L356.4,218.44 L357.4,218.25 L358.4,218.07 L359.4,217.90 L360.4,217.73 L361.4,217.58 L362.4,217.43 L363.4,217.29 L364.4,217.16 L365.4,217.03 L366.4,216.92 L367.4,216.82 L368.4,216.72 L369.4,216.64 L370.4,216.56 L371.4,216.50 L372.4,216.45 L373.4,216.40 L374.4,216.37 L375.4,216.35 L376.4,216.35 L377.4,216.35 L378.4,216.37 L379.4,216.40 L380.4,216.44 L381.4,216.50 L382.4,216.56 L383.4,216.64 L384.4,216.72 L385.4,216.82 L386.4,216.93 L387.4,217.05 L388.4,217.17 L389.4,217.31 L390.4,217.46 L391.4,217.61 L392.4,217.78 L393.4,217.95 L394.4,218.13 L395.4,218.32 L396.4,218.52 L397.4,218.73 L398.4,218.94 L399.4,219.16 L400.4,219.38 L401.4,219.62 L402.4,219.86 L403.4,220.10 L404.4,220.35 L405.4,220.61 L406.4,220.87 L407.4,221.14 L408.4,221.41 L409.4,221.68 L410.4,221.96 L411.4,222.25 L412.4,222.54 L413.4,222.83 L414.4,223.12 L415.4,223.42 L416.4,223.72 L417.4,224.02 L418.4,224.32 L419.4,224.63 L420.4,224.94 L421.4,225.25 L422.4,225.56 L423.4,225.87 L424.4,226.18 L425.4,226.49 L426.4,226.80 L427.4,227.12 L428.4,227.43 L429.4,227.74 L430.4,228.05 L431.4,228.36 L432.4,228.66 L433.4,228.97 L434.4,229.27 L435.4,229.58 L436.4,229.87 L437.4,230.17 L438.4,230.46 L439.4,230.75 L440.4,231.04 L441.4,231.32 L442.4,231.60 L443.4,231.88 L444.4,232.15 L445.4,232.41 L446.4,232.67 L447.4,232.92 L448.4,233.17 L449.4,233.42 L450.4,233.65 L451.4,233.88 L452.4,234.11 L453.4,234.33 L454.4,234.54 L455.4,234.74 L456.4,234.93 L457.4,235.12 L458.4,235.30 L459.4,235.47 L460.4,235.63 L461.4,235.79 L462.4,235.93 L463.4,236.07 L464.4,236.20 L465.4,236.33 L466.4,236.44 L467.4,236.55 L468.4,236.66 L469.4,236.76 L470.4,236.85 L471.4,236.94 L472.4,237.03 L473.4,237.11 L474.4,237.19 L475.4,237.26 L476.4,237.33 L477.4,237.40 L478.4,237.47 L479.4,237.53 L480.4,237.60 L481.4,237.66 L482.4,237.72 L483.4,237.78 L484.4,237.84 L485.4,237.90 L486.4,237.96 L487.4,238.03 L488.4,238.09 L489.4,238.16 L490.4,238.22 L491.4,238.29 L492.4,238.37 L493.4,238.44 L494.4,238.52 L495.4,238.60 L496.4,238.69 L497.4,238.78 L498.4,238.88 L499.4,238.98 L500.4,239.09 L501.4,239.21 L502.4,239.33 L503.4,239.45 L504.4,239.59 L505.4,239.73 L506.4,239.88 L507.4,240.04 L508.4,240.20 L509.4,240.38 L510.4,240.56 L511.4,240.76 L512.4,240.96 L513.4,241.18 L514.4,241.40 L515.4,241.64 L516.4,241.89 L517.4,242.15 L518.4,242.42 L519.4,242.70 L520.4,243.00 L521.4,243.31 L522.4,243.63 L523.4,243.97 L524.4,244.32 L525.4,244.69 L526.4,245.07 L527.4,245.47 L528.4,245.88 L529.4,246.31 L530.4,246.76 L531.4,247.22 L532.4,247.70 L533.4,248.19 L534.4,248.70 L535.4,249.23 L536.4,249.77 L537.4,250.33 L538.4,250.90 L539.4,251.49 L540.4,252.09 L541.4,252.71 L542.4,253.34 L543.4,253.99 L544.4,254.65 L545.4,255.32 L546.4,256.01 L547.4,256.71 L548.4,257.42 L549.4,258.14 L550.4,258.87 L551.4,259.61 L552.4,260.35 L553.4,261.11 L554.4,261.87 L555.4,262.63 L556.4,263.40 L557.4,264.18 L558.4,264.95 L559.4,265.73 L560.4,266.52 L561.4,267.30 L562.4,268.08 L563.4,268.87 L564.4,269.65 L565.4,270.43 L566.4,271.21 L567.4,271.98 L568.4,272.75 L569.4,273.51 L570.4,274.27 L571.4,275.02 L572.4,275.76 L573.4,276.50 L574.4,277.22 L575.4,277.94 L576.4,278.65 L577.4,279.34 L578.4,280.02 L579.4,280.69 L580.4,281.35 L581.4,281.99 L582.4,282.61 L583.4,283.22 L584.4,283.82 L585.4,284.39 L586.4,284.95 L587.4,285.48 L588.4,286.00 L589.4,286.50 L590.4,286.97 L591.4,287.43 L592.4,287.86 L593.4,288.26 L594.4,288.65 L595.4,289.00 L596.4,289.33 L597.4,289.64 L598.4,289.91 L599.4,290.16 L600.4,290.38 L601.4,290.57 L602.4,290.72 L603.4,290.85 L604.4,290.96 L605.4,291.03 L606.4,291.08 L607.4,291.10 L608.4,291.10 L609.4,291.08 L610.4,291.04 L611.4,290.97 L612.4,290.88 L613.4,290.78 L614.4,290.65 L615.4,290.51 L616.4,290.35 L617.4,290.18 L618.4,289.99 L619.4,289.79 L620.4,289.57 L621.4,289.35 L622.4,289.11 L623.4,288.86 L624.4,288.61 L625.4,288.34 L626.4,288.07 L627.4,287.79 L628.4,287.51 L629.4,287.23 L630.4,286.94 L631.4,286.64 L632.4,286.35 L633.4,286.06 L634.4,285.77 L635.4,285.48 L636.4,285.19 L637.4,284.90 L638.4,284.62 L639.4,284.35 L640.4,284.08 L641.4,283.82 L642.4,283.56 L643.4,283.32 L644.4,283.08 L645.4,282.86 L646.4,282.65 L647.4,282.45 L648.4,282.27 L649.4,282.10 L650.4,281.94 L651.4,281.81 L652.4,281.69 L653.4,281.59 L654.4,281.50 L655.4,281.44 L656.4,281.40 L657.4,281.37 L658.4,281.36 L659.4,281.37 L660.4,281.39 L661.4,281.43 L662.4,281.48 L663.4,281.55 L664.4,281.64 L665.4,281.74 L666.4,281.85 L667.4,281.98 L668.4,282.12 L669.4,282.27 L670.4,282.43 L671.4,282.61 L672.4,282.80 L673.4,282.99 L674.4,283.20 L675.4,283.42 L676.4,283.65 L677.4,283.88 L678.4,284.13 L679.4,284.38 L680.4,284.64 L681.4,284.91 L682.4,285.19 L683.4,285.47 L684.4,285.76 L685.4,286.05 L686.4,286.35 L687.4,286.65 L688.4,286.96 L689.4,287.27 L690.4,287.59 L691.4,287.90 L692.4,288.22 L693.4,288.53 L694.4,288.84 L695.4,289.14 L696.4,289.42 L697.4,289.70 L698.4,289.95 L699.4,290.19 L700.4,290.40 L701.4,290.59 L702.4,290.75 L703.4,290.87 L704.4,290.97 L705.4,291.03 L706.4,291.05 L707.4,291.03 L708.4,290.96 L709.4,290.85 L710.4,290.68 L711.4,290.47 L712.4,290.20 L713.4,289.88 L714.4,289.50 L715.4,289.07 L716.4,288.58 L717.4,288.03 L718.4,287.42 L719.4,286.75 L720.4,286.01 L721.4,285.21 L722.4,284.35 L723.4,283.42 L724.4,282.41 L725.4,281.34 L726.4,280.20 L727.4,278.99 L728.4,277.70 L729.4,276.34 L730.4,274.91 L731.4,273.39 L732.4,271.80 L733.4,270.12 L734.4,268.37 L735.4,266.56 L736.4,264.68 L737.4,262.75 L738.4,260.76 L739.4,258.74 L740.4,256.69 L741.4,254.61 L742.4,252.51 L743.4,250.39 L744.4,248.27 L745.4,246.16 L746.4,244.05 L747.4,241.96 L748.4,239.89 L749.4,237.85 L750.4,235.84 L751.4,233.88 L752.4,231.98 L753.4,230.12 L754.4,228.32 L755.4,226.58 L756.4,224.90 L757.4,223.26 L758.4,221.69 L759.4,220.16 L760.4,218.69 L761.4,217.28 L762.4,215.91 L763.4,214.60 L764.4,213.34 L765.4,212.14 L766.4,210.98 L767.4,209.87 L768.4,208.80 L769.4,207.79 L770.4,206.81 L771.4,205.88 L772.4,204.98 L773.4,204.13 L774.4,203.31 L775.4,202.52 L776.4,201.77 L777.4,201.05 L778.4,200.37 L779.4,199.71 L780.4,199.08 L781.4,198.47 L782.4,197.89 L783.4,197.33 L784.4,196.79 L785.4,196.27 L786.4,195.77 L787.4,195.29 L788.4,194.82 L789.4,194.36 L790.4,193.91 L791.4,193.48 L792.4,193.05 L793.4,192.63 L794.4,192.22 L795.4,191.81 L796.4,191.40 L797.4,191.01 L798.4,190.62 L799.4,190.24 L800.4,189.86 L801.4,189.49 L802.4,189.13 L803.4,188.78 L804.4,188.43 L805.4,188.09 L806.4,187.76 L807.4,187.44 L808.4,187.13 L809.4,186.83 L810.4,186.53 L811.4,186.25 L812.4,185.98 L813.4,185.71 L814.4,185.45 L815.4,185.21 L816.4,184.97 L817.4,184.75 L818.4,184.54 L819.4,184.33 L820.4,184.14 L821.4,183.96 L822.4,183.79 L823.4,183.64 L824.4,183.49 L825.4,183.36 L826.4,183.24 L827.4,183.13 L828.4,183.04 L829.4,182.95 L830.4,182.89 L831.4,182.83 L832.4,182.79 L833.4,182.76 L834.4,182.75 L835.4,182.75 L836.4,182.76 L837.4,182.79 L838.4,182.84 L839.4,182.90 L840.4,182.97 L841.4,183.06 L842.4,183.17 L843.4,183.29 L844.4,183.43 L845.4,183.59 L846.4,183.76 L847.4,183.95 L848.4,184.15 L849.4,184.37 L850.4,184.61 L851.4,184.87 L852.4,185.14 L853.4,185.44 L854.4,185.75 L855.4,186.08 L856.4,186.42 L857.4,186.79 L858.4,187.18 L859.4,187.58 L860.4,188.01 L861.4,188.45 L862.4,188.91 L863.4,189.40 L864.4,189.90 L865.4,190.42 L866.4,190.97 L867.4,191.54 L868.4,192.12 L869.4,192.73 L870.4,193.36 L871.4,194.01 L872.4,194.68 L873.4,195.38 L874.4,196.09 L875.4,196.83 L876.4,197.58 L877.4,198.36 L878.4,199.15 L879.4,199.97 L880.4,200.81 L881.4,201.66 L882.4,202.54 L883.4,203.43 L884.4,204.35 L885.4,205.28 L886.4,206.24 L887.4,207.21 L888.4,208.20 L889.4,209.21 L890.4,210.24 L891.4,211.28 L892.4,212.35 L893.4,213.43 L894.4,214.53 L895.4,215.65 L896.4,216.78 L897.4,217.93 L898.4,219.10 L899.4,220.29 L900.4,221.49 L901.4,222.72 L902.4,223.95 L903.4,225.21 L904.4,226.48 L905.4,227.76 L906.4,229.07 L907.4,230.38 L908.4,231.71 L909.4,233.04 L910.4,234.38 L911.4,235.71 L912.4,237.04 L913.4,238.36 L914.4,239.67 L915.4,240.96 L916.4,242.23 L917.4,243.48 L918.4,244.70 L919.4,245.89 L920.4,247.05 L921.4,248.16 L922.4,249.23 L923.4,250.26 L924.4,251.23 L925.4,252.15 L926.4,253.01 L927.4,253.82 L928.4,254.56 L929.4,255.25 L930.4,255.88 L931.4,256.45 L932.4,256.96 L933.4,257.41 L934.4,257.80 L935.4,258.13 L936.4,258.40 L937.4,258.61 L938.4,258.76 L939.4,258.85 L940.4,258.87 L941.4,258.84 L942.4,258.74 L943.4,258.58 L944.4,258.37 L945.4,258.09 L946.4,257.76 L947.4,257.39 L948.4,256.96 L949.4,256.50 L950.4,255.99 L951.4,255.44 L952.4,254.85 L953.4,254.24 L954.4,253.59 L955.4,252.91 L956.4,252.22 L957.4,251.50 L958.4,250.76 L959.4,250.00 L960.4,249.24 L961.4,248.46 L962.4,247.68 L963.4,246.89 L964.4,246.10 L965.4,245.31 L966.4,244.53 L967.4,243.75 L968.4,242.99 L969.4,242.24 L970.4,241.50 L971.4,240.78 L972.4,240.09 L973.4,239.42 L974.4,238.77 L975.4,238.16 L976.4,237.58 L977.4,237.04 L978.4,236.53 L979.4,236.07 L980.4,235.65 L981.4,235.28 L982.4,234.96 L983.4,234.70 L984.4,234.49 L985.4,234.34 L986.4,234.25 L987.4,234.22 L988.4,234.27 L989.4,234.38 L990.4,234.56 L991.4,234.81 L992.4,235.13 L993.4,235.50 L994.4,235.93 L995.4,236.42 L996.4,236.96 L997.4,237.55 L998.4,238.18 L999.4,238.85 L1000.4,239.57 L1001.4,240.32 L1002.4,241.11 L1003.4,241.93 L1004.4,242.77 L1005.4,243.65 L1006.4,244.54 L1007.4,245.45 L1008.4,246.38 L1009.4,247.32 L1010.4,248.28 L1011.4,249.25 L1012.4,250.22 L1013.4,251.22 L1014.4,252.22 L1015.4,253.24 L1016.4,254.26 L1017.4,255.31 L1018.4,256.36 L1019.4,257.43 L1020.4,258.51 L1021.4,259.61 L1022.4,260.71 L1023.4,261.84 L1024.4,262.97 L1025.4,264.13 L1026.4,265.29 L1027.4,266.47 L1028.4,267.67 L1029.4,268.88 L1030.4,270.10 L1031.4,271.34 L1032.4,272.60 L1033.4,273.87 L1034.4,275.16 L1035.4,276.46 L1036.4,277.78 L1037.4,279.11 L1038.4,280.45 L1039.4,281.78 L1040.4,283.11 L1041.4,284.43 L1042.4,285.73 L1043.4,287.01 L1044.4,288.26 L1045.4,289.47 L1046.4,290.65 L1047.4,291.77 L1048.4,292.85 L1049.4,293.86 L1050.4,294.82 L1051.4,295.70 L1052.4,296.51 L1053.4,297.25 L1054.4,297.94 L1055.4,298.57 L1056.4,299.16 L1057.4,299.70 L1058.4,300.20 L1059.4,300.68 L1060.4,301.13 L1061.4,301.57 L1062.4,302.00 L1063.4,302.41 L1064.4,302.83 L1065.4,303.26 L1066.4,303.70 L1067.4,304.16 L1068.4,304.63 L1069.4,305.12 L1070.4,305.61 L1071.4,306.10 L1072.4,306.59 L1073.4,307.06 L1074.4,307.52 L1075.4,307.96 L1076.4,308.36 L1077.4,308.74 L1078.4,309.07 L1079.4,309.36 L1080.4,309.60 L1081.4,309.79 L1082.4,309.91 L1083.4,309.96 L1084.4,309.95 L1085.4,309.85 L1086.4,309.67 L1087.4,309.40 L1088.4,309.04 L1089.4,308.57 L1090.4,308.00 L1091.4,307.32 L1092.4,306.54 L1093.4,305.67 L1094.4,304.70 L1095.4,303.66 L1096.4,302.54 L1097.4,301.35 L1098.4,300.09 L1099.4,298.78 L1100.4,297.42 L1101.4,296.01 L1102.4,294.56 L1103.4,293.08 L1104.4,291.58 L1105.4,290.05 L1106.4,288.51 L1107.4,286.96 L1108.4,285.40 L1109.4,283.84 L1110.4,282.27 L1111.4,280.71 L1112.4,279.15 L1113.4,277.59 L1114.4,276.04 L1115.4,274.51 L1116.4,272.98 L1117.4,271.48 L1118.4,270.00 L1119.4,268.53 L1120.4,267.10 L1121.4,265.69 L1122.4,264.31 L1123.4,262.97 L1124.4,261.66 L1125.4,260.40 L1126.4,259.17 L1127.4,257.99 L1128.4,256.86 L1129.4,255.78 L1130.4,254.75 L1131.4,253.78 L1132.4,252.87 L1133.4,252.02 L1134.4,251.23 L1135.4,250.52 L1136.4,249.87 L1137.4,249.29 L1138.4,248.79 L1139.4,248.37 L1140.4,248.03 L1141.4,247.77 L1142.4,247.60 L1143.4,247.51 L1144.4,247.49 L1145.4,247.55 L1146.4,247.66 L1147.4,247.83 L1148.4,248.05 L1149.4,248.32 L1150.4,248.62 L1151.4,248.96 L1152.4,249.33 L1153.4,249.72 L1154.4,250.12 L1155.4,250.53 L1156.4,250.95 L1157.4,251.36 L1158.4,251.77 L1159.4,252.16 L1160.4,252.53 L1161.4,252.88 L1162.4,253.19 L1163.4,253.47 L1164.4,253.71 L1165.4,253.89 L1166.4,254.02 L1167.4,254.09 L1168.4,254.10 L1169.4,254.04 L1170.4,253.91 L1171.4,253.73 L1172.4,253.50 L1173.4,253.22 L1174.4,252.90 L1175.4,252.54 L1176.4,252.14 L1177.4,251.71 L1178.4,251.26 L1179.4,250.78 L1180.4,250.28 L1181.4,249.78 L1182.4,249.26 L1183.4,248.74 L1184.4,248.22 L1185.4,247.70 L1186.4,247.19 L1187.4,246.70 L1188.4,246.22 L1189.4,245.76 L1190.4,245.33 L1191.4,244.93 L1192.4,244.56 L1193.4,244.23 L1194.4,243.95 L1195.4,243.71 L1196.4,243.53 L1197.4,243.40 L1198.4,243.33 L1199.4,243.32 L1200.4,243.39 L1201.4,243.51 L1202.4,243.70 L1203.4,243.94 L1204.4,244.24 L1205.4,244.60 L1206.4,245.01 L1207.4,245.47 L1208.4,245.98 L1209.4,246.53 L1210.4,247.14 L1211.4,247.78 L1212.4,248.47 L1213.4,249.20 L1214.4,249.96 L1215.4,250.76 L1216.4,251.60 L1217.4,252.46 L1218.4,253.36 L1219.4,254.28 L1220.4,255.23 L1221.4,256.20 L1222.4,257.20 L1223.4,258.21 L1224.4,259.24 L1225.4,260.29 L1226.4,261.35 L1227.4,262.43 L1228.4,263.52 L1229.4,264.61 L1230.4,265.71 L1231.4,266.81 L1232.4,267.92 L1233.4,269.03 L1234.4,270.13 L1235.4,271.23 L1236.4,272.33 L1237.4,273.42 L1238.4,274.50 L1239.4,275.57 L1240.4,276.62 L1241.4,277.66 L1242.4,278.69 L1243.4,279.69 L1244.4,280.67 L1245.4,281.63 L1246.4,282.57 L1247.4,283.48 L1248.4,284.35 L1249.4,285.20 L1250.4,286.02 L1251.4,286.80 L1252.4,287.54 L1253.4,288.25 L1254.4,288.91 L1255.4,289.54 L1256.4,290.11 L1257.4,290.65 L1258.4,291.13 L1259.4,291.56 L1260.4,291.94 L1261.4,292.27 L1262.4,292.54 L1263.4,292.75 L1264.4,292.90 L1265.4,292.99 L1266.4,293.02 L1267.4,292.98 L1268.4,292.87 L1269.4,292.70 L1270.4,292.46 L1271.4,292.17 L1272.4,291.83 L1273.4,291.44 L1274.4,291.01 L1275.4,290.55 L1276.4,290.05 L1277.4,289.53 L1278.4,288.98 L1279.4,288.42 L1280.4,287.84 L1281.4,287.26 L1282.4,286.67 L1283.4,286.09 L1284.4,285.51 L1285.4,284.95 L1286.4,284.40 L1287.4,283.88 L1288.4,283.38 L1289.4,282.91 L1290.4,282.49 L1291.4,282.10 L1292.4,281.75 L1293.4,281.46 L1294.4,281.23 L1295.4,281.06 L1296.4,280.95 L1297.4,280.91 L1298.4,280.94 L1299.4,281.03 L1300.4,281.19 L1301.4,281.40 L1302.4,281.67 L1303.4,281.99 L1304.4,282.37 L1305.4,282.78 L1306.4,283.24 L1307.4,283.74 L1308.4,284.27 L1309.4,284.84 L1310.4,285.43 L1311.4,286.05 L1312.4,286.70 L1313.4,287.36 L1314.4,288.04 L1315.4,288.74 L1316.4,289.44 L1317.4,290.15 L1318.4,290.87 L1319.4,291.58 L1320.4,292.29 L1321.4,293.00 L1322.4,293.70 L1323.4,294.40 L1324.4,295.08 L1325.4,295.76 L1326.4,296.43 L1327.4,297.09 L1328.4,297.74 L1329.4,298.38 L1330.4,299.01 L1331.4,299.62 L1332.4,300.22 L1333.4,300.81 L1334.4,301.38 L1335.4,301.94 L1336.4,302.48 L1337.4,303.01 L1338.4,303.51 L1339.4,304.00 L1340.4,304.47 L1341.4,304.92 L1342.4,305.34 L1343.4,305.75 L1344.4,306.14 L1345.4,306.50 L1346.4,306.84 L1347.4,307.15 L1348.4,307.44 L1349.4,307.70 L1350.4,307.94 L1351.4,308.15 L1352.4,308.33 L1353.4,308.48 L1354.4,308.60 L1355.4,308.70 L1356.4,308.76 L1357.4,308.79 L1358.4,308.79 L1359.4,308.75 L1360.4,308.68 L1361.4,308.58 L1362.4,308.44 L1363.4,308.26 L1364.4,308.05 L1365.4,307.80 L1366.4,307.51 L1367.4,307.18 L1368.4,306.82 L1369.4,306.41 L1370.4,305.96 L1371.4,305.47 L1372.4,304.93 L1373.4,304.36 L1374.4,303.74 L1375.4,303.07 L1376.4,302.36 L1377.4,301.61 L1378.4,300.83 L1379.4,300.03 L1380.4,299.20 L1381.4,298.36 L1382.4,297.51 L1383.4,296.65 L1384.4,295.79 L1385.4,294.94 L1386.4,294.11 L1387.4,293.29 L1388.4,292.49 L1389.4,291.72 L1390.4,290.99 L1391.4,290.29 L1392.4,289.64 L1393.4,289.04 L1394.4,288.50 L1395.4,288.02 L1396.4,287.61 L1397.4,287.27 L1398.4,287.00 L1399.4,286.83 L1400.4,286.74 L1401.4,286.74 L1402.4,286.83 L1403.4,287.01 L1404.4,287.28 L1405.4,287.63 L1406.4,288.05 L1407.4,288.55 L1408.4,289.12 L1409.4,289.75 L1410.4,290.46 L1411.4,291.22 L1412.4,292.04 L1413.4,292.91 L1414.4,293.84 L1415.4,294.81 L1416.4,295.83 L1417.4,296.89 L1418.4,297.99 L1419.4,299.12 L1420.4,300.28 L1421.4,301.47 L1422.4,302.69 L1423.4,303.93 L1424.4,305.18 L1425.4,306.46 L1426.4,307.74 L1427.4,309.03 L1428.4,310.33 L1429.4,311.62 L1430.4,312.92 L1431.4,314.21 L1432.4,315.50 L1433.4,316.77 L1434.4,318.03 L1435.4,319.27 L1436.4,320.49 L1437.4,321.68 L1438.4,322.85 L1439.4,323.99 L1440.4,325.09 L1441.4,326.15 L1442.4,327.17 L1443.4,328.14 L1444.4,329.06 L1445.4,329.94 L1446.4,330.75 L1447.4,331.50 L1448.4,332.19 L1449.4,332.82 L1450.4,333.37 L1451.4,333.85 L1452.4,334.26 L1453.4,334.62 L1454.4,334.94 L1455.4,335.20 L1456.4,335.43 L1457.4,335.64 L1458.4,335.82 L1459.4,335.98 L1460.4,336.14 L1461.4,336.30 L1462.4,336.46 L1463.4,336.64 L1464.4,336.83 L1465.4,337.06 L1466.4,337.31 L1467.4,337.61 L1468.4,337.95 L1469.4,338.35 L1470.4,338.81 L1471.4,339.34 L1472.4,339.94 L1473.4,340.63 L1474.4,341.41 L1475.4,342.28 L1476.4,343.25 L1477.4,344.34 L1478.4,345.54 L1479.4,346.87 L1480.4,348.32 L1481.4,349.88 L1482.4,351.56 L1483.4,353.35 L1484.4,355.25 L1485.4,357.25 L1486.4,359.34 L1487.4,361.53 L1488.4,363.80 L1489.4,366.17 L1490.4,368.61 L1491.4,371.13 L1492.4,373.72 L1493.4,376.38 L1494.4,379.11 L1495.4,381.89 L1496.4,384.74 L1497.4,387.63 L1498.4,390.57 L1499.4,393.56 L1500.4,396.58 L1501.4,399.64 L1502.4,402.73 L1503.4,405.85 L1504.4,408.99 L1505.4,412.15 L1506.4,415.33 L1507.4,418.52 L1508.4,421.71 L1509.4,424.92 L1510.4,428.16 L1511.4,431.42 L1512.4,434.72 L1513.4,438.07 L1514.4,441.46 L1515.4,444.91 L1516.4,448.43 L1517.4,452.02 L1518.4,455.68 L1519.4,459.44 L1520.4,463.28 L1521.4,467.22 L1522.4,471.27 L1523.4,475.43 L1524.4,479.70 L1525.4,484.09 L1526.4,488.57 L1527.4,493.15 L1528.4,497.83 L1529.4,502.60 L1530.4,507.45 L1531.4,512.39 L1532.4,517.40 L1533.4,522.49 L1534.4,527.64 L1535.4,532.86 L1536.4,538.12 L1537.4,543.41 L1538.4,548.70 L1539.4,553.99 L1540.4,559.26 L1541.4,564.47 L1542.4,569.62 L1543.4,574.68 L1544.4,579.63 L1545.4,584.45 L1546.4,589.11 L1547.4,593.60 L1548.4,597.89 L1549.4,601.97 L1550.4,605.81 L1551.4,609.40 L1552.4,612.76 L1553.4,615.89 L1554.4,618.80 L1555.4,621.50 L1556.4,623.98 L1557.4,626.26 L1558.4,628.35 L1559.4,630.24 L1560.4,631.95 L1561.4,633.48 L1562.4,634.84 L1563.4,636.04 L1564.4,637.07 L1565.4,637.96 L1566.4,638.69 L1567.4,639.29 L1568.4,639.76 L1569.4,640.09 L1570.4,640.31 L1571.4,640.41 L1572.4,640.42 L1573.4,640.36 L1574.4,640.26 L1575.4,640.13 L1576.4,639.99 L1577.4,639.88 L1578.4,639.81 L1579.4,639.81 L1580.0,639.85" stroke="#f8c8c8"/>
<path d="M113.4,176.92 L114.4,177.00 L115.4,177.09 L116.4,177.19 L117.4,177.31 L118.4,177.43 L119.4,177.57 L120.4,177.72 L121.4,177.87 L122.4,178.04 L123.4,178.22 L124.4,178.40 L125.4,178.60 L126.4,178.81 L127.4,179.02 L128.4,179.25 L129.4,179.48 L130.4,179.72 L131.4,179.97 L132.4,180.24 L133.4,180.51 L134.4,180.78 L135.4,181.07 L136.4,181.37 L137.4,181.67 L138.4,181.98 L139.4,182.30 L140.4,182.63 L141.4,182.97 L142.4,183.31 L143.4,183.66 L144.4,184.02 L145.4,184.39 L146.4,184.76 L147.4,185.14 L148.4,185.53 L149.4,185.92 L150.4,186.32 L151.4,186.73 L152.4,187.15 L153.4,187.57 L154.4,187.99 L155.4,188.43 L156.4,188.87 L157.4,189.31 L158.4,189.76 L159.4,190.22 L160.4,190.68 L161.4,191.15 L162.4,191.62 L163.4,192.10 L164.4,192.58 L165.4,193.07 L166.4,193.56 L167.4,194.06 L168.4,194.56 L169.4,195.07 L170.4,195.58 L171.4,196.09 L172.4,196.61 L173.4,197.13 L174.4,197.66 L175.4,198.19 L176.4,198.72 L177.4,199.26 L178.4,199.80 L179.4,200.35 L180.4,200.90 L181.4,201.45 L182.4,202.00 L183.4,202.55 L184.4,203.11 L185.4,203.67 L186.4,204.24 L187.4,204.80 L188.4,205.37 L189.4,205.94 L190.4,206.51 L191.4,207.09 L192.4,207.66 L193.4,208.24 L194.4,208.82 L195.4,209.40 L196.4,209.98 L197.4,210.56 L198.4,211.14 L199.4,211.73 L200.4,212.31 L201.4,212.90 L202.4,213.48 L203.4,214.07 L204.4,214.66 L205.4,215.24 L206.4,215.83 L207.4,216.41 L208.4,217.00 L209.4,217.59 L210.4,218.17 L211.4,218.76 L212.4,219.34 L213.4,219.92 L214.4,220.50 L215.4,221.08 L216.4,221.66 L217.4,222.24 L218.4,222.81 L219.4,223.39 L220.4,223.96 L221.4,224.53 L222.4,225.09 L223.4,225.65 L224.4,226.21 L225.4,226.77 L226.4,227.32 L227.4,227.87 L228.4,228.42 L229.4,228.96 L230.4,229.50 L231.4,230.03 L232.4,230.56 L233.4,231.08 L234.4,231.60 L235.4,232.11 L236.4,232.62 L237.4,233.12 L238.4,233.62 L239.4,234.11 L240.4,234.59 L241.4,235.07 L242.4,235.54 L243.4,236.00 L244.4,236.46 L245.4,236.91 L246.4,237.35 L247.4,237.79 L248.4,238.22 L249.4,238.64 L250.4,239.05 L251.4,239.45 L252.4,239.85 L253.4,240.23 L254.4,240.61 L255.4,240.98 L256.4,241.34 L257.4,241.69 L258.4,242.03 L259.4,242.36 L260.4,242.68 L261.4,242.99 L262.4,243.29 L263.4,243.58 L264.4,243.85 L265.4,244.12 L266.4,244.38 L267.4,244.62 L268.4,244.85 L269.4,245.08 L270.4,245.29 L271.4,245.48 L272.4,245.67 L273.4,245.84 L274.4,246.00 L275.4,246.15 L276.4,246.28 L277.4,246.40 L278.4,246.52 L279.4,246.62 L280.4,246.70 L281.4,246.78 L282.4,246.85 L283.4,246.90 L284.4,246.94 L285.4,246.98 L286.4,247.00 L287.4,247.01 L288.4,247.01 L289.4,247.00 L290.4,246.99 L291.4,246.96 L292.4,246.92 L293.4,246.87 L294.4,246.82 L295.4,246.75 L296.4,246.67 L297.4,246.59 L298.4,246.50 L299.4,246.40 L300.4,246.29 L301.4,246.17 L302.4,246.04 L303.4,245.91 L304.4,245.77 L305.4,245.62 L306.4,245.46 L307.4,245.30 L308.4,245.13 L309.4,244.95 L310.4,244.76 L311.4,244.57 L312.4,244.37 L313.4,244.17 L314.4,243.95 L315.4,243.74 L316.4,243.51 L317.4,243.29 L318.4,243.05 L319.4,242.81 L320.4,242.57 L321.4,242.31 L322.4,242.06 L323.4,241.80 L324.4,241.54 L325.4,241.27 L326.4,241.01 L327.4,240.74 L328.4,240.46 L329.4,240.19 L330.4,239.92 L331.4,239.65 L332.4,239.37 L333.4,239.10 L334.4,238.83 L335.4,238.56 L336.4,238.30 L337.4,238.03 L338.4,237.78 L339.4,237.52 L340.4,237.27 L341.4,237.02 L342.4,236.78 L343.4,236.55 L344.4,236.32 L345.4,236.10 L346.4,235.89 L347.4,235.68 L348.4,235.48 L349.4,235.29 L350.4,235.11 L351.4,234.94 L352.4,234.77 L353.4,234.62 L354.4,234.47 L355.4,234.33 L356.4,234.20 L357.4,234.07 L358.4,233.96 L359.4,233.85 L360.4,233.75 L361.4,233.66 L362.4,233.58 L363.4,233.51 L364.4,233.44 L365.4,233.39 L366.4,233.34 L367.4,233.30 L368.4,233.28 L369.4,233.26 L370.4,233.24 L371.4,233.24 L372.4,233.25 L373.4,233.27 L374.4,233.29 L375.4,233.32 L376.4,233.37 L377.4,233.42 L378.4,233.48 L379.4,233.55 L380.4,233.63 L381.4,233.72 L382.4,233.82 L383.4,233.93 L384.4,234.05 L385.4,234.18 L386.4,234.31 L387.4,234.46 L388.4,234.62 L389.4,234.78 L390.4,234.96 L391.4,235.14 L392.4,235.34 L393.4,235.54 L394.4,235.76 L395.4,235.98 L396.4,236.22 L397.4,236.46 L398.4,236.72 L399.4,236.98 L400.4,237.26 L401.4,237.54 L402.4,237.84 L403.4,238.15 L404.4,238.46 L405.4,238.79 L406.4,239.13 L407.4,239.47 L408.4,239.83 L409.4,240.20 L410.4,240.58 L411.4,240.96 L412.4,241.36 L413.4,241.76 L414.4,242.18 L415.4,242.60 L416.4,243.02 L417.4,243.46 L418.4,243.90 L419.4,244.35 L420.4,244.80 L421.4,245.26 L422.4,245.73 L423.4,246.19 L424.4,246.67 L425.4,247.14 L426.4,247.62 L427.4,248.11 L428.4,248.59 L429.4,249.08 L430.4,249.57 L431.4,250.06 L432.4,250.55 L433.4,251.05 L434.4,251.54 L435.4,252.03 L436.4,252.53 L437.4,253.02 L438.4,253.51 L439.4,254.00 L440.4,254.48 L441.4,254.97 L442.4,255.45 L443.4,255.93 L444.4,256.40 L445.4,256.87 L446.4,257.34 L447.4,257.80 L448.4,258.25 L449.4,258.70 L450.4,259.15 L451.4,259.58 L452.4,260.01 L453.4,260.44 L454.4,260.85 L455.4,261.26 L456.4,261.66 L457.4,262.05 L458.4,262.43 L459.4,262.80 L460.4,263.16 L461.4,263.51 L462.4,263.85 L463.4,264.18 L464.4,264.50 L465.4,264.81 L466.4,265.10 L467.4,265.38 L468.4,265.65 L469.4,265.90 L470.4,266.14 L471.4,266.36 L472.4,266.57 L473.4,266.77 L474.4,266.95 L475.4,267.11 L476.4,267.26 L477.4,267.39 L478.4,267.50 L479.4,267.60 L480.4,267.68 L481.4,267.74 L482.4,267.78 L483.4,267.81 L484.4,267.82 L485.4,267.83 L486.4,267.82 L487.4,267.80 L488.4,267.77 L489.4,267.73 L490.4,267.69 L491.4,267.64 L492.4,267.59 L493.4,267.53 L494.4,267.47 L495.4,267.41 L496.4,267.35 L497.4,267.30 L498.4,267.25 L499.4,267.20 L500.4,267.16 L501.4,267.12 L502.4,267.09 L503.4,267.07 L504.4,267.06 L505.4,267.07 L506.4,267.08 L507.4,267.11 L508.4,267.15 L509.4,267.21 L510.4,267.28 L511.4,267.36 L512.4,267.45 L513.4,267.56 L514.4,267.68 L515.4,267.82 L516.4,267.97 L517.4,268.14 L518.4,268.32 L519.4,268.52 L520.4,268.74 L521.4,268.97 L522.4,269.21 L523.4,269.47 L524.4,269.75 L525.4,270.05 L526.4,270.36 L527.4,270.69 L528.4,271.04 L529.4,271.40 L530.4,271.79 L531.4,272.19 L532.4,272.61 L533.4,273.05 L534.4,273.50 L535.4,273.98 L536.4,274.48 L537.4,274.99 L538.4,275.53 L539.4,276.09 L540.4,276.66 L541.4,277.26 L542.4,277.88 L543.4,278.52 L544.4,279.18 L545.4,279.86 L546.4,280.56 L547.4,281.28 L548.4,282.01 L549.4,282.77 L550.4,283.53 L551.4,284.31 L552.4,285.11 L553.4,285.91 L554.4,286.73 L555.4,287.56 L556.4,288.39 L557.4,289.24 L558.4,290.09 L559.4,290.94 L560.4,291.80 L561.4,292.66 L562.4,293.53 L563.4,294.40 L564.4,295.26 L565.4,296.13 L566.4,296.99 L567.4,297.86 L568.4,298.71 L569.4,299.57 L570.4,300.41 L571.4,301.25 L572.4,302.08 L573.4,302.91 L574.4,303.72 L575.4,304.52 L576.4,305.31 L577.4,306.08 L578.4,306.84 L579.4,307.58 L580.4,308.31 L581.4,309.02 L582.4,309.71 L583.4,310.38 L584.4,311.03 L585.4,311.66 L586.4,312.27 L587.4,312.85 L588.4,313.40 L589.4,313.93 L590.4,314.44 L591.4,314.91 L592.4,315.35 L593.4,315.77 L594.4,316.15 L595.4,316.50 L596.4,316.82 L597.4,317.10 L598.4,317.34 L599.4,317.55 L600.4,317.72 L601.4,317.86 L602.4,317.96 L603.4,318.03 L604.4,318.06 L605.4,318.07 L606.4,318.04 L607.4,317.99 L608.4,317.90 L609.4,317.79 L610.4,317.66 L611.4,317.50 L612.4,317.32 L613.4,317.12 L614.4,316.89 L615.4,316.65 L616.4,316.39 L617.4,316.11 L618.4,315.82 L619.4,315.51 L620.4,315.19 L621.4,314.86 L622.4,314.52 L623.4,314.16 L624.4,313.80 L625.4,313.43 L626.4,313.06 L627.4,312.68 L628.4,312.30 L629.4,311.91 L630.4,311.52 L631.4,311.14 L632.4,310.75 L633.4,310.37 L634.4,309.99 L635.4,309.61 L636.4,309.24 L637.4,308.88 L638.4,308.52 L639.4,308.18 L640.4,307.85 L641.4,307.52 L642.4,307.22 L643.4,306.92 L644.4,306.64 L645.4,306.38 L646.4,306.14 L647.4,305.91 L648.4,305.71 L649.4,305.52 L650.4,305.36 L651.4,305.23 L652.4,305.12 L653.4,305.03 L654.4,304.96 L655.4,304.92 L656.4,304.90 L657.4,304.91 L658.4,304.93 L659.4,304.98 L660.4,305.04 L661.4,305.12 L662.4,305.22 L663.4,305.34 L664.4,305.48 L665.4,305.63 L666.4,305.80 L667.4,305.98 L668.4,306.18 L669.4,306.39 L670.4,306.62 L671.4,306.85 L672.4,307.10 L673.4,307.36 L674.4,307.63 L675.4,307.91 L676.4,308.20 L677.4,308.50 L678.4,308.80 L679.4,309.12 L680.4,309.44 L681.4,309.76 L682.4,310.09 L683.4,310.43 L684.4,310.76 L685.4,311.11 L686.4,311.45 L687.4,311.80 L688.4,312.14 L689.4,312.49 L690.4,312.84 L691.4,313.18 L692.4,313.53 L693.4,313.86 L694.4,314.19 L695.4,314.51 L696.4,314.81 L697.4,315.10 L698.4,315.36 L699.4,315.61 L700.4,315.84 L701.4,316.04 L702.4,316.21 L703.4,316.35 L704.4,316.46 L705.4,316.53 L706.4,316.56 L707.4,316.56 L708.4,316.51 L709.4,316.42 L710.4,316.28 L711.4,316.09 L712.4,315.85 L713.4,315.56 L714.4,315.20 L715.4,314.79 L716.4,314.32 L717.4,313.78 L718.4,313.18 L719.4,312.51 L720.4,311.76 L721.4,310.95 L722.4,310.05 L723.4,309.08 L724.4,308.03 L725.4,306.89 L726.4,305.67 L727.4,304.38 L728.4,303.01 L729.4,301.58 L730.4,300.10 L731.4,298.56 L732.4,296.97 L733.4,295.35 L734.4,293.69 L735.4,292.00 L736.4,290.29 L737.4,288.57 L738.4,286.83 L739.4,285.09 L740.4,283.35 L741.4,281.61 L742.4,279.88 L743.4,278.14 L744.4,276.41 L745.4,274.69 L746.4,272.97 L747.4,271.27 L748.4,269.57 L749.4,267.89 L750.4,266.22 L751.4,264.57 L752.4,262.93 L753.4,261.31 L754.4,259.71 L755.4,258.14 L756.4,256.58 L757.4,255.05 L758.4,253.55 L759.4,252.07 L760.4,250.62 L761.4,249.21 L762.4,247.82 L763.4,246.47 L764.4,245.15 L765.4,243.87 L766.4,242.63 L767.4,241.43 L768.4,240.27 L769.4,239.15 L770.4,238.06 L771.4,237.02 L772.4,236.02 L773.4,235.05 L774.4,234.12 L775.4,233.23 L776.4,232.37 L777.4,231.55 L778.4,230.75 L779.4,229.99 L780.4,229.27 L781.4,228.57 L782.4,227.90 L783.4,227.26 L784.4,226.65 L785.4,226.06 L786.4,225.51 L787.4,224.97 L788.4,224.46 L789.4,223.98 L790.4,223.52 L791.4,223.08 L792.4,222.66 L793.4,222.26 L794.4,221.88 L795.4,221.52 L796.4,221.17 L797.4,220.85 L798.4,220.54 L799.4,220.24 L800.4,219.96 L801.4,219.69 L802.4,219.43 L803.4,219.19 L804.4,218.95 L805.4,218.73 L806.4,218.51 L807.4,218.30 L808.4,218.10 L809.4,217.91 L810.4,217.72 L811.4,217.54 L812.4,217.36 L813.4,217.19 L814.4,217.02 L815.4,216.86 L816.4,216.71 L817.4,216.56 L818.4,216.43 L819.4,216.30 L820.4,216.18 L821.4,216.07 L822.4,215.97 L823.4,215.87 L824.4,215.79 L825.4,215.72 L826.4,215.66 L827.4,215.61 L828.4,215.58 L829.4,215.55 L830.4,215.54 L831.4,215.54 L832.4,215.55 L833.4,215.58 L834.4,215.62 L835.4,215.68 L836.4,215.75 L837.4,215.83 L838.4,215.94 L839.4,216.05 L840.4,216.19 L841.4,216.34 L842.4,216.51 L843.4,216.69 L844.4,216.90 L845.4,217.12 L846.4,217.36 L847.4,217.62 L848.4,217.90 L849.4,218.20 L850.4,218.52 L851.4,218.86 L852.4,219.22 L853.4,219.61 L854.4,220.01 L855.4,220.44 L856.4,220.89 L857.4,221.36 L858.4,221.86 L859.4,222.38 L860.4,222.92 L861.4,223.49 L862.4,224.08 L863.4,224.69 L864.4,225.32 L865.4,225.97 L866.4,226.65 L867.4,227.35 L868.4,228.07 L869.4,228.80 L870.4,229.56 L871.4,230.34 L872.4,231.14 L873.4,231.96 L874.4,232.79 L875.4,233.65 L876.4,234.52 L877.4,235.41 L878.4,236.32 L879.4,237.25 L880.4,238.19 L881.4,239.15 L882.4,240.13 L883.4,241.13 L884.4,242.14 L885.4,243.16 L886.4,244.20 L887.4,245.26 L888.4,246.33 L889.4,247.42 L890.4,248.52 L891.4,249.63 L892.4,250.76 L893.4,251.90 L894.4,253.05 L895.4,254.22 L896.4,255.39 L897.4,256.59 L898.4,257.79 L899.4,259.00 L900.4,260.23 L901.4,261.46 L902.4,262.71 L903.4,263.97 L904.4,265.23 L905.4,266.51 L906.4,267.80 L907.4,269.09 L908.4,270.40 L909.4,271.71 L910.4,273.03 L911.4,274.35 L912.4,275.67 L913.4,276.99 L914.4,278.30 L915.4,279.60 L916.4,280.88 L917.4,282.16 L918.4,283.41 L919.4,284.64 L920.4,285.85 L921.4,287.02 L922.4,288.17 L923.4,289.28 L924.4,290.36 L925.4,291.39 L926.4,292.38 L927.4,293.33 L928.4,294.23 L929.4,295.08 L930.4,295.88 L931.4,296.64 L932.4,297.34 L933.4,297.99 L934.4,298.58 L935.4,299.12 L936.4,299.60 L937.4,300.03 L938.4,300.39 L939.4,300.70 L940.4,300.94 L941.4,301.12 L942.4,301.23 L943.4,301.28 L944.4,301.26 L945.4,301.17 L946.4,301.01 L947.4,300.78 L948.4,300.47 L949.4,300.09 L950.4,299.64 L951.4,299.11 L952.4,298.50 L953.4,297.81 L954.4,297.06 L955.4,296.24 L956.4,295.36 L957.4,294.44 L958.4,293.47 L959.4,292.46 L960.4,291.42 L961.4,290.35 L962.4,289.27 L963.4,288.17 L964.4,287.07 L965.4,285.97 L966.4,284.88 L967.4,283.80 L968.4,282.74 L969.4,281.70 L970.4,280.69 L971.4,279.70 L972.4,278.75 L973.4,277.83 L974.4,276.94 L975.4,276.10 L976.4,275.30 L977.4,274.55 L978.4,273.84 L979.4,273.19 L980.4,272.60 L981.4,272.06 L982.4,271.59 L983.4,271.18 L984.4,270.85 L985.4,270.58 L986.4,270.39 L987.4,270.28 L988.4,270.24 L989.4,270.28 L990.4,270.40 L991.4,270.59 L992.4,270.86 L993.4,271.19 L994.4,271.59 L995.4,272.05 L996.4,272.58 L997.4,273.17 L998.4,273.81 L999.4,274.52 L1000.4,275.28 L1001.4,276.09 L1002.4,276.95 L1003.4,277.86 L1004.4,278.82 L1005.4,279.83 L1006.4,280.87 L1007.4,281.96 L1008.4,283.09 L1009.4,284.25 L1010.4,285.45 L1011.4,286.68 L1012.4,287.94 L1013.4,289.23 L1014.4,290.55 L1015.4,291.89 L1016.4,293.25 L1017.4,294.64 L1018.4,296.04 L1019.4,297.46 L1020.4,298.90 L1021.4,300.34 L1022.4,301.80 L1023.4,303.27 L1024.4,304.74 L1025.4,306.22 L1026.4,307.69 L1027.4,309.17 L1028.4,310.65 L1029.4,312.12 L1030.4,313.59 L1031.4,315.04 L1032.4,316.48 L1033.4,317.90 L1034.4,319.31 L1035.4,320.70 L1036.4,322.06 L1037.4,323.39 L1038.4,324.70 L1039.4,325.98 L1040.4,327.22 L1041.4,328.42 L1042.4,329.59 L1043.4,330.71 L1044.4,331.79 L1045.4,332.82 L1046.4,333.80 L1047.4,334.73 L1048.4,335.60 L1049.4,336.42 L1050.4,337.17 L1051.4,337.86 L1052.4,338.49 L1053.4,339.05 L1054.4,339.54 L1055.4,339.95 L1056.4,340.29 L1057.4,340.55 L1058.4,340.72 L1059.4,340.82 L1060.4,340.83 L1061.4,340.76 L1062.4,340.64 L1063.4,340.47 L1064.4,340.28 L1065.4,340.08 L1066.4,339.88 L1067.4,339.69 L1068.4,339.54 L1069.4,339.44 L1070.4,339.40 L1071.4,339.45 L1072.4,339.58 L1073.4,339.79 L1074.4,340.07 L1075.4,340.42 L1076.4,340.82 L1077.4,341.25 L1078.4,341.72 L1079.4,342.21 L1080.4,342.71 L1081.4,343.21 L1082.4,343.69 L1083.4,344.16 L1084.4,344.60 L1085.4,344.99 L1086.4,345.33 L1087.4,345.61 L1088.4,345.82 L1089.4,345.95 L1090.4,345.98 L1091.4,345.91 L1092.4,345.73 L1093.4,345.44 L1094.4,345.04 L1095.4,344.54 L1096.4,343.94 L1097.4,343.24 L1098.4,342.44 L1099.4,341.56 L1100.4,340.59 L1101.4,339.54 L1102.4,338.41 L1103.4,337.20 L1104.4,335.93 L1105.4,334.58 L1106.4,333.17 L1107.4,331.69 L1108.4,330.16 L1109.4,328.58 L1110.4,326.94 L1111.4,325.26 L1112.4,323.55 L1113.4,321.81 L1114.4,320.05 L1115.4,318.29 L1116.4,316.53 L1117.4,314.78 L1118.4,313.06 L1119.4,311.37 L1120.4,309.73 L1121.4,308.14 L1122.4,306.60 L1123.4,305.15 L1124.4,303.77 L1125.4,302.48 L1126.4,301.30 L1127.4,300.23 L1128.4,299.27 L1129.4,298.42 L1130.4,297.67 L1131.4,297.03 L1132.4,296.49 L1133.4,296.04 L1134.4,295.68 L1135.4,295.41 L1136.4,295.23 L1137.4,295.12 L1138.4,295.09 L1139.4,295.13 L1140.4,295.24 L1141.4,295.42 L1142.4,295.65 L1143.4,295.94 L1144.4,296.28 L1145.4,296.67 L1146.4,297.09 L1147.4,297.55 L1148.4,298.03 L1149.4,298.54 L1150.4,299.06 L1151.4,299.60 L1152.4,300.14 L1153.4,300.67 L1154.4,301.21 L1155.4,301.73 L1156.4,302.23 L1157.4,302.70 L1158.4,303.15 L1159.4,303.57 L1160.4,303.94 L1161.4,304.27 L1162.4,304.54 L1163.4,304.76 L1164.4,304.92 L1165.4,305.00 L1166.4,305.02 L1167.4,304.96 L1168.4,304.85 L1169.4,304.68 L1170.4,304.45 L1171.4,304.17 L1172.4,303.84 L1173.4,303.47 L1174.4,303.07 L1175.4,302.62 L1176.4,302.15 L1177.4,301.65 L1178.4,301.13 L1179.4,300.59 L1180.4,300.03 L1181.4,299.46 L1182.4,298.89 L1183.4,298.31 L1184.4,297.74 L1185.4,297.17 L1186.4,296.60 L1187.4,296.05 L1188.4,295.52 L1189.4,295.01 L1190.4,294.53 L1191.4,294.07 L1192.4,293.65 L1193.4,293.26 L1194.4,292.92 L1195.4,292.62 L1196.4,292.36 L1197.4,292.17 L1198.4,292.02 L1199.4,291.94 L1200.4,291.93 L1201.4,291.98 L1202.4,292.11 L1203.4,292.31 L1204.4,292.58 L1205.4,292.92 L1206.4,293.32 L1207.4,293.78 L1208.4,294.29 L1209.4,294.85 L1210.4,295.46 L1211.4,296.11 L1212.4,296.79 L1213.4,297.51 L1214.4,298.26 L1215.4,299.03 L1216.4,299.82 L1217.4,300.63 L1218.4,301.45 L1219.4,302.28 L1220.4,303.12 L1221.4,303.95 L1222.4,304.78 L1223.4,305.60 L1224.4,306.41 L1225.4,307.21 L1226.4,307.98 L1227.4,308.73 L1228.4,309.44 L1229.4,310.14 L1230.4,310.81 L1231.4,311.46 L1232.4,312.09 L1233.4,312.71 L1234.4,313.31 L1235.4,313.91 L1236.4,314.50 L1237.4,315.09 L1238.4,315.68 L1239.4,316.27 L1240.4,316.87 L1241.4,317.48 L1242.4,318.09 L1243.4,318.73 L1244.4,319.38 L1245.4,320.05 L1246.4,320.73 L1247.4,321.43 L1248.4,322.13 L1249.4,322.84 L1250.4,323.54 L1251.4,324.25 L1252.4,324.94 L1253.4,325.62 L1254.4,326.29 L1255.4,326.94 L1256.4,327.56 L1257.4,328.16 L1258.4,328.72 L1259.4,329.25 L1260.4,329.74 L1261.4,330.19 L1262.4,330.58 L1263.4,330.93 L1264.4,331.23 L1265.4,331.46 L1266.4,331.64 L1267.4,331.74 L1268.4,331.78 L1269.4,331.74 L1270.4,331.63 L1271.4,331.44 L1272.4,331.18 L1273.4,330.87 L1274.4,330.50 L1275.4,330.09 L1276.4,329.63 L1277.4,329.14 L1278.4,328.62 L1279.4,328.08 L1280.4,327.52 L1281.4,326.95 L1282.4,326.38 L1283.4,325.82 L1284.4,325.26 L1285.4,324.72 L1286.4,324.20 L1287.4,323.71 L1288.4,323.25 L1289.4,322.84 L1290.4,322.47 L1291.4,322.15 L1292.4,321.90 L1293.4,321.71 L1294.4,321.60 L1295.4,321.56 L1296.4,321.61 L1297.4,321.73 L1298.4,321.92 L1299.4,322.18 L1300.4,322.51 L1301.4,322.89 L1302.4,323.34 L1303.4,323.84 L1304.4,324.38 L1305.4,324.98 L1306.4,325.62 L1307.4,326.30 L1308.4,327.01 L1309.4,327.76 L1310.4,328.53 L1311.4,329.33 L1312.4,330.16 L1313.4,331.00 L1314.4,331.85 L1315.4,332.71 L1316.4,333.58 L1317.4,334.46 L1318.4,335.33 L1319.4,336.20 L1320.4,337.06 L1321.4,337.91 L1322.4,338.74 L1323.4,339.56 L1324.4,340.36 L1325.4,341.12 L1326.4,341.86 L1327.4,342.57 L1328.4,343.24 L1329.4,343.86 L1330.4,344.45 L1331.4,345.00 L1332.4,345.51 L1333.4,345.98 L1334.4,346.41 L1335.4,346.80 L1336.4,347.16 L1337.4,347.48 L1338.4,347.76 L1339.4,348.00 L1340.4,348.21 L1341.4,348.38 L1342.4,348.52 L1343.4,348.62 L1344.4,348.69 L1345.4,348.73 L1346.4,348.73 L1347.4,348.70 L1348.4,348.64 L1349.4,348.54 L1350.4,348.41 L1351.4,348.26 L1352.4,348.07 L1353.4,347.85 L1354.4,347.60 L1355.4,347.32 L1356.4,347.02 L1357.4,346.68 L1358.4,346.32 L1359.4,345.93 L1360.4,345.51 L1361.4,345.07 L1362.4,344.60 L1363.4,344.10 L1364.4,343.58 L1365.4,343.05 L1366.4,342.49 L1367.4,341.92 L1368.4,341.33 L1369.4,340.73 L1370.4,340.13 L1371.4,339.51 L1372.4,338.90 L1373.4,338.28 L1374.4,337.66 L1375.4,337.05 L1376.4,336.44 L1377.4,335.84 L1378.4,335.25 L1379.4,334.68 L1380.4,334.12 L1381.4,333.57 L1382.4,333.05 L1383.4,332.55 L1384.4,332.07 L1385.4,331.62 L1386.4,331.20 L1387.4,330.81 L1388.4,330.46 L1389.4,330.14 L1390.4,329.87 L1391.4,329.63 L1392.4,329.44 L1393.4,329.29 L1394.4,329.19 L1395.4,329.15 L1396.4,329.15 L1397.4,329.22 L1398.4,329.33 L1399.4,329.51 L1400.4,329.74 L1401.4,330.02 L1402.4,330.36 L1403.4,330.74 L1404.4,331.18 L1405.4,331.66 L1406.4,332.19 L1407.4,332.77 L1408.4,333.40 L1409.4,334.07 L1410.4,334.78 L1411.4,335.53 L1412.4,336.33 L1413.4,337.17 L1414.4,338.04 L1415.4,338.95 L1416.4,339.90 L1417.4,340.88 L1418.4,341.90 L1419.4,342.95 L1420.4,344.03 L1421.4,345.15 L1422.4,346.28 L1423.4,347.44 L1424.4,348.61 L1425.4,349.78 L1426.4,350.94 L1427.4,352.10 L1428.4,353.24 L1429.4,354.35 L1430.4,355.44 L1431.4,356.49 L1432.4,357.49 L1433.4,358.44 L1434.4,359.33 L1435.4,360.16 L1436.4,360.92 L1437.4,361.59 L1438.4,362.18 L1439.4,362.68 L1440.4,363.08 L1441.4,363.37 L1442.4,363.56 L1443.4,363.66 L1444.4,363.68 L1445.4,363.64 L1446.4,363.55 L1447.4,363.42 L1448.4,363.27 L1449.4,363.10 L1450.4,362.94 L1451.4,362.78 L1452.4,362.64 L1453.4,362.51 L1454.4,362.41 L1455.4,362.33 L1456.4,362.29 L1457.4,362.28 L1458.4,362.31 L1459.4,362.38 L1460.4,362.50 L1461.4,362.67 L1462.4,362.90 L1463.4,363.19 L1464.4,363.54 L1465.4,363.97 L1466.4,364.46 L1467.4,365.03 L1468.4,365.69 L1469.4,366.43 L1470.4,367.26 L1471.4,368.18 L1472.4,369.21 L1473.4,370.33 L1474.4,371.55 L1475.4,372.87 L1476.4,374.29 L1477.4,375.80 L1478.4,377.41 L1479.4,379.11 L1480.4,380.90 L1481.4,382.79 L1482.4,384.76 L1483.4,386.82 L1484.4,388.97 L1485.4,391.20 L1486.4,393.52 L1487.4,395.92 L1488.4,398.41 L1489.4,400.97 L1490.4,403.62 L1491.4,406.34 L1492.4,409.14 L1493.4,412.02 L1494.4,414.97 L1495.4,417.99 L1496.4,421.09 L1497.4,424.26 L1498.4,427.49 L1499.4,430.80 L1500.4,434.17 L1501.4,437.61 L1502.4,441.12 L1503.4,444.69 L1504.4,448.32 L1505.4,452.01 L1506.4,455.76 L1507.4,459.57 L1508.4,463.44 L1509.4,467.36 L1510.4,471.34 L1511.4,475.38 L1512.4,479.46 L1513.4,483.60 L1514.4,487.80 L1515.4,492.04 L1516.4,496.34 L1517.4,500.69 L1518.4,505.09 L1519.4,509.55 L1520.4,514.06 L1521.4,518.62 L1522.4,523.23 L1523.4,527.90 L1524.4,532.61 L1525.4,537.38 L1526.4,542.20 L1527.4,547.08 L1528.4,552.00 L1529.4,556.98 L1530.4,562.00 L1531.4,567.05 L1532.4,572.12 L1533.4,577.19 L1534.4,582.25 L1535.4,587.27 L1536.4,592.26 L1537.4,597.18 L1538.4,602.02 L1539.4,606.79 L1540.4,611.45 L1541.4,616.01 L1542.4,620.44 L1543.4,624.75 L1544.4,628.91 L1545.4,632.91 L1546.4,636.75 L1547.4,640.42 L1548.4,643.89 L1549.4,647.16 L1550.4,650.22 L1551.4,653.05 L1552.4,655.65 L1553.4,658.02 L1554.4,660.17 L1555.4,662.10 L1556.4,663.83 L1557.4,665.37 L1558.4,666.73 L1559.4,667.92 L1560.4,668.96 L1561.4,669.85 L1562.4,670.60 L1563.4,671.22 L1564.4,671.73 L1565.4,672.14 L1566.4,672.45 L1567.4,672.68 L1568.4,672.84 L1569.4,672.93 L1570.4,672.98 L1571.4,672.99 L1572.4,672.97 L1573.4,672.93 L1574.4,672.88 L1575.4,672.84 L1576.4,672.81 L1577.4,672.81 L1578.4,672.84 L1579.4,672.92 L1580.0,673.00" stroke="#c8c8c8"/>
<path d="M113.4,136.80 L114.4,136.99 L115.4,137.19 L116.4,137.38 L117.4,137.58 L118.4,137.78 L119.4,137.99 L120.4,138.20 L121.4,138.41 L122.4,138.63 L123.4,138.85 L124.4,139.07 L125.4,139.29 L126.4,139.52 L127.4,139.75 L128.4,139.98 L129.4,140.22 L130.4,140.46 L131.4,140.70 L132.4,140.94 L133.4,141.19 L134.4,141.43 L135.4,141.68 L136.4,141.93 L137.4,142.19 L138.4,142.45 L139.4,142.70 L140.4,142.96 L141.4,143.23 L142.4,143.49 L143.4,143.76 L144.4,144.02 L145.4,144.29 L146.4,144.56 L147.4,144.83 L148.4,145.11 L149.4,145.38 L150.4,145.66 L151.4,145.94 L152.4,146.21 L153.4,146.49 L154.4,146.78 L155.4,147.06 L156.4,147.34 L157.4,147.62 L158.4,147.91 L159.4,148.19 L160.4,148.48 L161.4,148.76 L162.4,149.05 L163.4,149.34 L164.4,149.63 L165.4,149.91 L166.4,150.20 L167.4,150.49 L168.4,150.78 L169.4,151.07 L170.4,151.36 L171.4,151.65 L172.4,151.94 L173.4,152.22 L174.4,152.51 L175.4,152.80 L176.4,153.09 L177.4,153.38 L178.4,153.66 L179.4,153.95 L180.4,154.23 L181.4,154.52 L182.4,154.80 L183.4,155.09 L184.4,155.37 L185.4,155.65 L186.4,155.93 L187.4,156.21 L188.4,156.49 L189.4,156.77 L190.4,157.04 L191.4,157.32 L192.4,157.59 L193.4,157.87 L194.4,158.14 L195.4,158.41 L196.4,158.67 L197.4,158.94 L198.4,159.20 L199.4,159.46 L200.4,159.73 L201.4,159.98 L202.4,160.24 L203.4,160.49 L204.4,160.75 L205.4,161.00 L206.4,161.24 L207.4,161.49 L208.4,161.73 L209.4,161.97 L210.4,162.21 L211.4,162.45 L212.4,162.68 L213.4,162.91 L214.4,163.14 L215.4,163.36 L216.4,163.58 L217.4,163.80 L218.4,164.02 L219.4,164.23 L220.4,164.44 L221.4,164.64 L222.4,164.84 L223.4,165.04 L224.4,165.23 L225.4,165.42 L226.4,165.61 L227.4,165.79 L228.4,165.96 L229.4,166.14 L230.4,166.30 L231.4,166.47 L232.4,166.62 L233.4,166.78 L234.4,166.93 L235.4,167.07 L236.4,167.21 L237.4,167.34 L238.4,167.47 L239.4,167.59 L240.4,167.71 L241.4,167.82 L242.4,167.93 L243.4,168.03 L244.4,168.12 L245.4,168.21 L246.4,168.29 L247.4,168.36 L248.4,168.43 L249.4,168.49 L250.4,168.55 L251.4,168.60 L252.4,168.64 L253.4,168.68 L254.4,168.70 L255.4,168.73 L256.4,168.74 L257.4,168.75 L258.4,168.75 L259.4,168.74 L260.4,168.72 L261.4,168.70 L262.4,168.67 L263.4,168.63 L264.4,168.58 L265.4,168.52 L266.4,168.46 L267.4,168.39 L268.4,168.31 L269.4,168.22 L270.4,168.12 L271.4,168.02 L272.4,167.90 L273.4,167.78 L274.4,167.64 L275.4,167.50 L276.4,167.35 L277.4,167.19 L278.4,167.02 L279.4,166.84 L280.4,166.65 L281.4,166.45 L282.4,166.24 L283.4,166.02 L284.4,165.79 L285.4,165.55 L286.4,165.30 L287.4,165.04 L288.4,164.77 L289.4,164.49 L290.4,164.19 L291.4,163.89 L292.4,163.58 L293.4,163.25 L294.4,162.91 L295.4,162.57 L296.4,162.21 L297.4,161.84 L298.4,161.46 L299.4,161.06 L300.4,160.66 L301.4,160.24 L302.4,159.81 L303.4,159.37 L304.4,158.92 L305.4,158.45 L306.4,157.98 L307.4,157.49 L308.4,157.01 L309.4,156.51 L310.4,156.02 L311.4,155.52 L312.4,155.02 L313.4,154.52 L314.4,154.02 L315.4,153.53 L316.4,153.05 L317.4,152.57 L318.4,152.10 L319.4,151.64 L320.4,151.20 L321.4,150.76 L322.4,150.34 L323.4,149.93 L324.4,149.54 L325.4,149.15 L326.4,148.77 L327.4,148.40 L328.4,148.05 L329.4,147.70 L330.4,147.36 L331.4,147.03 L332.4,146.70 L333.4,146.39 L334.4,146.08 L335.4,145.78 L336.4,145.48 L337.4,145.19 L338.4,144.90 L339.4,144.62 L340.4,144.34 L341.4,144.06 L342.4,143.79 L343.4,143.52 L344.4,143.25 L345.4,142.99 L346.4,142.72 L347.4,142.46 L348.4,142.20 L349.4,141.94 L350.4,141.68 L351.4,141.42 L352.4,141.16 L353.4,140.91 L354.4,140.66 L355.4,140.41 L356.4,140.16 L357.4,139.92 L358.4,139.68 L359.4,139.44 L360.4,139.21 L361.4,138.98 L362.4,138.75 L363.4,138.53 L364.4,138.31 L365.4,138.10 L366.4,137.89 L367.4,137.69 L368.4,137.49 L369.4,137.30 L370.4,137.11 L371.4,136.93 L372.4,136.76 L373.4,136.59 L374.4,136.43 L375.4,136.27 L376.4,136.13 L377.4,135.98 L378.4,135.85 L379.4,135.72 L380.4,135.61 L381.4,135.50 L382.4,135.39 L383.4,135.30 L384.4,135.21 L385.4,135.14 L386.4,135.07 L387.4,135.01 L388.4,134.96 L389.4,134.92 L390.4,134.89 L391.4,134.87 L392.4,134.86 L393.4,134.85 L394.4,134.85 L395.4,134.86 L396.4,134.88 L397.4,134.90 L398.4,134.93 L399.4,134.97 L400.4,135.01 L401.4,135.06 L402.4,135.11 L403.4,135.17 L404.4,135.24 L405.4,135.31 L406.4,135.38 L407.4,135.46 L408.4,135.54 L409.4,135.63 L410.4,135.72 L411.4,135.81 L412.4,135.90 L413.4,136.00 L414.4,136.10 L415.4,136.20 L416.4,136.30 L417.4,136.41 L418.4,136.52 L419.4,136.62 L420.4,136.73 L421.4,136.84 L422.4,136.95 L423.4,137.05 L424.4,137.16 L425.4,137.27 L426.4,137.37 L427.4,137.48 L428.4,137.58 L429.4,137.68 L430.4,137.78 L431.4,137.87 L432.4,137.97 L433.4,138.06 L434.4,138.14 L435.4,138.23 L436.4,138.31 L437.4,138.38 L438.4,138.45 L439.4,138.52 L440.4,138.58 L441.4,138.64 L442.4,138.69 L443.4,138.73 L444.4,138.77 L445.4,138.80 L446.4,138.83 L447.4,138.85 L448.4,138.86 L449.4,138.87 L450.4,138.86 L451.4,138.85 L452.4,138.83 L453.4,138.81 L454.4,138.77 L455.4,138.73 L456.4,138.67 L457.4,138.61 L458.4,138.53 L459.4,138.45 L460.4,138.35 L461.4,138.25 L462.4,138.13 L463.4,138.01 L464.4,137.88 L465.4,137.74 L466.4,137.59 L467.4,137.44 L468.4,137.28 L469.4,137.12 L470.4,136.94 L471.4,136.77 L472.4,136.59 L473.4,136.41 L474.4,136.22 L475.4,136.03 L476.4,135.84 L477.4,135.65 L478.4,135.45 L479.4,135.26 L480.4,135.06 L481.4,134.87 L482.4,134.68 L483.4,134.48 L484.4,134.30 L485.4,134.11 L486.4,133.93 L487.4,133.75 L488.4,133.57 L489.4,133.40 L490.4,133.23 L491.4,133.07 L492.4,132.92 L493.4,132.77 L494.4,132.62 L495.4,132.48 L496.4,132.35 L497.4,132.22 L498.4,132.10 L499.4,131.99 L500.4,131.88 L501.4,131.78 L502.4,131.69 L503.4,131.60 L504.4,131.52 L505.4,131.44 L506.4,131.38 L507.4,131.32 L508.4,131.27 L509.4,131.23 L510.4,131.19 L511.4,131.17 L512.4,131.15 L513.4,131.14 L514.4,131.14 L515.4,131.14 L516.4,131.16 L517.4,131.19 L518.4,131.22 L519.4,131.27 L520.4,131.32 L521.4,131.38 L522.4,131.46 L523.4,131.54 L524.4,131.63 L525.4,131.74 L526.4,131.85 L527.4,131.98 L528.4,132.11 L529.4,132.26 L530.4,132.42 L531.4,132.59 L532.4,132.77 L533.4,132.96 L534.4,133.16 L535.4,133.38 L536.4,133.61 L537.4,133.85 L538.4,134.10 L539.4,134.37 L540.4,134.64 L541.4,134.93 L542.4,135.24 L543.4,135.55 L544.4,135.88 L545.4,136.22 L546.4,136.58 L547.4,136.95 L548.4,137.34 L549.4,137.73 L550.4,138.15 L551.4,138.57 L552.4,139.01 L553.4,139.47 L554.4,139.94 L555.4,140.43 L556.4,140.93 L557.4,141.44 L558.4,141.97 L559.4,142.52 L560.4,143.08 L561.4,143.66 L562.4,144.26 L563.4,144.87 L564.4,145.49 L565.4,146.14 L566.4,146.80 L567.4,147.47 L568.4,148.17 L569.4,148.88 L570.4,149.61 L571.4,150.35 L572.4,151.11 L573.4,151.89 L574.4,152.68 L575.4,153.49 L576.4,154.31 L577.4,155.14 L578.4,155.99 L579.4,156.85 L580.4,157.72 L581.4,158.60 L582.4,159.50 L583.4,160.40 L584.4,161.31 L585.4,162.24 L586.4,163.17 L587.4,164.11 L588.4,165.05 L589.4,166.01 L590.4,166.97 L591.4,167.93 L592.4,168.91 L593.4,169.88 L594.4,170.87 L595.4,171.85 L596.4,172.84 L597.4,173.83 L598.4,174.82 L599.4,175.82 L600.4,176.82 L601.4,177.81 L602.4,178.81 L603.4,179.81 L604.4,180.80 L605.4,181.80 L606.4,182.79 L607.4,183.78 L608.4,184.76 L609.4,185.75 L610.4,186.73 L611.4,187.70 L612.4,188.67 L613.4,189.63 L614.4,190.59 L615.4,191.54 L616.4,192.48 L617.4,193.41 L618.4,194.34 L619.4,195.25 L620.4,196.16 L621.4,197.06 L622.4,197.94 L623.4,198.82 L624.4,199.68 L625.4,200.53 L626.4,201.37 L627.4,202.18 L628.4,202.98 L629.4,203.76 L630.4,204.52 L631.4,205.25 L632.4,205.96 L633.4,206.64 L634.4,207.29 L635.4,207.91 L636.4,208.50 L637.4,209.06 L638.4,209.58 L639.4,210.06 L640.4,210.51 L641.4,210.91 L642.4,211.27 L643.4,211.59 L644.4,211.87 L645.4,212.09 L646.4,212.27 L647.4,212.40 L648.4,212.47 L649.4,212.50 L650.4,212.49 L651.4,212.43 L652.4,212.34 L653.4,212.20 L654.4,212.02 L655.4,211.82 L656.4,211.58 L657.4,211.31 L658.4,211.01 L659.4,210.68 L660.4,210.33 L661.4,209.96 L662.4,209.57 L663.4,209.16 L664.4,208.74 L665.4,208.30 L666.4,207.85 L667.4,207.39 L668.4,206.92 L669.4,206.45 L670.4,205.98 L671.4,205.50 L672.4,205.02 L673.4,204.55 L674.4,204.09 L675.4,203.63 L676.4,203.18 L677.4,202.74 L678.4,202.31 L679.4,201.90 L680.4,201.51 L681.4,201.14 L682.4,200.79 L683.4,200.45 L684.4,200.13 L685.4,199.82 L686.4,199.53 L687.4,199.25 L688.4,198.99 L689.4,198.73 L690.4,198.49 L691.4,198.25 L692.4,198.03 L693.4,197.81 L694.4,197.60 L695.4,197.40 L696.4,197.20 L697.4,197.00 L698.4,196.81 L699.4,196.62 L700.4,196.44 L701.4,196.25 L702.4,196.06 L703.4,195.87 L704.4,195.68 L705.4,195.49 L706.4,195.29 L707.4,195.08 L708.4,194.87 L709.4,194.66 L710.4,194.43 L711.4,194.20 L712.4,193.96 L713.4,193.70 L714.4,193.44 L715.4,193.16 L716.4,192.87 L717.4,192.57 L718.4,192.25 L719.4,191.91 L720.4,191.56 L721.4,191.19 L722.4,190.80 L723.4,190.39 L724.4,189.96 L725.4,189.51 L726.4,189.03 L727.4,188.54 L728.4,188.02 L729.4,187.49 L730.4,186.95 L731.4,186.39 L732.4,185.83 L733.4,185.25 L734.4,184.67 L735.4,184.09 L736.4,183.50 L737.4,182.91 L738.4,182.33 L739.4,181.75 L740.4,181.17 L741.4,180.61 L742.4,180.05 L743.4,179.51 L744.4,178.98 L745.4,178.47 L746.4,177.97 L747.4,177.50 L748.4,177.05 L749.4,176.62 L750.4,176.23 L751.4,175.86 L752.4,175.52 L753.4,175.21 L754.4,174.94 L755.4,174.70 L756.4,174.51 L757.4,174.35 L758.4,174.24 L759.4,174.18 L760.4,174.16 L761.4,174.19 L762.4,174.27 L763.4,174.39 L764.4,174.56 L765.4,174.76 L766.4,175.00 L767.4,175.27 L768.4,175.57 L769.4,175.89 L770.4,176.24 L771.4,176.61 L772.4,177.00 L773.4,177.40 L774.4,177.81 L775.4,178.22 L776.4,178.64 L777.4,179.07 L778.4,179.49 L779.4,179.90 L780.4,180.31 L781.4,180.71 L782.4,181.09 L783.4,181.45 L784.4,181.80 L785.4,182.12 L786.4,182.41 L787.4,182.67 L788.4,182.90 L789.4,183.10 L790.4,183.25 L791.4,183.37 L792.4,183.43 L793.4,183.45 L794.4,183.42 L795.4,183.33 L796.4,183.19 L797.4,183.00 L798.4,182.76 L799.4,182.48 L800.4,182.14 L801.4,181.77 L802.4,181.35 L803.4,180.89 L804.4,180.40 L805.4,179.86 L806.4,179.30 L807.4,178.70 L808.4,178.07 L809.4,177.41 L810.4,176.73 L811.4,176.02 L812.4,175.29 L813.4,174.54 L814.4,173.77 L815.4,172.98 L816.4,172.17 L817.4,171.36 L818.4,170.53 L819.4,169.69 L820.4,168.84 L821.4,167.99 L822.4,167.13 L823.4,166.27 L824.4,165.41 L825.4,164.55 L826.4,163.69 L827.4,162.84 L828.4,162.00 L829.4,161.16 L830.4,160.34 L831.4,159.53 L832.4,158.73 L833.4,157.95 L834.4,157.18 L835.4,156.42 L836.4,155.68 L837.4,154.96 L838.4,154.25 L839.4,153.56 L840.4,152.89 L841.4,152.24 L842.4,151.60 L843.4,150.98 L844.4,150.38 L845.4,149.80 L846.4,149.25 L847.4,148.71 L848.4,148.19 L849.4,147.69 L850.4,147.22 L851.4,146.77 L852.4,146.34 L853.4,145.93 L854.4,145.55 L855.4,145.20 L856.4,144.86 L857.4,144.56 L858.4,144.28 L859.4,144.02 L860.4,143.79 L861.4,143.59 L862.4,143.42 L863.4,143.27 L864.4,143.16 L865.4,143.07 L866.4,143.01 L867.4,142.98 L868.4,142.99 L869.4,143.02 L870.4,143.08 L871.4,143.18 L872.4,143.31 L873.4,143.47 L874.4,143.67 L875.4,143.89 L876.4,144.16 L877.4,144.45 L878.4,144.79 L879.4,145.15 L880.4,145.56 L881.4,146.00 L882.4,146.48 L883.4,146.99 L884.4,147.55 L885.4,148.13 L886.4,148.76 L887.4,149.42 L888.4,150.11 L889.4,150.84 L890.4,151.59 L891.4,152.38 L892.4,153.19 L893.4,154.03 L894.4,154.90 L895.4,155.80 L896.4,156.72 L897.4,157.66 L898.4,158.62 L899.4,159.61 L900.4,160.61 L901.4,161.64 L902.4,162.68 L903.4,163.74 L904.4,164.81 L905.4,165.90 L906.4,167.01 L907.4,168.12 L908.4,169.25 L909.4,170.39 L910.4,171.53 L911.4,172.69 L912.4,173.85 L913.4,175.01 L914.4,176.19 L915.4,177.36 L916.4,178.54 L917.4,179.72 L918.4,180.90 L919.4,182.08 L920.4,183.25 L921.4,184.43 L922.4,185.60 L923.4,186.77 L924.4,187.93 L925.4,189.10 L926.4,190.25 L927.4,191.40 L928.4,192.55 L929.4,193.69 L930.4,194.82 L931.4,195.95 L932.4,197.07 L933.4,198.18 L934.4,199.28 L935.4,200.37 L936.4,201.45 L937.4,202.52 L938.4,203.58 L939.4,204.63 L940.4,205.67 L941.4,206.69 L942.4,207.71 L943.4,208.70 L944.4,209.69 L945.4,210.66 L946.4,211.61 L947.4,212.54 L948.4,213.43 L949.4,214.29 L950.4,215.10 L951.4,215.87 L952.4,216.57 L953.4,217.22 L954.4,217.80 L955.4,218.32 L956.4,218.78 L957.4,219.19 L958.4,219.54 L959.4,219.83 L960.4,220.08 L961.4,220.28 L962.4,220.43 L963.4,220.54 L964.4,220.60 L965.4,220.63 L966.4,220.61 L967.4,220.56 L968.4,220.47 L969.4,220.35 L970.4,220.20 L971.4,220.02 L972.4,219.81 L973.4,219.58 L974.4,219.32 L975.4,219.04 L976.4,218.74 L977.4,218.43 L978.4,218.10 L979.4,217.75 L980.4,217.38 L981.4,217.00 L982.4,216.60 L983.4,216.18 L984.4,215.73 L985.4,215.27 L986.4,214.79 L987.4,214.29 L988.4,213.77 L989.4,213.22 L990.4,212.65 L991.4,212.06 L992.4,211.44 L993.4,210.81 L994.4,210.16 L995.4,209.49 L996.4,208.81 L997.4,208.12 L998.4,207.41 L999.4,206.69 L1000.4,205.97 L1001.4,205.24 L1002.4,204.51 L1003.4,203.77 L1004.4,203.03 L1005.4,202.29 L1006.4,201.56 L1007.4,200.83 L1008.4,200.10 L1009.4,199.38 L1010.4,198.67 L1011.4,197.97 L1012.4,197.28 L1013.4,196.61 L1014.4,195.95 L1015.4,195.31 L1016.4,194.69 L1017.4,194.09 L1018.4,193.51 L1019.4,192.95 L1020.4,192.42 L1021.4,191.92 L1022.4,191.45 L1023.4,191.00 L1024.4,190.59 L1025.4,190.21 L1026.4,189.87 L1027.4,189.57 L1028.4,189.30 L1029.4,189.08 L1030.4,188.90 L1031.4,188.76 L1032.4,188.66 L1033.4,188.62 L1034.4,188.62 L1035.4,188.66 L1036.4,188.76 L1037.4,188.89 L1038.4,189.07 L1039.4,189.30 L1040.4,189.56 L1041.4,189.87 L1042.4,190.22 L1043.4,190.61 L1044.4,191.04 L1045.4,191.51 L1046.4,192.02 L1047.4,192.56 L1048.4,193.15 L1049.4,193.76 L1050.4,194.42 L1051.4,195.11 L1052.4,195.83 L1053.4,196.59 L1054.4,197.38 L1055.4,198.20 L1056.4,199.05 L1057.4,199.93 L1058.4,200.85 L1059.4,201.79 L1060.4,202.76 L1061.4,203.76 L1062.4,204.77 L1063.4,205.80 L1064.4,206.84 L1065.4,207.87 L1066.4,208.90 L1067.4,209.92 L1068.4,210.92 L1069.4,211.89 L1070.4,212.83 L1071.4,213.74 L1072.4,214.60 L1073.4,215.41 L1074.4,216.16 L1075.4,216.85 L1076.4,217.47 L1077.4,218.01 L1078.4,218.48 L1079.4,218.85 L1080.4,219.13 L1081.4,219.31 L1082.4,219.38 L1083.4,219.34 L1084.4,219.18 L1085.4,218.89 L1086.4,218.47 L1087.4,217.93 L1088.4,217.27 L1089.4,216.51 L1090.4,215.65 L1091.4,214.70 L1092.4,213.67 L1093.4,212.56 L1094.4,211.39 L1095.4,210.16 L1096.4,208.88 L1097.4,207.56 L1098.4,206.21 L1099.4,204.84 L1100.4,203.44 L1101.4,202.03 L1102.4,200.61 L1103.4,199.17 L1104.4,197.73 L1105.4,196.29 L1106.4,194.85 L1107.4,193.40 L1108.4,191.97 L1109.4,190.54 L1110.4,189.12 L1111.4,187.71 L1112.4,186.33 L1113.4,184.96 L1114.4,183.62 L1115.4,182.30 L1116.4,181.01 L1117.4,179.75 L1118.4,178.53 L1119.4,177.34 L1120.4,176.19 L1121.4,175.07 L1122.4,173.97 L1123.4,172.90 L1124.4,171.85 L1125.4,170.81 L1126.4,169.79 L1127.4,168.79 L1128.4,167.78 L1129.4,166.78 L1130.4,165.79 L1131.4,164.79 L1132.4,163.78 L1133.4,162.76 L1134.4,161.73 L1135.4,160.69 L1136.4,159.62 L1137.4,158.53 L1138.4,157.42 L1139.4,156.28 L1140.4,155.11 L1141.4,153.93 L1142.4,152.72 L1143.4,151.50 L1144.4,150.26 L1145.4,149.00 L1146.4,147.73 L1147.4,146.45 L1148.4,145.17 L1149.4,143.87 L1150.4,142.57 L1151.4,141.27 L1152.4,139.97 L1153.4,138.67 L1154.4,137.37 L1155.4,136.07 L1156.4,134.78 L1157.4,133.51 L1158.4,132.24 L1159.4,130.98 L1160.4,129.74 L1161.4,128.51 L1162.4,127.31 L1163.4,126.12 L1164.4,124.95 L1165.4,123.81 L1166.4,122.69 L1167.4,121.61 L1168.4,120.55 L1169.4,119.52 L1170.4,118.53 L1171.4,117.57 L1172.4,116.65 L1173.4,115.77 L1174.4,114.92 L1175.4,114.13 L1176.4,113.37 L1177.4,112.67 L1178.4,112.01 L1179.4,111.41 L1180.4,110.85 L1181.4,110.35 L1182.4,109.91 L1183.4,109.53 L1184.4,109.20 L1185.4,108.94 L1186.4,108.74 L1187.4,108.61 L1188.4,108.54 L1189.4,108.54 L1190.4,108.59 L1191.4,108.71 L1192.4,108.89 L1193.4,109.13 L1194.4,109.42 L1195.4,109.77 L1196.4,110.18 L1197.4,110.64 L1198.4,111.15 L1199.4,111.71 L1200.4,112.33 L1201.4,112.99 L1202.4,113.70 L1203.4,114.46 L1204.4,115.26 L1205.4,116.11 L1206.4,117.00 L1207.4,117.93 L1208.4,118.91 L1209.4,119.92 L1210.4,120.97 L1211.4,122.06 L1212.4,123.18 L1213.4,124.34 L1214.4,125.54 L1215.4,126.76 L1216.4,128.02 L1217.4,129.31 L1218.4,130.62 L1219.4,131.97 L1220.4,133.34 L1221.4,134.73 L1222.4,136.15 L1223.4,137.59 L1224.4,139.06 L1225.4,140.54 L1226.4,142.05 L1227.4,143.57 L1228.4,145.11 L1229.4,146.67 L1230.4,148.24 L1231.4,149.82 L1232.4,151.42 L1233.4,153.02 L1234.4,154.64 L1235.4,156.27 L1236.4,157.90 L1237.4,159.54 L1238.4,161.19 L1239.4,162.83 L1240.4,164.49 L1241.4,166.14 L1242.4,167.79 L1243.4,169.45 L1244.4,171.10 L1245.4,172.75 L1246.4,174.38 L1247.4,176.01 L1248.4,177.61 L1249.4,179.18 L1250.4,180.71 L1251.4,182.20 L1252.4,183.63 L1253.4,185.01 L1254.4,186.32 L1255.4,187.56 L1256.4,188.72 L1257.4,189.80 L1258.4,190.78 L1259.4,191.66 L1260.4,192.43 L1261.4,193.08 L1262.4,193.62 L1263.4,194.02 L1264.4,194.29 L1265.4,194.43 L1266.4,194.43 L1267.4,194.31 L1268.4,194.07 L1269.4,193.73 L1270.4,193.28 L1271.4,192.74 L1272.4,192.12 L1273.4,191.41 L1274.4,190.63 L1275.4,189.78 L1276.4,188.88 L1277.4,187.93 L1278.4,186.93 L1279.4,185.89 L1280.4,184.83 L1281.4,183.74 L1282.4,182.64 L1283.4,181.53 L1284.4,180.42 L1285.4,179.31 L1286.4,178.21 L1287.4,177.13 L1288.4,176.05 L1289.4,175.00 L1290.4,173.97 L1291.4,172.97 L1292.4,172.00 L1293.4,171.07 L1294.4,170.17 L1295.4,169.32 L1296.4,168.52 L1297.4,167.77 L1298.4,167.08 L1299.4,166.44 L1300.4,165.87 L1301.4,165.37 L1302.4,164.95 L1303.4,164.59 L1304.4,164.32 L1305.4,164.14 L1306.4,164.04 L1307.4,164.03 L1308.4,164.12 L1309.4,164.29 L1310.4,164.54 L1311.4,164.88 L1312.4,165.28 L1313.4,165.76 L1314.4,166.30 L1315.4,166.90 L1316.4,167.56 L1317.4,168.27 L1318.4,169.03 L1319.4,169.84 L1320.4,170.68 L1321.4,171.56 L1322.4,172.48 L1323.4,173.42 L1324.4,174.38 L1325.4,175.36 L1326.4,176.35 L1327.4,177.36 L1328.4,178.37 L1329.4,179.38 L1330.4,180.39 L1331.4,181.39 L1332.4,182.39 L1333.4,183.36 L1334.4,184.32 L1335.4,185.25 L1336.4,186.16 L1337.4,187.03 L1338.4,187.86 L1339.4,188.66 L1340.4,189.41 L1341.4,190.10 L1342.4,190.73 L1343.4,191.28 L1344.4,191.74 L1345.4,192.10 L1346.4,192.35 L1347.4,192.48 L1348.4,192.47 L1349.4,192.31 L1350.4,192.01 L1351.4,191.57 L1352.4,190.99 L1353.4,190.27 L1354.4,189.42 L1355.4,188.44 L1356.4,187.33 L1357.4,186.10 L1358.4,184.75 L1359.4,183.28 L1360.4,181.70 L1361.4,180.01 L1362.4,178.21 L1363.4,176.31 L1364.4,174.31 L1365.4,172.20 L1366.4,170.01 L1367.4,167.72 L1368.4,165.34 L1369.4,162.88 L1370.4,160.34 L1371.4,157.73 L1372.4,155.08 L1373.4,152.39 L1374.4,149.67 L1375.4,146.95 L1376.4,144.23 L1377.4,141.53 L1378.4,138.86 L1379.4,136.23 L1380.4,133.65 L1381.4,131.12 L1382.4,128.65 L1383.4,126.22 L1384.4,123.86 L1385.4,121.55 L1386.4,119.29 L1387.4,117.10 L1388.4,114.97 L1389.4,112.90 L1390.4,110.90 L1391.4,108.96 L1392.4,107.10 L1393.4,105.30 L1394.4,103.57 L1395.4,101.92 L1396.4,100.34 L1397.4,98.84 L1398.4,97.42 L1399.4,96.07 L1400.4,94.81 L1401.4,93.63 L1402.4,92.54 L1403.4,91.53 L1404.4,90.61 L1405.4,89.78 L1406.4,89.04 L1407.4,88.39 L1408.4,87.84 L1409.4,87.39 L1410.4,87.03 L1411.4,86.77 L1412.4,86.61 L1413.4,86.55 L1414.4,86.59 L1415.4,86.72 L1416.4,86.94 L1417.4,87.25 L1418.4,87.65 L1419.4,88.13 L1420.4,88.68 L1421.4,89.32 L1422.4,90.03 L1423.4,90.81 L1424.4,91.65 L1425.4,92.57 L1426.4,93.55 L1427.4,94.58 L1428.4,95.68 L1429.4,96.82 L1430.4,98.01 L1431.4,99.23 L1432.4,100.48 L1433.4,101.76 L1434.4,103.05 L1435.4,104.36 L1436.4,105.67 L1437.4,106.98 L1438.4,108.27 L1439.4,109.56 L1440.4,110.82 L1441.4,112.05 L1442.4,113.25 L1443.4,114.41 L1444.4,115.52 L1445.4,116.57 L1446.4,117.57 L1447.4,118.50 L1448.4,119.35 L1449.4,120.12 L1450.4,120.81 L1451.4,121.41 L1452.4,121.91 L1453.4,122.33 L1454.4,122.65 L1455.4,122.89 L1456.4,123.04 L1457.4,123.10 L1458.4,123.07 L1459.4,122.95 L1460.4,122.76 L1461.4,122.50 L1462.4,122.18 L1463.4,121.80 L1464.4,121.37 L1465.4,120.90 L1466.4,120.39 L1467.4,119.85 L1468.4,119.29 L1469.4,118.71 L1470.4,118.13 L1471.4,117.54 L1472.4,116.96 L1473.4,116.39 L1474.4,115.84 L1475.4,115.31 L1476.4,114.81 L1477.4,114.36 L1478.4,113.94 L1479.4,113.58 L1480.4,113.28 L1481.4,113.05 L1482.4,112.89 L1483.4,112.80 L1484.4,112.80 L1485.4,112.90 L1486.4,113.09 L1487.4,113.36 L1488.4,113.71 L1489.4,114.15 L1490.4,114.65 L1491.4,115.23 L1492.4,115.87 L1493.4,116.58 L1494.4,117.34 L1495.4,118.16 L1496.4,119.03 L1497.4,119.94 L1498.4,120.89 L1499.4,121.88 L1500.4,122.90 L1501.4,123.94 L1502.4,125.00 L1503.4,126.06 L1504.4,127.13 L1505.4,128.19 L1506.4,129.25 L1507.4,130.28 L1508.4,131.29 L1509.4,132.27 L1510.4,133.22 L1511.4,134.11 L1512.4,134.96 L1513.4,135.75 L1514.4,136.47 L1515.4,137.13 L1516.4,137.70 L1517.4,138.19 L1518.4,138.59 L1519.4,138.90 L1520.4,139.11 L1521.4,139.24 L1522.4,139.29 L1523.4,139.26 L1524.4,139.16 L1525.4,139.00 L1526.4,138.78 L1527.4,138.50 L1528.4,138.18 L1529.4,137.80 L1530.4,137.39 L1531.4,136.95 L1532.4,136.48 L1533.4,135.98 L1534.4,135.47 L1535.4,134.95 L1536.4,134.42 L1537.4,133.90 L1538.4,133.37 L1539.4,132.87 L1540.4,132.37 L1541.4,131.90 L1542.4,131.46 L1543.4,131.06 L1544.4,130.69 L1545.4,130.37 L1546.4,130.11 L1547.4,129.89 L1548.4,129.74 L1549.4,129.64 L1550.4,129.60 L1551.4,129.59 L1552.4,129.64 L1553.4,129.72 L1554.4,129.83 L1555.4,129.98 L1556.4,130.15 L1557.4,130.34 L1558.4,130.56 L1559.4,130.79 L1560.4,131.03 L1561.4,131.28 L1562.4,131.53 L1563.4,131.78 L1564.4,132.02 L1565.4,132.26 L1566.4,132.49 L1567.4,132.70 L1568.4,132.88 L1569.4,133.05 L1570.4,133.19 L1571.4,133.29 L1572.4,133.36 L1573.4,133.39 L1574.4,133.38 L1575.4,133.31 L1576.4,133.20 L1577.4,133.03 L1578.4,132.80 L1579.4,132.51 L1580.0,132.30" stroke="#000000"/>
</g>
<rect x="8.9" y="732.8" width="12.4" height="12.4" rx="2.2" fill="#fff" stroke="#3c7fd8" stroke-width="1.4"/>
<path d="M11.6,739.2 L14.2,742.2 L18.6,735.8" fill="none" stroke="#1f6fd6" stroke-width="1.9" stroke-linecap="round" stroke-linejoin="round"/>
<text x="28.3" y="743.7" font-size="12.5" fill="#3a3a3a" textLength="82.3" lengthAdjust="spacingAndGlyphs">6: SL 20 Grad V3</text>
<line x1="193" y1="740" x2="241.5" y2="740" stroke="#3e3e3e" stroke-width="3.8" stroke-linecap="round"/>
<rect x="203" y="731.8" width="29" height="16.4" rx="3.4" fill="#fff" stroke="#3e3e3e" stroke-width="1.9"/>
<text x="209.8" y="743.8" font-size="10.6" fill="#111" textLength="14.2" lengthAdjust="spacingAndGlyphs">Psy</text>
<text x="289.5" y="743.5" font-size="12.5" fill="#3a3a3a" textLength="37" lengthAdjust="spacingAndGlyphs">84,3 dB</text>
<rect x="365.9" y="732.8" width="12.4" height="12.4" rx="2.2" fill="#fff" stroke="#3c7fd8" stroke-width="1.4"/>
<path d="M368.6,739.2 L371.2,742.2 L375.6,735.8" fill="none" stroke="#1f6fd6" stroke-width="1.9" stroke-linecap="round" stroke-linejoin="round"/>
<text x="385.3" y="743.7" font-size="12.5" fill="#8c8c8c" textLength="82" lengthAdjust="spacingAndGlyphs">8: SL 30 Grad V3</text>
<line x1="550" y1="740" x2="598.5" y2="740" stroke="#999999" stroke-width="3.8" stroke-linecap="round"/>
<rect x="560" y="731.8" width="29" height="16.4" rx="3.4" fill="#fff" stroke="#999999" stroke-width="1.9"/>
<text x="566.8" y="743.8" font-size="10.6" fill="#111" textLength="14.2" lengthAdjust="spacingAndGlyphs">Psy</text>
<text x="646.5" y="743.5" font-size="12.5" fill="#8c8c8c" textLength="37" lengthAdjust="spacingAndGlyphs">81,4 dB</text>
<rect x="722.9" y="732.8" width="12.4" height="12.4" rx="2.2" fill="#fff" stroke="#3c7fd8" stroke-width="1.4"/>
<path d="M725.6,739.2 L728.2,742.2 L732.6,735.8" fill="none" stroke="#1f6fd6" stroke-width="1.9" stroke-linecap="round" stroke-linejoin="round"/>
<text x="742.3" y="743.7" font-size="12.5" fill="#dc1040" textLength="85" lengthAdjust="spacingAndGlyphs">11: SL 45Grad V3</text>
<line x1="907" y1="740" x2="955.5" y2="740" stroke="#e8003a" stroke-width="3.8" stroke-linecap="round"/>
<rect x="917" y="731.8" width="29" height="16.4" rx="3.4" fill="#fff" stroke="#e8003a" stroke-width="1.9"/>
<text x="923.8" y="743.8" font-size="10.6" fill="#111" textLength="14.2" lengthAdjust="spacingAndGlyphs">Psy</text>
<text x="1003.5" y="743.5" font-size="12.5" fill="#dc1040" textLength="37" lengthAdjust="spacingAndGlyphs">74,4 dB</text>
<rect x="1079.9" y="732.8" width="12.4" height="12.4" rx="2.2" fill="#fff" stroke="#3c7fd8" stroke-width="1.4"/>
<path d="M1082.6,739.2 L1085.2,742.2 L1089.6,735.8" fill="none" stroke="#1f6fd6" stroke-width="1.9" stroke-linecap="round" stroke-linejoin="round"/>
<text x="1099.3" y="743.7" font-size="12.5" fill="#eea078" textLength="84.4" lengthAdjust="spacingAndGlyphs">14: SL 60Grad V3</text>
<line x1="1264" y1="740" x2="1312.5" y2="740" stroke="#f4a070" stroke-width="3.8" stroke-linecap="round"/>
<rect x="1274" y="731.8" width="29" height="16.4" rx="3.4" fill="#fff" stroke="#f4a070" stroke-width="1.9"/>
<text x="1280.8" y="743.8" font-size="10.6" fill="#111" textLength="14.2" lengthAdjust="spacingAndGlyphs">Psy</text>
<text x="1360.5" y="743.5" font-size="12.5" fill="#eea078" textLength="37" lengthAdjust="spacingAndGlyphs">65,9 dB</text>
<rect x="8.9" y="753.8" width="12.4" height="12.4" rx="2.2" fill="#fff" stroke="#3c7fd8" stroke-width="1.4"/>
<path d="M11.6,760.2 L14.2,763.2 L18.6,756.8" fill="none" stroke="#1f6fd6" stroke-width="1.9" stroke-linecap="round" stroke-linejoin="round"/>
<text x="28.3" y="764.7" font-size="12.5" fill="#f4c4c8" textLength="84" lengthAdjust="spacingAndGlyphs">16: SL 70Grad V3</text>
<line x1="193" y1="761" x2="241.5" y2="761" stroke="#f8c8c8" stroke-width="3.8" stroke-linecap="round"/>
<rect x="203" y="752.8" width="29" height="16.4" rx="3.4" fill="#fff" stroke="#f8c8c8" stroke-width="1.9"/>
<text x="209.8" y="764.8" font-size="10.6" fill="#111" textLength="14.2" lengthAdjust="spacingAndGlyphs">Psy</text>
<text x="289.5" y="764.5" font-size="12.5" fill="#f4c4c8" textLength="37" lengthAdjust="spacingAndGlyphs">63,0 dB</text>
<rect x="365.9" y="753.8" width="12.4" height="12.4" rx="2.2" fill="#fff" stroke="#3c7fd8" stroke-width="1.4"/>
<path d="M368.6,760.2 L371.2,763.2 L375.6,756.8" fill="none" stroke="#1f6fd6" stroke-width="1.9" stroke-linecap="round" stroke-linejoin="round"/>
<text x="385.3" y="764.7" font-size="12.5" fill="#c4c4c4" textLength="85" lengthAdjust="spacingAndGlyphs">17: SL 80Grad V3</text>
<line x1="550" y1="761" x2="598.5" y2="761" stroke="#c8c8c8" stroke-width="3.8" stroke-linecap="round"/>
<rect x="560" y="752.8" width="29" height="16.4" rx="3.4" fill="#fff" stroke="#c8c8c8" stroke-width="1.9"/>
<text x="566.8" y="764.8" font-size="10.6" fill="#111" textLength="14.2" lengthAdjust="spacingAndGlyphs">Psy</text>
<text x="646.5" y="764.5" font-size="12.5" fill="#c4c4c4" textLength="37" lengthAdjust="spacingAndGlyphs">61,3 dB</text>
<rect x="722.9" y="753.8" width="12.4" height="12.4" rx="2.2" fill="#fff" stroke="#3c7fd8" stroke-width="1.4"/>
<path d="M725.6,760.2 L728.2,763.2 L732.6,756.8" fill="none" stroke="#1f6fd6" stroke-width="1.9" stroke-linecap="round" stroke-linejoin="round"/>
<text x="742.3" y="764.7" font-size="12.5" fill="#1a1a1a" textLength="79" lengthAdjust="spacingAndGlyphs">19: SL 0Grad V3</text>
<line x1="907" y1="761" x2="955.5" y2="761" stroke="#000000" stroke-width="3.8" stroke-linecap="round"/>
<rect x="917" y="752.8" width="29" height="16.4" rx="3.4" fill="#fff" stroke="#000000" stroke-width="1.9"/>
<text x="923.8" y="764.8" font-size="10.6" fill="#111" textLength="14.2" lengthAdjust="spacingAndGlyphs">Psy</text>
<text x="1003.5" y="764.5" font-size="12.5" fill="#1a1a1a" textLength="37" lengthAdjust="spacingAndGlyphs">86,6 dB</text>
</svg></body></html>
